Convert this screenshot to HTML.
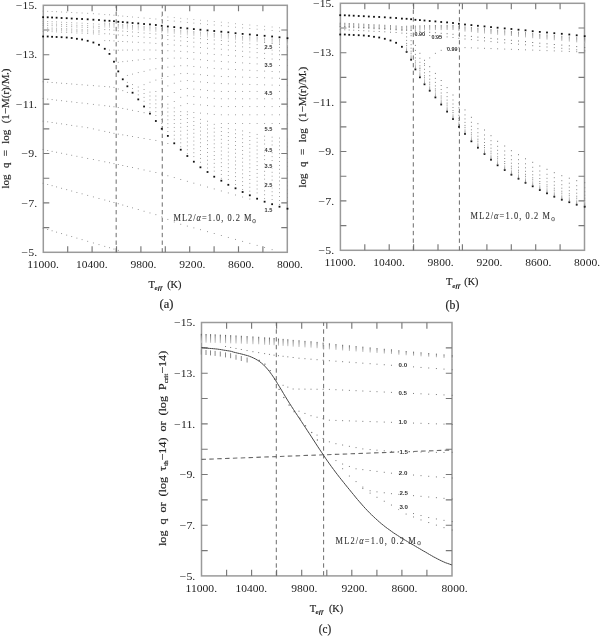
<!DOCTYPE html><html><head><meta charset="utf-8"><style>
html,body{margin:0;padding:0;background:#fff;width:600px;height:636px;overflow:hidden}
svg{display:block}
#w{width:600px;height:636px;will-change:transform}
.tk{font-family:"Liberation Serif",serif;font-size:10.5px;fill:#222}
.lb{font-family:"Liberation Serif",serif;font-size:10px;fill:#222;stroke:#222;stroke-width:0.18px}
.ml{font-family:"Liberation Serif",serif;font-size:10px;fill:#333;stroke:#333;stroke-width:0.1px}
.sm{font-family:"Liberation Sans",sans-serif;font-size:5.6px;font-weight:bold;fill:#333}
</style></head><body><div id="w">
<svg width="600" height="636" viewBox="0 0 600 636">
<defs><linearGradient id="gd" x1="0" y1="0" x2="0" y2="1"><stop offset="0" stop-color="#555"/><stop offset="0.25" stop-color="#888"/><stop offset="1" stop-color="#c8c8c8"/></linearGradient></defs>
<rect x="43.3" y="5.3" width="244.0" height="247.0" fill="none" stroke="#9a9a9a" stroke-width="1.5"/>
<path d="M67.7 5.3V11.3M67.7 252.3V246.3M92.1 5.3V11.3M92.1 252.3V246.3M116.5 5.3V11.3M116.5 252.3V246.3M140.9 5.3V11.3M140.9 252.3V246.3M165.3 5.3V11.3M165.3 252.3V246.3M189.7 5.3V11.3M189.7 252.3V246.3M214.1 5.3V11.3M214.1 252.3V246.3M238.5 5.3V11.3M238.5 252.3V246.3M262.9 5.3V11.3M262.9 252.3V246.3M43.3 30.0H49.3M287.3 30.0H281.3M43.3 54.7H49.3M287.3 54.7H281.3M43.3 79.4H49.3M287.3 79.4H281.3M43.3 104.1H49.3M287.3 104.1H281.3M43.3 128.8H49.3M287.3 128.8H281.3M43.3 153.5H49.3M287.3 153.5H281.3M43.3 178.2H49.3M287.3 178.2H281.3M43.3 202.9H49.3M287.3 202.9H281.3M43.3 227.6H49.3M287.3 227.6H281.3" stroke="#787878" stroke-width="1.15" fill="none"/>
<text x="37.1" y="9.0" class="tk" text-anchor="end" textLength="21.0" lengthAdjust="spacingAndGlyphs">−15.</text>
<text x="37.1" y="58.4" class="tk" text-anchor="end" textLength="21.0" lengthAdjust="spacingAndGlyphs">−13.</text>
<text x="37.1" y="107.8" class="tk" text-anchor="end" textLength="21.0" lengthAdjust="spacingAndGlyphs">−11.</text>
<text x="37.1" y="157.2" class="tk" text-anchor="end" textLength="15.6" lengthAdjust="spacingAndGlyphs">−9.</text>
<text x="37.1" y="206.6" class="tk" text-anchor="end" textLength="15.6" lengthAdjust="spacingAndGlyphs">−7.</text>
<text x="37.1" y="256.0" class="tk" text-anchor="end" textLength="15.6" lengthAdjust="spacingAndGlyphs">−5.</text>
<text x="58.9" y="268.3" class="tk" text-anchor="end" textLength="31.6" lengthAdjust="spacingAndGlyphs">11000.</text>
<text x="107.7" y="268.3" class="tk" text-anchor="end" textLength="31.6" lengthAdjust="spacingAndGlyphs">10400.</text>
<text x="156.5" y="268.3" class="tk" text-anchor="end" textLength="26.0" lengthAdjust="spacingAndGlyphs">9800.</text>
<text x="205.3" y="268.3" class="tk" text-anchor="end" textLength="26.0" lengthAdjust="spacingAndGlyphs">9200.</text>
<text x="254.1" y="268.3" class="tk" text-anchor="end" textLength="26.0" lengthAdjust="spacingAndGlyphs">8600.</text>
<text x="302.9" y="268.3" class="tk" text-anchor="end" textLength="26.0" lengthAdjust="spacingAndGlyphs">8000.</text>
<rect x="340.4" y="3.3" width="244.1" height="247.0" fill="none" stroke="#9a9a9a" stroke-width="1.5"/>
<path d="M364.8 3.3V9.3M364.8 250.3V244.3M389.2 3.3V9.3M389.2 250.3V244.3M413.6 3.3V9.3M413.6 250.3V244.3M438.0 3.3V9.3M438.0 250.3V244.3M462.4 3.3V9.3M462.4 250.3V244.3M486.9 3.3V9.3M486.9 250.3V244.3M511.3 3.3V9.3M511.3 250.3V244.3M535.7 3.3V9.3M535.7 250.3V244.3M560.1 3.3V9.3M560.1 250.3V244.3M340.4 28.0H346.4M584.5 28.0H578.5M340.4 52.7H346.4M584.5 52.7H578.5M340.4 77.4H346.4M584.5 77.4H578.5M340.4 102.1H346.4M584.5 102.1H578.5M340.4 126.8H346.4M584.5 126.8H578.5M340.4 151.5H346.4M584.5 151.5H578.5M340.4 176.2H346.4M584.5 176.2H578.5M340.4 200.9H346.4M584.5 200.9H578.5M340.4 225.6H346.4M584.5 225.6H578.5" stroke="#787878" stroke-width="1.15" fill="none"/>
<text x="334.2" y="7.0" class="tk" text-anchor="end" textLength="21.0" lengthAdjust="spacingAndGlyphs">−15.</text>
<text x="334.2" y="56.4" class="tk" text-anchor="end" textLength="21.0" lengthAdjust="spacingAndGlyphs">−13.</text>
<text x="334.2" y="105.8" class="tk" text-anchor="end" textLength="21.0" lengthAdjust="spacingAndGlyphs">−11.</text>
<text x="334.2" y="155.2" class="tk" text-anchor="end" textLength="15.6" lengthAdjust="spacingAndGlyphs">−9.</text>
<text x="334.2" y="204.6" class="tk" text-anchor="end" textLength="15.6" lengthAdjust="spacingAndGlyphs">−7.</text>
<text x="334.2" y="254.0" class="tk" text-anchor="end" textLength="15.6" lengthAdjust="spacingAndGlyphs">−5.</text>
<text x="356.0" y="266.3" class="tk" text-anchor="end" textLength="31.6" lengthAdjust="spacingAndGlyphs">11000.</text>
<text x="404.8" y="266.3" class="tk" text-anchor="end" textLength="31.6" lengthAdjust="spacingAndGlyphs">10400.</text>
<text x="453.6" y="266.3" class="tk" text-anchor="end" textLength="26.0" lengthAdjust="spacingAndGlyphs">9800.</text>
<text x="502.5" y="266.3" class="tk" text-anchor="end" textLength="26.0" lengthAdjust="spacingAndGlyphs">9200.</text>
<text x="551.3" y="266.3" class="tk" text-anchor="end" textLength="26.0" lengthAdjust="spacingAndGlyphs">8600.</text>
<text x="600.1" y="266.3" class="tk" text-anchor="end" textLength="26.0" lengthAdjust="spacingAndGlyphs">8000.</text>
<rect x="201.5" y="322.5" width="250.5" height="253.4" fill="none" stroke="#9a9a9a" stroke-width="1.5"/>
<path d="M226.6 322.5V328.7M226.6 575.9V569.7M251.6 322.5V328.7M251.6 575.9V569.7M276.6 322.5V328.7M276.6 575.9V569.7M301.7 322.5V328.7M301.7 575.9V569.7M326.8 322.5V328.7M326.8 575.9V569.7M351.8 322.5V328.7M351.8 575.9V569.7M376.9 322.5V328.7M376.9 575.9V569.7M401.9 322.5V328.7M401.9 575.9V569.7M426.9 322.5V328.7M426.9 575.9V569.7M201.5 347.8H207.7M452.0 347.8H445.8M201.5 373.2H207.7M452.0 373.2H445.8M201.5 398.5H207.7M452.0 398.5H445.8M201.5 423.9H207.7M452.0 423.9H445.8M201.5 449.2H207.7M452.0 449.2H445.8M201.5 474.5H207.7M452.0 474.5H445.8M201.5 499.9H207.7M452.0 499.9H445.8M201.5 525.2H207.7M452.0 525.2H445.8M201.5 550.6H207.7M452.0 550.6H445.8" stroke="#787878" stroke-width="1.15" fill="none"/>
<text x="195.3" y="326.2" class="tk" text-anchor="end" textLength="21.0" lengthAdjust="spacingAndGlyphs">−15.</text>
<text x="195.3" y="376.9" class="tk" text-anchor="end" textLength="21.0" lengthAdjust="spacingAndGlyphs">−13.</text>
<text x="195.3" y="427.6" class="tk" text-anchor="end" textLength="21.0" lengthAdjust="spacingAndGlyphs">−11.</text>
<text x="195.3" y="478.2" class="tk" text-anchor="end" textLength="15.6" lengthAdjust="spacingAndGlyphs">−9.</text>
<text x="195.3" y="528.9" class="tk" text-anchor="end" textLength="15.6" lengthAdjust="spacingAndGlyphs">−7.</text>
<text x="195.3" y="579.6" class="tk" text-anchor="end" textLength="15.6" lengthAdjust="spacingAndGlyphs">−5.</text>
<text x="217.1" y="591.9" class="tk" text-anchor="end" textLength="31.6" lengthAdjust="spacingAndGlyphs">11000.</text>
<text x="267.2" y="591.9" class="tk" text-anchor="end" textLength="31.6" lengthAdjust="spacingAndGlyphs">10400.</text>
<text x="317.3" y="591.9" class="tk" text-anchor="end" textLength="26.0" lengthAdjust="spacingAndGlyphs">9800.</text>
<text x="367.4" y="591.9" class="tk" text-anchor="end" textLength="26.0" lengthAdjust="spacingAndGlyphs">9200.</text>
<text x="417.5" y="591.9" class="tk" text-anchor="end" textLength="26.0" lengthAdjust="spacingAndGlyphs">8600.</text>
<text x="467.6" y="591.9" class="tk" text-anchor="end" textLength="26.0" lengthAdjust="spacingAndGlyphs">8000.</text>
<line x1="116.17" y1="5.3" x2="116.17" y2="252.3" stroke="#6c6c6c" stroke-width="1" stroke-dasharray="4.3 3.33" stroke-dashoffset="1.3"/>
<line x1="162.25" y1="5.3" x2="162.25" y2="252.3" stroke="#6c6c6c" stroke-width="1" stroke-dasharray="4.3 3.33" stroke-dashoffset="1.3"/>
<line x1="413.30" y1="3.3" x2="413.30" y2="250.3" stroke="#6c6c6c" stroke-width="1" stroke-dasharray="4.3 3.33" stroke-dashoffset="1.3"/>
<line x1="459.40" y1="3.3" x2="459.40" y2="250.3" stroke="#6c6c6c" stroke-width="1" stroke-dasharray="4.3 3.33" stroke-dashoffset="1.3"/>
<line x1="276.31" y1="322.5" x2="276.31" y2="575.9" stroke="#6c6c6c" stroke-width="1" stroke-dasharray="4.4 3.4" stroke-dashoffset="1.0"/>
<line x1="323.62" y1="322.5" x2="323.62" y2="575.9" stroke="#6c6c6c" stroke-width="1" stroke-dasharray="4.4 3.4" stroke-dashoffset="1.0"/>
<rect x="42.20" y="16.30" width="1.8" height="1.8" fill="#111"/>
<rect x="42.20" y="35.60" width="1.8" height="1.8" fill="#111"/>
<rect x="46.80" y="16.40" width="1.8" height="1.8" fill="#111"/>
<rect x="46.80" y="35.60" width="1.8" height="1.8" fill="#111"/>
<rect x="51.20" y="16.60" width="1.8" height="1.8" fill="#111"/>
<rect x="51.20" y="35.90" width="1.8" height="1.8" fill="#111"/>
<rect x="55.69" y="16.80" width="1.8" height="1.8" fill="#111"/>
<rect x="55.69" y="36.10" width="1.8" height="1.8" fill="#111"/>
<rect x="60.69" y="17.10" width="1.8" height="1.8" fill="#111"/>
<rect x="60.69" y="36.30" width="1.8" height="1.8" fill="#111"/>
<rect x="65.79" y="17.30" width="1.8" height="1.8" fill="#111"/>
<rect x="65.79" y="36.60" width="1.8" height="1.8" fill="#111"/>
<rect x="70.79" y="17.60" width="1.8" height="1.8" fill="#111"/>
<rect x="70.79" y="37.10" width="1.8" height="1.8" fill="#111"/>
<rect x="75.99" y="17.90" width="1.8" height="1.8" fill="#111"/>
<rect x="75.99" y="37.90" width="1.8" height="1.8" fill="#111"/>
<rect x="81.18" y="18.10" width="1.8" height="1.8" fill="#111"/>
<rect x="81.18" y="38.60" width="1.8" height="1.8" fill="#111"/>
<rect x="86.78" y="18.40" width="1.8" height="1.8" fill="#111"/>
<rect x="86.78" y="39.90" width="1.8" height="1.8" fill="#111"/>
<rect x="92.48" y="18.80" width="1.8" height="1.8" fill="#111"/>
<rect x="92.48" y="41.60" width="1.8" height="1.8" fill="#111"/>
<rect x="98.08" y="19.10" width="1.8" height="1.8" fill="#111"/>
<rect x="98.08" y="43.90" width="1.8" height="1.8" fill="#111"/>
<rect x="103.87" y="19.70" width="1.8" height="1.8" fill="#111"/>
<rect x="103.87" y="47.90" width="1.8" height="1.8" fill="#111"/>
<rect x="108.57" y="19.90" width="1.8" height="1.8" fill="#111"/>
<rect x="108.57" y="53.00" width="1.8" height="1.8" fill="#111"/>
<rect x="113.07" y="20.30" width="1.8" height="1.8" fill="#111"/>
<rect x="113.07" y="60.80" width="1.8" height="1.8" fill="#111"/>
<rect x="117.37" y="20.90" width="1.8" height="1.8" fill="#111"/>
<rect x="117.37" y="70.50" width="1.8" height="1.8" fill="#111"/>
<rect x="121.87" y="21.20" width="1.8" height="1.8" fill="#111"/>
<rect x="121.87" y="78.40" width="1.8" height="1.8" fill="#111"/>
<rect x="126.47" y="21.60" width="1.8" height="1.8" fill="#111"/>
<rect x="126.47" y="85.40" width="1.8" height="1.8" fill="#111"/>
<rect x="131.66" y="22.10" width="1.8" height="1.8" fill="#111"/>
<rect x="131.66" y="91.80" width="1.8" height="1.8" fill="#111"/>
<rect x="137.36" y="22.50" width="1.8" height="1.8" fill="#111"/>
<rect x="137.36" y="98.50" width="1.8" height="1.8" fill="#111"/>
<rect x="143.16" y="23.10" width="1.8" height="1.8" fill="#111"/>
<rect x="143.16" y="105.60" width="1.8" height="1.8" fill="#111"/>
<rect x="149.06" y="23.50" width="1.8" height="1.8" fill="#111"/>
<rect x="149.06" y="112.70" width="1.8" height="1.8" fill="#111"/>
<rect x="154.95" y="24.10" width="1.8" height="1.8" fill="#111"/>
<rect x="154.95" y="120.10" width="1.8" height="1.8" fill="#111"/>
<rect x="160.85" y="24.90" width="1.8" height="1.8" fill="#111"/>
<rect x="160.85" y="127.90" width="1.8" height="1.8" fill="#111"/>
<rect x="166.95" y="25.60" width="1.8" height="1.8" fill="#111"/>
<rect x="166.95" y="135.00" width="1.8" height="1.8" fill="#111"/>
<rect x="173.35" y="26.20" width="1.8" height="1.8" fill="#111"/>
<rect x="173.35" y="142.40" width="1.8" height="1.8" fill="#111"/>
<rect x="179.84" y="26.90" width="1.8" height="1.8" fill="#111"/>
<rect x="179.84" y="148.80" width="1.8" height="1.8" fill="#111"/>
<rect x="186.44" y="27.50" width="1.8" height="1.8" fill="#111"/>
<rect x="186.44" y="155.10" width="1.8" height="1.8" fill="#111"/>
<rect x="192.94" y="28.20" width="1.8" height="1.8" fill="#111"/>
<rect x="192.94" y="160.80" width="1.8" height="1.8" fill="#111"/>
<rect x="199.54" y="28.80" width="1.8" height="1.8" fill="#111"/>
<rect x="199.54" y="166.40" width="1.8" height="1.8" fill="#111"/>
<rect x="206.63" y="29.50" width="1.8" height="1.8" fill="#111"/>
<rect x="206.63" y="171.10" width="1.8" height="1.8" fill="#111"/>
<rect x="213.33" y="30.10" width="1.8" height="1.8" fill="#111"/>
<rect x="213.33" y="175.80" width="1.8" height="1.8" fill="#111"/>
<rect x="220.43" y="30.80" width="1.8" height="1.8" fill="#111"/>
<rect x="220.43" y="179.80" width="1.8" height="1.8" fill="#111"/>
<rect x="227.42" y="31.40" width="1.8" height="1.8" fill="#111"/>
<rect x="227.42" y="183.90" width="1.8" height="1.8" fill="#111"/>
<rect x="234.62" y="32.30" width="1.8" height="1.8" fill="#111"/>
<rect x="234.62" y="187.40" width="1.8" height="1.8" fill="#111"/>
<rect x="241.72" y="33.00" width="1.8" height="1.8" fill="#111"/>
<rect x="241.72" y="191.10" width="1.8" height="1.8" fill="#111"/>
<rect x="248.92" y="33.60" width="1.8" height="1.8" fill="#111"/>
<rect x="248.92" y="194.40" width="1.8" height="1.8" fill="#111"/>
<rect x="256.21" y="34.30" width="1.8" height="1.8" fill="#111"/>
<rect x="256.21" y="197.80" width="1.8" height="1.8" fill="#111"/>
<rect x="263.71" y="34.90" width="1.8" height="1.8" fill="#111"/>
<rect x="263.71" y="200.80" width="1.8" height="1.8" fill="#111"/>
<rect x="271.21" y="35.60" width="1.8" height="1.8" fill="#111"/>
<rect x="271.21" y="203.30" width="1.8" height="1.8" fill="#111"/>
<rect x="278.60" y="36.40" width="1.8" height="1.8" fill="#111"/>
<rect x="278.60" y="205.80" width="1.8" height="1.8" fill="#111"/>
<rect x="286.60" y="37.30" width="1.8" height="1.8" fill="#111"/>
<rect x="286.60" y="207.80" width="1.8" height="1.8" fill="#111"/>
<rect x="339.30" y="14.30" width="1.8" height="1.8" fill="#111"/>
<rect x="339.30" y="33.60" width="1.8" height="1.8" fill="#111"/>
<rect x="343.90" y="14.40" width="1.8" height="1.8" fill="#111"/>
<rect x="343.90" y="33.60" width="1.8" height="1.8" fill="#111"/>
<rect x="348.30" y="14.60" width="1.8" height="1.8" fill="#111"/>
<rect x="348.30" y="33.90" width="1.8" height="1.8" fill="#111"/>
<rect x="352.80" y="14.80" width="1.8" height="1.8" fill="#111"/>
<rect x="352.80" y="34.10" width="1.8" height="1.8" fill="#111"/>
<rect x="357.80" y="15.10" width="1.8" height="1.8" fill="#111"/>
<rect x="357.80" y="34.30" width="1.8" height="1.8" fill="#111"/>
<rect x="362.90" y="15.30" width="1.8" height="1.8" fill="#111"/>
<rect x="362.90" y="34.60" width="1.8" height="1.8" fill="#111"/>
<rect x="367.90" y="15.60" width="1.8" height="1.8" fill="#111"/>
<rect x="367.90" y="35.10" width="1.8" height="1.8" fill="#111"/>
<rect x="373.10" y="15.90" width="1.8" height="1.8" fill="#111"/>
<rect x="373.10" y="35.90" width="1.8" height="1.8" fill="#111"/>
<rect x="378.30" y="16.10" width="1.8" height="1.8" fill="#111"/>
<rect x="378.30" y="36.60" width="1.8" height="1.8" fill="#111"/>
<rect x="383.90" y="16.40" width="1.8" height="1.8" fill="#111"/>
<rect x="383.90" y="37.90" width="1.8" height="1.8" fill="#111"/>
<rect x="389.60" y="16.80" width="1.8" height="1.8" fill="#111"/>
<rect x="389.60" y="39.60" width="1.8" height="1.8" fill="#111"/>
<rect x="395.20" y="17.10" width="1.8" height="1.8" fill="#111"/>
<rect x="395.20" y="41.90" width="1.8" height="1.8" fill="#111"/>
<rect x="401.00" y="17.70" width="1.8" height="1.8" fill="#111"/>
<rect x="401.00" y="45.90" width="1.8" height="1.8" fill="#111"/>
<rect x="405.70" y="17.90" width="1.8" height="1.8" fill="#111"/>
<rect x="405.70" y="51.00" width="1.8" height="1.8" fill="#111"/>
<rect x="410.20" y="18.30" width="1.8" height="1.8" fill="#111"/>
<rect x="410.20" y="58.80" width="1.8" height="1.8" fill="#111"/>
<rect x="414.50" y="18.90" width="1.8" height="1.8" fill="#111"/>
<rect x="414.50" y="68.50" width="1.8" height="1.8" fill="#111"/>
<rect x="419.00" y="19.20" width="1.8" height="1.8" fill="#111"/>
<rect x="419.00" y="76.40" width="1.8" height="1.8" fill="#111"/>
<rect x="423.60" y="19.60" width="1.8" height="1.8" fill="#111"/>
<rect x="423.60" y="83.40" width="1.8" height="1.8" fill="#111"/>
<rect x="428.80" y="20.10" width="1.8" height="1.8" fill="#111"/>
<rect x="428.80" y="89.80" width="1.8" height="1.8" fill="#111"/>
<rect x="434.50" y="20.50" width="1.8" height="1.8" fill="#111"/>
<rect x="434.50" y="96.50" width="1.8" height="1.8" fill="#111"/>
<rect x="440.30" y="21.10" width="1.8" height="1.8" fill="#111"/>
<rect x="440.30" y="103.60" width="1.8" height="1.8" fill="#111"/>
<rect x="446.20" y="21.50" width="1.8" height="1.8" fill="#111"/>
<rect x="446.20" y="110.70" width="1.8" height="1.8" fill="#111"/>
<rect x="452.10" y="22.10" width="1.8" height="1.8" fill="#111"/>
<rect x="452.10" y="118.10" width="1.8" height="1.8" fill="#111"/>
<rect x="458.00" y="22.90" width="1.8" height="1.8" fill="#111"/>
<rect x="458.00" y="125.90" width="1.8" height="1.8" fill="#111"/>
<rect x="464.10" y="23.60" width="1.8" height="1.8" fill="#111"/>
<rect x="464.10" y="133.00" width="1.8" height="1.8" fill="#111"/>
<rect x="470.50" y="24.20" width="1.8" height="1.8" fill="#111"/>
<rect x="470.50" y="140.40" width="1.8" height="1.8" fill="#111"/>
<rect x="477.00" y="24.90" width="1.8" height="1.8" fill="#111"/>
<rect x="477.00" y="146.80" width="1.8" height="1.8" fill="#111"/>
<rect x="483.60" y="25.50" width="1.8" height="1.8" fill="#111"/>
<rect x="483.60" y="153.10" width="1.8" height="1.8" fill="#111"/>
<rect x="490.10" y="26.20" width="1.8" height="1.8" fill="#111"/>
<rect x="490.10" y="158.80" width="1.8" height="1.8" fill="#111"/>
<rect x="496.70" y="26.80" width="1.8" height="1.8" fill="#111"/>
<rect x="496.70" y="164.40" width="1.8" height="1.8" fill="#111"/>
<rect x="503.80" y="27.50" width="1.8" height="1.8" fill="#111"/>
<rect x="503.80" y="169.10" width="1.8" height="1.8" fill="#111"/>
<rect x="510.50" y="28.10" width="1.8" height="1.8" fill="#111"/>
<rect x="510.50" y="173.80" width="1.8" height="1.8" fill="#111"/>
<rect x="517.60" y="28.80" width="1.8" height="1.8" fill="#111"/>
<rect x="517.60" y="177.80" width="1.8" height="1.8" fill="#111"/>
<rect x="524.60" y="29.40" width="1.8" height="1.8" fill="#111"/>
<rect x="524.60" y="181.90" width="1.8" height="1.8" fill="#111"/>
<rect x="531.80" y="30.30" width="1.8" height="1.8" fill="#111"/>
<rect x="531.80" y="185.40" width="1.8" height="1.8" fill="#111"/>
<rect x="538.90" y="31.00" width="1.8" height="1.8" fill="#111"/>
<rect x="538.90" y="189.10" width="1.8" height="1.8" fill="#111"/>
<rect x="546.10" y="31.60" width="1.8" height="1.8" fill="#111"/>
<rect x="546.10" y="192.40" width="1.8" height="1.8" fill="#111"/>
<rect x="553.40" y="32.30" width="1.8" height="1.8" fill="#111"/>
<rect x="553.40" y="195.80" width="1.8" height="1.8" fill="#111"/>
<rect x="560.90" y="32.90" width="1.8" height="1.8" fill="#111"/>
<rect x="560.90" y="198.80" width="1.8" height="1.8" fill="#111"/>
<rect x="568.40" y="33.60" width="1.8" height="1.8" fill="#111"/>
<rect x="568.40" y="201.30" width="1.8" height="1.8" fill="#111"/>
<rect x="575.80" y="34.40" width="1.8" height="1.8" fill="#111"/>
<rect x="575.80" y="203.80" width="1.8" height="1.8" fill="#111"/>
<rect x="583.80" y="35.30" width="1.8" height="1.8" fill="#111"/>
<rect x="583.80" y="205.80" width="1.8" height="1.8" fill="#111"/>
<rect x="339.70" y="22.70" width="1.0" height="1.0" fill="#787878"/>
<rect x="339.70" y="23.70" width="1.0" height="1.0" fill="#848484"/>
<rect x="339.70" y="24.70" width="1.0" height="1.0" fill="#909090"/>
<rect x="339.70" y="25.70" width="1.0" height="1.0" fill="#9c9c9c"/>
<rect x="339.70" y="26.70" width="1.0" height="1.0" fill="#a8a8a8"/>
<rect x="339.70" y="26.00" width="1.0" height="1.0" fill="#6e6e6e"/>
<rect x="339.70" y="29.20" width="1.0" height="1.0" fill="#828282"/>
<rect x="344.30" y="22.80" width="1.0" height="1.0" fill="#787878"/>
<rect x="344.30" y="23.80" width="1.0" height="1.0" fill="#848484"/>
<rect x="344.30" y="24.80" width="1.0" height="1.0" fill="#909090"/>
<rect x="344.30" y="25.80" width="1.0" height="1.0" fill="#9c9c9c"/>
<rect x="344.30" y="26.80" width="1.0" height="1.0" fill="#a8a8a8"/>
<rect x="344.30" y="26.10" width="1.0" height="1.0" fill="#6e6e6e"/>
<rect x="344.30" y="29.30" width="1.0" height="1.0" fill="#828282"/>
<rect x="348.70" y="23.00" width="1.0" height="1.0" fill="#787878"/>
<rect x="348.70" y="24.00" width="1.0" height="1.0" fill="#848484"/>
<rect x="348.70" y="25.00" width="1.0" height="1.0" fill="#909090"/>
<rect x="348.70" y="26.00" width="1.0" height="1.0" fill="#9c9c9c"/>
<rect x="348.70" y="27.00" width="1.0" height="1.0" fill="#a8a8a8"/>
<rect x="348.70" y="26.30" width="1.0" height="1.0" fill="#6e6e6e"/>
<rect x="348.70" y="29.50" width="1.0" height="1.0" fill="#828282"/>
<rect x="353.20" y="23.20" width="1.0" height="1.0" fill="#787878"/>
<rect x="353.20" y="24.20" width="1.0" height="1.0" fill="#848484"/>
<rect x="353.20" y="25.20" width="1.0" height="1.0" fill="#909090"/>
<rect x="353.20" y="26.20" width="1.0" height="1.0" fill="#9c9c9c"/>
<rect x="353.20" y="27.20" width="1.0" height="1.0" fill="#a8a8a8"/>
<rect x="353.20" y="26.50" width="1.0" height="1.0" fill="#6e6e6e"/>
<rect x="353.20" y="29.70" width="1.0" height="1.0" fill="#828282"/>
<rect x="358.20" y="23.50" width="1.0" height="1.0" fill="#787878"/>
<rect x="358.20" y="24.50" width="1.0" height="1.0" fill="#848484"/>
<rect x="358.20" y="25.50" width="1.0" height="1.0" fill="#909090"/>
<rect x="358.20" y="26.50" width="1.0" height="1.0" fill="#9c9c9c"/>
<rect x="358.20" y="27.50" width="1.0" height="1.0" fill="#a8a8a8"/>
<rect x="358.20" y="26.80" width="1.0" height="1.0" fill="#6e6e6e"/>
<rect x="358.20" y="30.00" width="1.0" height="1.0" fill="#828282"/>
<rect x="363.30" y="23.70" width="1.0" height="1.0" fill="#787878"/>
<rect x="363.30" y="24.70" width="1.0" height="1.0" fill="#848484"/>
<rect x="363.30" y="25.70" width="1.0" height="1.0" fill="#909090"/>
<rect x="363.30" y="26.70" width="1.0" height="1.0" fill="#9c9c9c"/>
<rect x="363.30" y="27.70" width="1.0" height="1.0" fill="#a8a8a8"/>
<rect x="363.30" y="27.00" width="1.0" height="1.0" fill="#6e6e6e"/>
<rect x="363.30" y="30.20" width="1.0" height="1.0" fill="#828282"/>
<rect x="368.30" y="24.00" width="1.0" height="1.0" fill="#787878"/>
<rect x="368.30" y="25.00" width="1.0" height="1.0" fill="#848484"/>
<rect x="368.30" y="26.00" width="1.0" height="1.0" fill="#909090"/>
<rect x="368.30" y="27.00" width="1.0" height="1.0" fill="#9c9c9c"/>
<rect x="368.30" y="28.00" width="1.0" height="1.0" fill="#a8a8a8"/>
<rect x="368.30" y="27.30" width="1.0" height="1.0" fill="#6e6e6e"/>
<rect x="368.30" y="30.50" width="1.0" height="1.0" fill="#828282"/>
<rect x="373.50" y="24.30" width="1.0" height="1.0" fill="#787878"/>
<rect x="373.50" y="25.30" width="1.0" height="1.0" fill="#848484"/>
<rect x="373.50" y="26.30" width="1.0" height="1.0" fill="#909090"/>
<rect x="373.50" y="27.30" width="1.0" height="1.0" fill="#9c9c9c"/>
<rect x="373.50" y="28.30" width="1.0" height="1.0" fill="#a8a8a8"/>
<rect x="373.50" y="27.60" width="1.0" height="1.0" fill="#6e6e6e"/>
<rect x="373.50" y="30.80" width="1.0" height="1.0" fill="#828282"/>
<rect x="378.70" y="24.50" width="1.0" height="1.0" fill="#787878"/>
<rect x="378.70" y="25.50" width="1.0" height="1.0" fill="#848484"/>
<rect x="378.70" y="26.50" width="1.0" height="1.0" fill="#909090"/>
<rect x="378.70" y="27.50" width="1.0" height="1.0" fill="#9c9c9c"/>
<rect x="378.70" y="28.50" width="1.0" height="1.0" fill="#a8a8a8"/>
<rect x="378.70" y="27.80" width="1.0" height="1.0" fill="#6e6e6e"/>
<rect x="378.70" y="31.00" width="1.0" height="1.0" fill="#828282"/>
<rect x="384.30" y="24.80" width="1.0" height="1.0" fill="#787878"/>
<rect x="384.30" y="25.80" width="1.0" height="1.0" fill="#848484"/>
<rect x="384.30" y="26.80" width="1.0" height="1.0" fill="#909090"/>
<rect x="384.30" y="27.80" width="1.0" height="1.0" fill="#9c9c9c"/>
<rect x="384.30" y="28.80" width="1.0" height="1.0" fill="#a8a8a8"/>
<rect x="384.30" y="28.10" width="1.0" height="1.0" fill="#6e6e6e"/>
<rect x="384.30" y="31.30" width="1.0" height="1.0" fill="#828282"/>
<rect x="390.00" y="25.20" width="1.0" height="1.0" fill="#787878"/>
<rect x="390.00" y="26.20" width="1.0" height="1.0" fill="#848484"/>
<rect x="390.00" y="27.20" width="1.0" height="1.0" fill="#909090"/>
<rect x="390.00" y="28.20" width="1.0" height="1.0" fill="#9c9c9c"/>
<rect x="390.00" y="29.20" width="1.0" height="1.0" fill="#a8a8a8"/>
<rect x="390.00" y="28.50" width="1.0" height="1.0" fill="#6e6e6e"/>
<rect x="390.00" y="31.70" width="1.0" height="1.0" fill="#828282"/>
<rect x="395.60" y="25.50" width="1.0" height="1.0" fill="#787878"/>
<rect x="395.60" y="26.50" width="1.0" height="1.0" fill="#848484"/>
<rect x="395.60" y="27.50" width="1.0" height="1.0" fill="#909090"/>
<rect x="395.60" y="28.50" width="1.0" height="1.0" fill="#9c9c9c"/>
<rect x="395.60" y="29.50" width="1.0" height="1.0" fill="#a8a8a8"/>
<rect x="395.60" y="28.80" width="1.0" height="1.0" fill="#6e6e6e"/>
<rect x="395.60" y="32.00" width="1.0" height="1.0" fill="#828282"/>
<rect x="401.40" y="26.10" width="1.0" height="1.0" fill="#787878"/>
<rect x="401.40" y="27.10" width="1.0" height="1.0" fill="#848484"/>
<rect x="401.40" y="28.10" width="1.0" height="1.0" fill="#909090"/>
<rect x="401.40" y="29.10" width="1.0" height="1.0" fill="#9c9c9c"/>
<rect x="401.40" y="30.10" width="1.0" height="1.0" fill="#a8a8a8"/>
<rect x="401.40" y="29.40" width="1.0" height="1.0" fill="#6e6e6e"/>
<rect x="401.40" y="32.60" width="1.0" height="1.0" fill="#828282"/>
<rect x="406.10" y="25.75" width="1.0" height="1.0" fill="#7d7d7d"/>
<rect x="406.10" y="26.75" width="1.0" height="1.0" fill="#898989"/>
<rect x="406.10" y="27.75" width="1.0" height="1.0" fill="#959595"/>
<rect x="406.10" y="28.75" width="1.0" height="1.0" fill="#a1a1a1"/>
<rect x="406.10" y="29.75" width="1.0" height="1.0" fill="#adadad"/>
<rect x="406.10" y="29.60" width="1.0" height="1.0" fill="#6e6e6e"/>
<rect x="406.10" y="32.80" width="1.0" height="1.0" fill="#828282"/>
<rect x="406.15" y="50.65" width="0.9" height="0.9" fill="#747474"/>
<rect x="406.15" y="49.85" width="0.9" height="0.9" fill="#848484"/>
<rect x="406.15" y="49.05" width="0.9" height="0.9" fill="#949494"/>
<rect x="406.15" y="48.25" width="0.9" height="0.9" fill="#a4a4a4"/>
<rect x="406.15" y="47.45" width="0.9" height="0.9" fill="#b4b4b4"/>
<rect x="406.15" y="46.65" width="0.9" height="0.9" fill="#c4c4c4"/>
<rect x="406.10" y="44.90" width="1.0" height="1.0" fill="#878787"/>
<rect x="406.10" y="42.90" width="1.0" height="1.0" fill="#878787"/>
<rect x="406.10" y="39.90" width="1.0" height="1.0" fill="#878787"/>
<rect x="406.10" y="36.40" width="1.0" height="1.0" fill="#878787"/>
<rect x="410.60" y="25.60" width="1.0" height="1.0" fill="#7d7d7d"/>
<rect x="410.60" y="26.60" width="1.0" height="1.0" fill="#898989"/>
<rect x="410.60" y="27.60" width="1.0" height="1.0" fill="#959595"/>
<rect x="410.60" y="28.60" width="1.0" height="1.0" fill="#a1a1a1"/>
<rect x="410.60" y="29.60" width="1.0" height="1.0" fill="#adadad"/>
<rect x="410.60" y="30.00" width="1.0" height="1.0" fill="#6e6e6e"/>
<rect x="410.60" y="33.20" width="1.0" height="1.0" fill="#828282"/>
<rect x="410.65" y="58.45" width="0.9" height="0.9" fill="#747474"/>
<rect x="410.65" y="57.65" width="0.9" height="0.9" fill="#848484"/>
<rect x="410.65" y="56.85" width="0.9" height="0.9" fill="#949494"/>
<rect x="410.65" y="56.05" width="0.9" height="0.9" fill="#a4a4a4"/>
<rect x="410.65" y="55.25" width="0.9" height="0.9" fill="#b4b4b4"/>
<rect x="410.65" y="54.45" width="0.9" height="0.9" fill="#c4c4c4"/>
<rect x="410.60" y="52.70" width="1.0" height="1.0" fill="#878787"/>
<rect x="410.60" y="50.70" width="1.0" height="1.0" fill="#878787"/>
<rect x="410.60" y="47.70" width="1.0" height="1.0" fill="#878787"/>
<rect x="410.60" y="44.20" width="1.0" height="1.0" fill="#878787"/>
<rect x="410.60" y="40.20" width="1.0" height="1.0" fill="#878787"/>
<rect x="410.60" y="35.20" width="1.0" height="1.0" fill="#787878"/>
<rect x="414.90" y="25.65" width="1.0" height="1.0" fill="#7d7d7d"/>
<rect x="414.90" y="26.65" width="1.0" height="1.0" fill="#898989"/>
<rect x="414.90" y="27.65" width="1.0" height="1.0" fill="#959595"/>
<rect x="414.90" y="28.65" width="1.0" height="1.0" fill="#a1a1a1"/>
<rect x="414.90" y="29.65" width="1.0" height="1.0" fill="#adadad"/>
<rect x="414.90" y="30.60" width="1.0" height="1.0" fill="#6e6e6e"/>
<rect x="414.90" y="33.80" width="1.0" height="1.0" fill="#828282"/>
<rect x="414.95" y="68.15" width="0.9" height="0.9" fill="#747474"/>
<rect x="414.95" y="67.35" width="0.9" height="0.9" fill="#848484"/>
<rect x="414.95" y="66.55" width="0.9" height="0.9" fill="#949494"/>
<rect x="414.95" y="65.75" width="0.9" height="0.9" fill="#a4a4a4"/>
<rect x="414.95" y="64.95" width="0.9" height="0.9" fill="#b4b4b4"/>
<rect x="414.95" y="64.15" width="0.9" height="0.9" fill="#c4c4c4"/>
<rect x="414.90" y="62.40" width="1.0" height="1.0" fill="#878787"/>
<rect x="414.90" y="60.40" width="1.0" height="1.0" fill="#878787"/>
<rect x="414.90" y="57.40" width="1.0" height="1.0" fill="#878787"/>
<rect x="414.90" y="53.90" width="1.0" height="1.0" fill="#878787"/>
<rect x="414.90" y="49.90" width="1.0" height="1.0" fill="#878787"/>
<rect x="414.90" y="44.90" width="1.0" height="1.0" fill="#787878"/>
<rect x="419.40" y="25.40" width="1.0" height="1.0" fill="#7d7d7d"/>
<rect x="419.40" y="26.40" width="1.0" height="1.0" fill="#898989"/>
<rect x="419.40" y="27.40" width="1.0" height="1.0" fill="#959595"/>
<rect x="419.40" y="28.40" width="1.0" height="1.0" fill="#a1a1a1"/>
<rect x="419.40" y="29.40" width="1.0" height="1.0" fill="#adadad"/>
<rect x="419.40" y="30.90" width="1.0" height="1.0" fill="#6e6e6e"/>
<rect x="419.40" y="34.10" width="1.0" height="1.0" fill="#828282"/>
<rect x="419.40" y="67.50" width="1.0" height="1.0" fill="#8c8c8c"/>
<rect x="419.45" y="76.05" width="0.9" height="0.9" fill="#747474"/>
<rect x="419.45" y="75.25" width="0.9" height="0.9" fill="#848484"/>
<rect x="419.45" y="74.45" width="0.9" height="0.9" fill="#949494"/>
<rect x="419.45" y="73.65" width="0.9" height="0.9" fill="#a4a4a4"/>
<rect x="419.45" y="72.85" width="0.9" height="0.9" fill="#b4b4b4"/>
<rect x="419.45" y="72.05" width="0.9" height="0.9" fill="#c4c4c4"/>
<rect x="419.40" y="70.30" width="1.0" height="1.0" fill="#878787"/>
<rect x="419.40" y="68.30" width="1.0" height="1.0" fill="#878787"/>
<rect x="419.40" y="65.30" width="1.0" height="1.0" fill="#878787"/>
<rect x="419.40" y="61.80" width="1.0" height="1.0" fill="#878787"/>
<rect x="419.40" y="57.80" width="1.0" height="1.0" fill="#878787"/>
<rect x="419.40" y="52.80" width="1.0" height="1.0" fill="#787878"/>
<rect x="424.00" y="25.25" width="1.0" height="1.0" fill="#7d7d7d"/>
<rect x="424.00" y="26.25" width="1.0" height="1.0" fill="#898989"/>
<rect x="424.00" y="27.25" width="1.0" height="1.0" fill="#959595"/>
<rect x="424.00" y="28.25" width="1.0" height="1.0" fill="#a1a1a1"/>
<rect x="424.00" y="29.25" width="1.0" height="1.0" fill="#adadad"/>
<rect x="424.00" y="31.30" width="1.0" height="1.0" fill="#6e6e6e"/>
<rect x="424.00" y="34.50" width="1.0" height="1.0" fill="#828282"/>
<rect x="424.00" y="63.10" width="1.0" height="1.0" fill="#8c8c8c"/>
<rect x="424.05" y="83.05" width="0.9" height="0.9" fill="#747474"/>
<rect x="424.05" y="82.25" width="0.9" height="0.9" fill="#848484"/>
<rect x="424.05" y="81.45" width="0.9" height="0.9" fill="#949494"/>
<rect x="424.05" y="80.65" width="0.9" height="0.9" fill="#a4a4a4"/>
<rect x="424.05" y="79.85" width="0.9" height="0.9" fill="#b4b4b4"/>
<rect x="424.05" y="79.05" width="0.9" height="0.9" fill="#c4c4c4"/>
<rect x="424.00" y="77.30" width="1.0" height="1.0" fill="#878787"/>
<rect x="424.00" y="75.30" width="1.0" height="1.0" fill="#878787"/>
<rect x="424.00" y="72.30" width="1.0" height="1.0" fill="#878787"/>
<rect x="424.00" y="68.80" width="1.0" height="1.0" fill="#878787"/>
<rect x="424.00" y="64.80" width="1.0" height="1.0" fill="#878787"/>
<rect x="424.00" y="59.80" width="1.0" height="1.0" fill="#787878"/>
<rect x="429.20" y="25.20" width="1.0" height="1.0" fill="#7d7d7d"/>
<rect x="429.20" y="26.20" width="1.0" height="1.0" fill="#898989"/>
<rect x="429.20" y="27.20" width="1.0" height="1.0" fill="#959595"/>
<rect x="429.20" y="28.20" width="1.0" height="1.0" fill="#a1a1a1"/>
<rect x="429.20" y="29.20" width="1.0" height="1.0" fill="#adadad"/>
<rect x="429.20" y="31.80" width="1.0" height="1.0" fill="#6e6e6e"/>
<rect x="429.20" y="35.00" width="1.0" height="1.0" fill="#828282"/>
<rect x="429.20" y="57.42" width="1.0" height="1.0" fill="#8c8c8c"/>
<rect x="429.25" y="89.45" width="0.9" height="0.9" fill="#747474"/>
<rect x="429.25" y="88.65" width="0.9" height="0.9" fill="#848484"/>
<rect x="429.25" y="87.85" width="0.9" height="0.9" fill="#949494"/>
<rect x="429.25" y="87.05" width="0.9" height="0.9" fill="#a4a4a4"/>
<rect x="429.25" y="86.25" width="0.9" height="0.9" fill="#b4b4b4"/>
<rect x="429.25" y="85.45" width="0.9" height="0.9" fill="#c4c4c4"/>
<rect x="429.20" y="83.70" width="1.0" height="1.0" fill="#878787"/>
<rect x="429.20" y="81.70" width="1.0" height="1.0" fill="#878787"/>
<rect x="429.20" y="78.70" width="1.0" height="1.0" fill="#878787"/>
<rect x="429.20" y="75.20" width="1.0" height="1.0" fill="#878787"/>
<rect x="429.20" y="71.20" width="1.0" height="1.0" fill="#878787"/>
<rect x="429.20" y="66.20" width="1.0" height="1.0" fill="#787878"/>
<rect x="434.90" y="25.05" width="1.0" height="1.0" fill="#7d7d7d"/>
<rect x="434.90" y="26.05" width="1.0" height="1.0" fill="#898989"/>
<rect x="434.90" y="27.05" width="1.0" height="1.0" fill="#959595"/>
<rect x="434.90" y="28.05" width="1.0" height="1.0" fill="#a1a1a1"/>
<rect x="434.90" y="29.05" width="1.0" height="1.0" fill="#adadad"/>
<rect x="434.90" y="32.20" width="1.0" height="1.0" fill="#6e6e6e"/>
<rect x="434.90" y="35.40" width="1.0" height="1.0" fill="#828282"/>
<rect x="434.90" y="52.85" width="1.0" height="1.0" fill="#8c8c8c"/>
<rect x="434.95" y="96.15" width="0.9" height="0.9" fill="#747474"/>
<rect x="434.95" y="95.35" width="0.9" height="0.9" fill="#848484"/>
<rect x="434.95" y="94.55" width="0.9" height="0.9" fill="#949494"/>
<rect x="434.95" y="93.75" width="0.9" height="0.9" fill="#a4a4a4"/>
<rect x="434.95" y="92.95" width="0.9" height="0.9" fill="#b4b4b4"/>
<rect x="434.95" y="92.15" width="0.9" height="0.9" fill="#c4c4c4"/>
<rect x="434.90" y="90.40" width="1.0" height="1.0" fill="#878787"/>
<rect x="434.90" y="88.40" width="1.0" height="1.0" fill="#878787"/>
<rect x="434.90" y="85.40" width="1.0" height="1.0" fill="#878787"/>
<rect x="434.90" y="81.90" width="1.0" height="1.0" fill="#878787"/>
<rect x="434.90" y="77.90" width="1.0" height="1.0" fill="#878787"/>
<rect x="434.90" y="72.90" width="1.0" height="1.0" fill="#787878"/>
<rect x="440.70" y="25.10" width="1.0" height="1.0" fill="#7d7d7d"/>
<rect x="440.70" y="26.10" width="1.0" height="1.0" fill="#898989"/>
<rect x="440.70" y="27.10" width="1.0" height="1.0" fill="#959595"/>
<rect x="440.70" y="28.10" width="1.0" height="1.0" fill="#a1a1a1"/>
<rect x="440.70" y="29.10" width="1.0" height="1.0" fill="#adadad"/>
<rect x="440.70" y="32.80" width="1.0" height="1.0" fill="#6e6e6e"/>
<rect x="440.70" y="36.00" width="1.0" height="1.0" fill="#828282"/>
<rect x="440.70" y="49.85" width="1.0" height="1.0" fill="#8c8c8c"/>
<rect x="440.75" y="103.25" width="0.9" height="0.9" fill="#747474"/>
<rect x="440.75" y="102.45" width="0.9" height="0.9" fill="#848484"/>
<rect x="440.75" y="101.65" width="0.9" height="0.9" fill="#949494"/>
<rect x="440.75" y="100.85" width="0.9" height="0.9" fill="#a4a4a4"/>
<rect x="440.75" y="100.05" width="0.9" height="0.9" fill="#b4b4b4"/>
<rect x="440.75" y="99.25" width="0.9" height="0.9" fill="#c4c4c4"/>
<rect x="440.70" y="97.50" width="1.0" height="1.0" fill="#878787"/>
<rect x="440.70" y="95.50" width="1.0" height="1.0" fill="#878787"/>
<rect x="440.70" y="92.50" width="1.0" height="1.0" fill="#878787"/>
<rect x="440.70" y="89.00" width="1.0" height="1.0" fill="#878787"/>
<rect x="440.70" y="85.00" width="1.0" height="1.0" fill="#878787"/>
<rect x="440.70" y="80.00" width="1.0" height="1.0" fill="#787878"/>
<rect x="446.60" y="24.95" width="1.0" height="1.0" fill="#7d7d7d"/>
<rect x="446.60" y="25.95" width="1.0" height="1.0" fill="#898989"/>
<rect x="446.60" y="26.95" width="1.0" height="1.0" fill="#959595"/>
<rect x="446.60" y="27.95" width="1.0" height="1.0" fill="#a1a1a1"/>
<rect x="446.60" y="28.95" width="1.0" height="1.0" fill="#adadad"/>
<rect x="446.60" y="33.20" width="1.0" height="1.0" fill="#6e6e6e"/>
<rect x="446.60" y="36.40" width="1.0" height="1.0" fill="#828282"/>
<rect x="446.60" y="47.34" width="1.0" height="1.0" fill="#8c8c8c"/>
<rect x="446.65" y="110.35" width="0.9" height="0.9" fill="#747474"/>
<rect x="446.65" y="109.55" width="0.9" height="0.9" fill="#848484"/>
<rect x="446.65" y="108.75" width="0.9" height="0.9" fill="#949494"/>
<rect x="446.65" y="107.95" width="0.9" height="0.9" fill="#a4a4a4"/>
<rect x="446.65" y="107.15" width="0.9" height="0.9" fill="#b4b4b4"/>
<rect x="446.65" y="106.35" width="0.9" height="0.9" fill="#c4c4c4"/>
<rect x="446.60" y="104.60" width="1.0" height="1.0" fill="#878787"/>
<rect x="446.60" y="102.60" width="1.0" height="1.0" fill="#878787"/>
<rect x="446.60" y="99.60" width="1.0" height="1.0" fill="#878787"/>
<rect x="446.60" y="96.10" width="1.0" height="1.0" fill="#878787"/>
<rect x="446.60" y="92.10" width="1.0" height="1.0" fill="#878787"/>
<rect x="446.60" y="87.10" width="1.0" height="1.0" fill="#787878"/>
<rect x="452.50" y="25.00" width="1.0" height="1.0" fill="#7d7d7d"/>
<rect x="452.50" y="26.00" width="1.0" height="1.0" fill="#898989"/>
<rect x="452.50" y="27.00" width="1.0" height="1.0" fill="#959595"/>
<rect x="452.50" y="28.00" width="1.0" height="1.0" fill="#a1a1a1"/>
<rect x="452.50" y="29.00" width="1.0" height="1.0" fill="#adadad"/>
<rect x="452.50" y="33.80" width="1.0" height="1.0" fill="#6e6e6e"/>
<rect x="452.50" y="37.00" width="1.0" height="1.0" fill="#828282"/>
<rect x="452.50" y="47.10" width="1.0" height="1.0" fill="#8c8c8c"/>
<rect x="452.55" y="117.75" width="0.9" height="0.9" fill="#747474"/>
<rect x="452.55" y="116.95" width="0.9" height="0.9" fill="#848484"/>
<rect x="452.55" y="116.15" width="0.9" height="0.9" fill="#949494"/>
<rect x="452.55" y="115.35" width="0.9" height="0.9" fill="#a4a4a4"/>
<rect x="452.55" y="114.55" width="0.9" height="0.9" fill="#b4b4b4"/>
<rect x="452.55" y="113.75" width="0.9" height="0.9" fill="#c4c4c4"/>
<rect x="452.50" y="112.00" width="1.0" height="1.0" fill="#878787"/>
<rect x="452.50" y="110.00" width="1.0" height="1.0" fill="#878787"/>
<rect x="452.50" y="107.00" width="1.0" height="1.0" fill="#878787"/>
<rect x="452.50" y="103.50" width="1.0" height="1.0" fill="#878787"/>
<rect x="452.50" y="99.50" width="1.0" height="1.0" fill="#878787"/>
<rect x="452.50" y="94.50" width="1.0" height="1.0" fill="#787878"/>
<rect x="458.40" y="25.80" width="1.0" height="1.0" fill="#7d7d7d"/>
<rect x="458.40" y="26.80" width="1.0" height="1.0" fill="#898989"/>
<rect x="458.40" y="27.80" width="1.0" height="1.0" fill="#959595"/>
<rect x="458.40" y="28.80" width="1.0" height="1.0" fill="#a1a1a1"/>
<rect x="458.40" y="29.80" width="1.0" height="1.0" fill="#adadad"/>
<rect x="458.40" y="34.60" width="1.0" height="1.0" fill="#6e6e6e"/>
<rect x="458.40" y="37.80" width="1.0" height="1.0" fill="#828282"/>
<rect x="458.40" y="46.90" width="1.0" height="1.0" fill="#8c8c8c"/>
<rect x="458.45" y="125.55" width="0.9" height="0.9" fill="#747474"/>
<rect x="458.45" y="124.75" width="0.9" height="0.9" fill="#848484"/>
<rect x="458.45" y="123.95" width="0.9" height="0.9" fill="#949494"/>
<rect x="458.45" y="123.15" width="0.9" height="0.9" fill="#a4a4a4"/>
<rect x="458.45" y="122.35" width="0.9" height="0.9" fill="#b4b4b4"/>
<rect x="458.45" y="121.55" width="0.9" height="0.9" fill="#c4c4c4"/>
<rect x="458.40" y="119.80" width="1.0" height="1.0" fill="#878787"/>
<rect x="458.40" y="117.80" width="1.0" height="1.0" fill="#878787"/>
<rect x="458.40" y="114.80" width="1.0" height="1.0" fill="#878787"/>
<rect x="458.40" y="111.30" width="1.0" height="1.0" fill="#878787"/>
<rect x="458.40" y="107.30" width="1.0" height="1.0" fill="#878787"/>
<rect x="458.40" y="102.30" width="1.0" height="1.0" fill="#787878"/>
<rect x="464.50" y="26.50" width="1.0" height="1.0" fill="#7d7d7d"/>
<rect x="464.50" y="27.50" width="1.0" height="1.0" fill="#898989"/>
<rect x="464.50" y="28.50" width="1.0" height="1.0" fill="#959595"/>
<rect x="464.50" y="29.50" width="1.0" height="1.0" fill="#a1a1a1"/>
<rect x="464.50" y="30.50" width="1.0" height="1.0" fill="#adadad"/>
<rect x="464.50" y="35.30" width="1.0" height="1.0" fill="#6e6e6e"/>
<rect x="464.50" y="38.50" width="1.0" height="1.0" fill="#828282"/>
<rect x="464.50" y="47.12" width="1.0" height="1.0" fill="#8c8c8c"/>
<rect x="464.55" y="132.65" width="0.9" height="0.9" fill="#747474"/>
<rect x="464.55" y="131.85" width="0.9" height="0.9" fill="#848484"/>
<rect x="464.55" y="131.05" width="0.9" height="0.9" fill="#949494"/>
<rect x="464.55" y="130.25" width="0.9" height="0.9" fill="#a4a4a4"/>
<rect x="464.55" y="129.45" width="0.9" height="0.9" fill="#b4b4b4"/>
<rect x="464.55" y="128.65" width="0.9" height="0.9" fill="#c4c4c4"/>
<rect x="464.50" y="126.90" width="1.0" height="1.0" fill="#878787"/>
<rect x="464.50" y="124.90" width="1.0" height="1.0" fill="#878787"/>
<rect x="464.50" y="121.90" width="1.0" height="1.0" fill="#878787"/>
<rect x="464.50" y="118.40" width="1.0" height="1.0" fill="#878787"/>
<rect x="464.50" y="114.40" width="1.0" height="1.0" fill="#878787"/>
<rect x="464.50" y="109.40" width="1.0" height="1.0" fill="#787878"/>
<rect x="470.90" y="27.10" width="1.0" height="1.0" fill="#7d7d7d"/>
<rect x="470.90" y="28.10" width="1.0" height="1.0" fill="#898989"/>
<rect x="470.90" y="29.10" width="1.0" height="1.0" fill="#959595"/>
<rect x="470.90" y="30.10" width="1.0" height="1.0" fill="#a1a1a1"/>
<rect x="470.90" y="31.10" width="1.0" height="1.0" fill="#adadad"/>
<rect x="470.90" y="35.90" width="1.0" height="1.0" fill="#6e6e6e"/>
<rect x="470.90" y="39.10" width="1.0" height="1.0" fill="#828282"/>
<rect x="470.90" y="47.35" width="1.0" height="1.0" fill="#8c8c8c"/>
<rect x="470.95" y="140.05" width="0.9" height="0.9" fill="#747474"/>
<rect x="470.95" y="139.25" width="0.9" height="0.9" fill="#848484"/>
<rect x="470.95" y="138.45" width="0.9" height="0.9" fill="#949494"/>
<rect x="470.95" y="137.65" width="0.9" height="0.9" fill="#a4a4a4"/>
<rect x="470.95" y="136.85" width="0.9" height="0.9" fill="#b4b4b4"/>
<rect x="470.95" y="136.05" width="0.9" height="0.9" fill="#c4c4c4"/>
<rect x="470.90" y="134.30" width="1.0" height="1.0" fill="#878787"/>
<rect x="470.90" y="132.30" width="1.0" height="1.0" fill="#878787"/>
<rect x="470.90" y="129.30" width="1.0" height="1.0" fill="#878787"/>
<rect x="470.90" y="125.80" width="1.0" height="1.0" fill="#878787"/>
<rect x="470.90" y="121.80" width="1.0" height="1.0" fill="#878787"/>
<rect x="470.90" y="116.80" width="1.0" height="1.0" fill="#787878"/>
<rect x="477.40" y="27.80" width="1.0" height="1.0" fill="#7d7d7d"/>
<rect x="477.40" y="28.80" width="1.0" height="1.0" fill="#898989"/>
<rect x="477.40" y="29.80" width="1.0" height="1.0" fill="#959595"/>
<rect x="477.40" y="30.80" width="1.0" height="1.0" fill="#a1a1a1"/>
<rect x="477.40" y="31.80" width="1.0" height="1.0" fill="#adadad"/>
<rect x="477.40" y="36.60" width="1.0" height="1.0" fill="#6e6e6e"/>
<rect x="477.40" y="39.80" width="1.0" height="1.0" fill="#828282"/>
<rect x="477.40" y="47.59" width="1.0" height="1.0" fill="#8c8c8c"/>
<rect x="477.45" y="146.45" width="0.9" height="0.9" fill="#747474"/>
<rect x="477.45" y="145.65" width="0.9" height="0.9" fill="#848484"/>
<rect x="477.45" y="144.85" width="0.9" height="0.9" fill="#949494"/>
<rect x="477.45" y="144.05" width="0.9" height="0.9" fill="#a4a4a4"/>
<rect x="477.45" y="143.25" width="0.9" height="0.9" fill="#b4b4b4"/>
<rect x="477.45" y="142.45" width="0.9" height="0.9" fill="#c4c4c4"/>
<rect x="477.40" y="140.70" width="1.0" height="1.0" fill="#878787"/>
<rect x="477.40" y="138.70" width="1.0" height="1.0" fill="#878787"/>
<rect x="477.40" y="135.70" width="1.0" height="1.0" fill="#878787"/>
<rect x="477.40" y="132.20" width="1.0" height="1.0" fill="#878787"/>
<rect x="477.40" y="128.20" width="1.0" height="1.0" fill="#878787"/>
<rect x="477.40" y="123.20" width="1.0" height="1.0" fill="#787878"/>
<rect x="484.00" y="28.40" width="1.0" height="1.0" fill="#7d7d7d"/>
<rect x="484.00" y="29.40" width="1.0" height="1.0" fill="#898989"/>
<rect x="484.00" y="30.40" width="1.0" height="1.0" fill="#959595"/>
<rect x="484.00" y="31.40" width="1.0" height="1.0" fill="#a1a1a1"/>
<rect x="484.00" y="32.40" width="1.0" height="1.0" fill="#adadad"/>
<rect x="484.00" y="37.20" width="1.0" height="1.0" fill="#6e6e6e"/>
<rect x="484.00" y="40.40" width="1.0" height="1.0" fill="#828282"/>
<rect x="484.00" y="47.83" width="1.0" height="1.0" fill="#8c8c8c"/>
<rect x="484.05" y="152.75" width="0.9" height="0.9" fill="#747474"/>
<rect x="484.05" y="151.95" width="0.9" height="0.9" fill="#848484"/>
<rect x="484.05" y="151.15" width="0.9" height="0.9" fill="#949494"/>
<rect x="484.05" y="150.35" width="0.9" height="0.9" fill="#a4a4a4"/>
<rect x="484.05" y="149.55" width="0.9" height="0.9" fill="#b4b4b4"/>
<rect x="484.05" y="148.75" width="0.9" height="0.9" fill="#c4c4c4"/>
<rect x="484.00" y="147.00" width="1.0" height="1.0" fill="#878787"/>
<rect x="484.00" y="145.00" width="1.0" height="1.0" fill="#878787"/>
<rect x="484.00" y="142.00" width="1.0" height="1.0" fill="#878787"/>
<rect x="484.00" y="138.50" width="1.0" height="1.0" fill="#878787"/>
<rect x="484.00" y="134.50" width="1.0" height="1.0" fill="#878787"/>
<rect x="484.00" y="129.50" width="1.0" height="1.0" fill="#787878"/>
<rect x="490.50" y="29.10" width="1.0" height="1.0" fill="#7d7d7d"/>
<rect x="490.50" y="30.10" width="1.0" height="1.0" fill="#898989"/>
<rect x="490.50" y="31.10" width="1.0" height="1.0" fill="#959595"/>
<rect x="490.50" y="32.10" width="1.0" height="1.0" fill="#a1a1a1"/>
<rect x="490.50" y="33.10" width="1.0" height="1.0" fill="#adadad"/>
<rect x="490.50" y="37.90" width="1.0" height="1.0" fill="#6e6e6e"/>
<rect x="490.50" y="41.10" width="1.0" height="1.0" fill="#828282"/>
<rect x="490.50" y="48.07" width="1.0" height="1.0" fill="#8c8c8c"/>
<rect x="490.55" y="158.45" width="0.9" height="0.9" fill="#747474"/>
<rect x="490.55" y="157.65" width="0.9" height="0.9" fill="#848484"/>
<rect x="490.55" y="156.85" width="0.9" height="0.9" fill="#949494"/>
<rect x="490.55" y="156.05" width="0.9" height="0.9" fill="#a4a4a4"/>
<rect x="490.55" y="155.25" width="0.9" height="0.9" fill="#b4b4b4"/>
<rect x="490.55" y="154.45" width="0.9" height="0.9" fill="#c4c4c4"/>
<rect x="490.50" y="152.70" width="1.0" height="1.0" fill="#878787"/>
<rect x="490.50" y="150.70" width="1.0" height="1.0" fill="#878787"/>
<rect x="490.50" y="147.70" width="1.0" height="1.0" fill="#878787"/>
<rect x="490.50" y="144.20" width="1.0" height="1.0" fill="#878787"/>
<rect x="490.50" y="140.20" width="1.0" height="1.0" fill="#878787"/>
<rect x="490.50" y="135.20" width="1.0" height="1.0" fill="#787878"/>
<rect x="497.10" y="29.70" width="1.0" height="1.0" fill="#7d7d7d"/>
<rect x="497.10" y="30.70" width="1.0" height="1.0" fill="#898989"/>
<rect x="497.10" y="31.70" width="1.0" height="1.0" fill="#959595"/>
<rect x="497.10" y="32.70" width="1.0" height="1.0" fill="#a1a1a1"/>
<rect x="497.10" y="33.70" width="1.0" height="1.0" fill="#adadad"/>
<rect x="497.10" y="38.50" width="1.0" height="1.0" fill="#6e6e6e"/>
<rect x="497.10" y="41.70" width="1.0" height="1.0" fill="#828282"/>
<rect x="497.10" y="48.31" width="1.0" height="1.0" fill="#8c8c8c"/>
<rect x="497.15" y="164.05" width="0.9" height="0.9" fill="#747474"/>
<rect x="497.15" y="163.25" width="0.9" height="0.9" fill="#848484"/>
<rect x="497.15" y="162.45" width="0.9" height="0.9" fill="#949494"/>
<rect x="497.15" y="161.65" width="0.9" height="0.9" fill="#a4a4a4"/>
<rect x="497.15" y="160.85" width="0.9" height="0.9" fill="#b4b4b4"/>
<rect x="497.15" y="160.05" width="0.9" height="0.9" fill="#c4c4c4"/>
<rect x="497.10" y="158.30" width="1.0" height="1.0" fill="#878787"/>
<rect x="497.10" y="156.30" width="1.0" height="1.0" fill="#878787"/>
<rect x="497.10" y="153.30" width="1.0" height="1.0" fill="#878787"/>
<rect x="497.10" y="149.80" width="1.0" height="1.0" fill="#878787"/>
<rect x="497.10" y="145.80" width="1.0" height="1.0" fill="#878787"/>
<rect x="497.10" y="140.80" width="1.0" height="1.0" fill="#787878"/>
<rect x="504.20" y="30.40" width="1.0" height="1.0" fill="#7d7d7d"/>
<rect x="504.20" y="31.40" width="1.0" height="1.0" fill="#898989"/>
<rect x="504.20" y="32.40" width="1.0" height="1.0" fill="#959595"/>
<rect x="504.20" y="33.40" width="1.0" height="1.0" fill="#a1a1a1"/>
<rect x="504.20" y="34.40" width="1.0" height="1.0" fill="#adadad"/>
<rect x="504.20" y="39.20" width="1.0" height="1.0" fill="#6e6e6e"/>
<rect x="504.20" y="42.40" width="1.0" height="1.0" fill="#828282"/>
<rect x="504.20" y="48.57" width="1.0" height="1.0" fill="#8c8c8c"/>
<rect x="504.25" y="168.75" width="0.9" height="0.9" fill="#747474"/>
<rect x="504.25" y="167.95" width="0.9" height="0.9" fill="#848484"/>
<rect x="504.25" y="167.15" width="0.9" height="0.9" fill="#949494"/>
<rect x="504.25" y="166.35" width="0.9" height="0.9" fill="#a4a4a4"/>
<rect x="504.25" y="165.55" width="0.9" height="0.9" fill="#b4b4b4"/>
<rect x="504.25" y="164.75" width="0.9" height="0.9" fill="#c4c4c4"/>
<rect x="504.20" y="163.00" width="1.0" height="1.0" fill="#878787"/>
<rect x="504.20" y="161.00" width="1.0" height="1.0" fill="#878787"/>
<rect x="504.20" y="158.00" width="1.0" height="1.0" fill="#878787"/>
<rect x="504.20" y="154.50" width="1.0" height="1.0" fill="#878787"/>
<rect x="504.20" y="150.50" width="1.0" height="1.0" fill="#878787"/>
<rect x="504.20" y="145.50" width="1.0" height="1.0" fill="#787878"/>
<rect x="510.90" y="31.00" width="1.0" height="1.0" fill="#7d7d7d"/>
<rect x="510.90" y="32.00" width="1.0" height="1.0" fill="#898989"/>
<rect x="510.90" y="33.00" width="1.0" height="1.0" fill="#959595"/>
<rect x="510.90" y="34.00" width="1.0" height="1.0" fill="#a1a1a1"/>
<rect x="510.90" y="35.00" width="1.0" height="1.0" fill="#adadad"/>
<rect x="510.90" y="39.80" width="1.0" height="1.0" fill="#6e6e6e"/>
<rect x="510.90" y="43.00" width="1.0" height="1.0" fill="#828282"/>
<rect x="510.90" y="48.82" width="1.0" height="1.0" fill="#8c8c8c"/>
<rect x="510.95" y="173.45" width="0.9" height="0.9" fill="#747474"/>
<rect x="510.95" y="172.65" width="0.9" height="0.9" fill="#848484"/>
<rect x="510.95" y="171.85" width="0.9" height="0.9" fill="#949494"/>
<rect x="510.95" y="171.05" width="0.9" height="0.9" fill="#a4a4a4"/>
<rect x="510.95" y="170.25" width="0.9" height="0.9" fill="#b4b4b4"/>
<rect x="510.95" y="169.45" width="0.9" height="0.9" fill="#c4c4c4"/>
<rect x="510.90" y="167.70" width="1.0" height="1.0" fill="#878787"/>
<rect x="510.90" y="165.70" width="1.0" height="1.0" fill="#878787"/>
<rect x="510.90" y="162.70" width="1.0" height="1.0" fill="#878787"/>
<rect x="510.90" y="159.20" width="1.0" height="1.0" fill="#878787"/>
<rect x="510.90" y="155.20" width="1.0" height="1.0" fill="#878787"/>
<rect x="510.90" y="150.20" width="1.0" height="1.0" fill="#787878"/>
<rect x="518.00" y="31.70" width="1.0" height="1.0" fill="#7d7d7d"/>
<rect x="518.00" y="32.70" width="1.0" height="1.0" fill="#898989"/>
<rect x="518.00" y="33.70" width="1.0" height="1.0" fill="#959595"/>
<rect x="518.00" y="34.70" width="1.0" height="1.0" fill="#a1a1a1"/>
<rect x="518.00" y="35.70" width="1.0" height="1.0" fill="#adadad"/>
<rect x="518.00" y="40.50" width="1.0" height="1.0" fill="#6e6e6e"/>
<rect x="518.00" y="43.70" width="1.0" height="1.0" fill="#828282"/>
<rect x="518.00" y="49.08" width="1.0" height="1.0" fill="#8c8c8c"/>
<rect x="518.05" y="177.45" width="0.9" height="0.9" fill="#747474"/>
<rect x="518.05" y="176.65" width="0.9" height="0.9" fill="#848484"/>
<rect x="518.05" y="175.85" width="0.9" height="0.9" fill="#949494"/>
<rect x="518.05" y="175.05" width="0.9" height="0.9" fill="#a4a4a4"/>
<rect x="518.05" y="174.25" width="0.9" height="0.9" fill="#b4b4b4"/>
<rect x="518.05" y="173.45" width="0.9" height="0.9" fill="#c4c4c4"/>
<rect x="518.00" y="171.70" width="1.0" height="1.0" fill="#878787"/>
<rect x="518.00" y="169.70" width="1.0" height="1.0" fill="#878787"/>
<rect x="518.00" y="166.70" width="1.0" height="1.0" fill="#878787"/>
<rect x="518.00" y="163.20" width="1.0" height="1.0" fill="#878787"/>
<rect x="518.00" y="159.20" width="1.0" height="1.0" fill="#878787"/>
<rect x="518.00" y="154.20" width="1.0" height="1.0" fill="#787878"/>
<rect x="525.00" y="32.30" width="1.0" height="1.0" fill="#7d7d7d"/>
<rect x="525.00" y="33.30" width="1.0" height="1.0" fill="#898989"/>
<rect x="525.00" y="34.30" width="1.0" height="1.0" fill="#959595"/>
<rect x="525.00" y="35.30" width="1.0" height="1.0" fill="#a1a1a1"/>
<rect x="525.00" y="36.30" width="1.0" height="1.0" fill="#adadad"/>
<rect x="525.00" y="41.10" width="1.0" height="1.0" fill="#6e6e6e"/>
<rect x="525.00" y="44.30" width="1.0" height="1.0" fill="#828282"/>
<rect x="525.00" y="49.33" width="1.0" height="1.0" fill="#8c8c8c"/>
<rect x="525.05" y="181.55" width="0.9" height="0.9" fill="#747474"/>
<rect x="525.05" y="180.75" width="0.9" height="0.9" fill="#848484"/>
<rect x="525.05" y="179.95" width="0.9" height="0.9" fill="#949494"/>
<rect x="525.05" y="179.15" width="0.9" height="0.9" fill="#a4a4a4"/>
<rect x="525.05" y="178.35" width="0.9" height="0.9" fill="#b4b4b4"/>
<rect x="525.05" y="177.55" width="0.9" height="0.9" fill="#c4c4c4"/>
<rect x="525.00" y="175.80" width="1.0" height="1.0" fill="#878787"/>
<rect x="525.00" y="173.80" width="1.0" height="1.0" fill="#878787"/>
<rect x="525.00" y="170.80" width="1.0" height="1.0" fill="#878787"/>
<rect x="525.00" y="167.30" width="1.0" height="1.0" fill="#878787"/>
<rect x="525.00" y="163.30" width="1.0" height="1.0" fill="#878787"/>
<rect x="525.00" y="158.30" width="1.0" height="1.0" fill="#787878"/>
<rect x="532.20" y="33.20" width="1.0" height="1.0" fill="#7d7d7d"/>
<rect x="532.20" y="34.20" width="1.0" height="1.0" fill="#898989"/>
<rect x="532.20" y="35.20" width="1.0" height="1.0" fill="#959595"/>
<rect x="532.20" y="36.20" width="1.0" height="1.0" fill="#a1a1a1"/>
<rect x="532.20" y="37.20" width="1.0" height="1.0" fill="#adadad"/>
<rect x="532.20" y="42.00" width="1.0" height="1.0" fill="#6e6e6e"/>
<rect x="532.20" y="45.20" width="1.0" height="1.0" fill="#828282"/>
<rect x="532.20" y="49.59" width="1.0" height="1.0" fill="#8c8c8c"/>
<rect x="532.25" y="185.05" width="0.9" height="0.9" fill="#747474"/>
<rect x="532.25" y="184.25" width="0.9" height="0.9" fill="#848484"/>
<rect x="532.25" y="183.45" width="0.9" height="0.9" fill="#949494"/>
<rect x="532.25" y="182.65" width="0.9" height="0.9" fill="#a4a4a4"/>
<rect x="532.25" y="181.85" width="0.9" height="0.9" fill="#b4b4b4"/>
<rect x="532.25" y="181.05" width="0.9" height="0.9" fill="#c4c4c4"/>
<rect x="532.20" y="179.30" width="1.0" height="1.0" fill="#878787"/>
<rect x="532.20" y="177.30" width="1.0" height="1.0" fill="#878787"/>
<rect x="532.20" y="174.30" width="1.0" height="1.0" fill="#878787"/>
<rect x="532.20" y="170.80" width="1.0" height="1.0" fill="#878787"/>
<rect x="532.20" y="166.80" width="1.0" height="1.0" fill="#878787"/>
<rect x="532.20" y="161.80" width="1.0" height="1.0" fill="#787878"/>
<rect x="539.30" y="33.90" width="1.0" height="1.0" fill="#7d7d7d"/>
<rect x="539.30" y="34.90" width="1.0" height="1.0" fill="#898989"/>
<rect x="539.30" y="35.90" width="1.0" height="1.0" fill="#959595"/>
<rect x="539.30" y="36.90" width="1.0" height="1.0" fill="#a1a1a1"/>
<rect x="539.30" y="37.90" width="1.0" height="1.0" fill="#adadad"/>
<rect x="539.30" y="42.70" width="1.0" height="1.0" fill="#6e6e6e"/>
<rect x="539.30" y="45.90" width="1.0" height="1.0" fill="#828282"/>
<rect x="539.30" y="49.85" width="1.0" height="1.0" fill="#8c8c8c"/>
<rect x="539.35" y="188.75" width="0.9" height="0.9" fill="#747474"/>
<rect x="539.35" y="187.95" width="0.9" height="0.9" fill="#848484"/>
<rect x="539.35" y="187.15" width="0.9" height="0.9" fill="#949494"/>
<rect x="539.35" y="186.35" width="0.9" height="0.9" fill="#a4a4a4"/>
<rect x="539.35" y="185.55" width="0.9" height="0.9" fill="#b4b4b4"/>
<rect x="539.35" y="184.75" width="0.9" height="0.9" fill="#c4c4c4"/>
<rect x="539.30" y="183.00" width="1.0" height="1.0" fill="#878787"/>
<rect x="539.30" y="181.00" width="1.0" height="1.0" fill="#878787"/>
<rect x="539.30" y="178.00" width="1.0" height="1.0" fill="#878787"/>
<rect x="539.30" y="174.50" width="1.0" height="1.0" fill="#878787"/>
<rect x="539.30" y="170.50" width="1.0" height="1.0" fill="#878787"/>
<rect x="539.30" y="165.50" width="1.0" height="1.0" fill="#787878"/>
<rect x="546.50" y="34.50" width="1.0" height="1.0" fill="#7d7d7d"/>
<rect x="546.50" y="35.50" width="1.0" height="1.0" fill="#898989"/>
<rect x="546.50" y="36.50" width="1.0" height="1.0" fill="#959595"/>
<rect x="546.50" y="37.50" width="1.0" height="1.0" fill="#a1a1a1"/>
<rect x="546.50" y="38.50" width="1.0" height="1.0" fill="#adadad"/>
<rect x="546.50" y="43.30" width="1.0" height="1.0" fill="#6e6e6e"/>
<rect x="546.50" y="46.50" width="1.0" height="1.0" fill="#828282"/>
<rect x="546.50" y="50.12" width="1.0" height="1.0" fill="#8c8c8c"/>
<rect x="546.55" y="192.05" width="0.9" height="0.9" fill="#747474"/>
<rect x="546.55" y="191.25" width="0.9" height="0.9" fill="#848484"/>
<rect x="546.55" y="190.45" width="0.9" height="0.9" fill="#949494"/>
<rect x="546.55" y="189.65" width="0.9" height="0.9" fill="#a4a4a4"/>
<rect x="546.55" y="188.85" width="0.9" height="0.9" fill="#b4b4b4"/>
<rect x="546.55" y="188.05" width="0.9" height="0.9" fill="#c4c4c4"/>
<rect x="546.50" y="186.30" width="1.0" height="1.0" fill="#878787"/>
<rect x="546.50" y="184.30" width="1.0" height="1.0" fill="#878787"/>
<rect x="546.50" y="181.30" width="1.0" height="1.0" fill="#878787"/>
<rect x="546.50" y="177.80" width="1.0" height="1.0" fill="#878787"/>
<rect x="546.50" y="173.80" width="1.0" height="1.0" fill="#878787"/>
<rect x="546.50" y="168.80" width="1.0" height="1.0" fill="#787878"/>
<rect x="553.80" y="35.20" width="1.0" height="1.0" fill="#7d7d7d"/>
<rect x="553.80" y="36.20" width="1.0" height="1.0" fill="#898989"/>
<rect x="553.80" y="37.20" width="1.0" height="1.0" fill="#959595"/>
<rect x="553.80" y="38.20" width="1.0" height="1.0" fill="#a1a1a1"/>
<rect x="553.80" y="39.20" width="1.0" height="1.0" fill="#adadad"/>
<rect x="553.80" y="44.00" width="1.0" height="1.0" fill="#6e6e6e"/>
<rect x="553.80" y="47.20" width="1.0" height="1.0" fill="#828282"/>
<rect x="553.80" y="50.38" width="1.0" height="1.0" fill="#8c8c8c"/>
<rect x="553.85" y="195.45" width="0.9" height="0.9" fill="#747474"/>
<rect x="553.85" y="194.65" width="0.9" height="0.9" fill="#848484"/>
<rect x="553.85" y="193.85" width="0.9" height="0.9" fill="#949494"/>
<rect x="553.85" y="193.05" width="0.9" height="0.9" fill="#a4a4a4"/>
<rect x="553.85" y="192.25" width="0.9" height="0.9" fill="#b4b4b4"/>
<rect x="553.85" y="191.45" width="0.9" height="0.9" fill="#c4c4c4"/>
<rect x="553.80" y="189.70" width="1.0" height="1.0" fill="#878787"/>
<rect x="553.80" y="187.70" width="1.0" height="1.0" fill="#878787"/>
<rect x="553.80" y="184.70" width="1.0" height="1.0" fill="#878787"/>
<rect x="553.80" y="181.20" width="1.0" height="1.0" fill="#878787"/>
<rect x="553.80" y="177.20" width="1.0" height="1.0" fill="#878787"/>
<rect x="553.80" y="172.20" width="1.0" height="1.0" fill="#787878"/>
<rect x="561.30" y="35.80" width="1.0" height="1.0" fill="#7d7d7d"/>
<rect x="561.30" y="36.80" width="1.0" height="1.0" fill="#898989"/>
<rect x="561.30" y="37.80" width="1.0" height="1.0" fill="#959595"/>
<rect x="561.30" y="38.80" width="1.0" height="1.0" fill="#a1a1a1"/>
<rect x="561.30" y="39.80" width="1.0" height="1.0" fill="#adadad"/>
<rect x="561.30" y="44.60" width="1.0" height="1.0" fill="#6e6e6e"/>
<rect x="561.30" y="47.80" width="1.0" height="1.0" fill="#828282"/>
<rect x="561.30" y="50.66" width="1.0" height="1.0" fill="#8c8c8c"/>
<rect x="561.35" y="198.45" width="0.9" height="0.9" fill="#747474"/>
<rect x="561.35" y="197.65" width="0.9" height="0.9" fill="#848484"/>
<rect x="561.35" y="196.85" width="0.9" height="0.9" fill="#949494"/>
<rect x="561.35" y="196.05" width="0.9" height="0.9" fill="#a4a4a4"/>
<rect x="561.35" y="195.25" width="0.9" height="0.9" fill="#b4b4b4"/>
<rect x="561.35" y="194.45" width="0.9" height="0.9" fill="#c4c4c4"/>
<rect x="561.30" y="192.70" width="1.0" height="1.0" fill="#878787"/>
<rect x="561.30" y="190.70" width="1.0" height="1.0" fill="#878787"/>
<rect x="561.30" y="187.70" width="1.0" height="1.0" fill="#878787"/>
<rect x="561.30" y="184.20" width="1.0" height="1.0" fill="#878787"/>
<rect x="561.30" y="180.20" width="1.0" height="1.0" fill="#878787"/>
<rect x="561.30" y="175.20" width="1.0" height="1.0" fill="#787878"/>
<rect x="568.80" y="36.50" width="1.0" height="1.0" fill="#7d7d7d"/>
<rect x="568.80" y="37.50" width="1.0" height="1.0" fill="#898989"/>
<rect x="568.80" y="38.50" width="1.0" height="1.0" fill="#959595"/>
<rect x="568.80" y="39.50" width="1.0" height="1.0" fill="#a1a1a1"/>
<rect x="568.80" y="40.50" width="1.0" height="1.0" fill="#adadad"/>
<rect x="568.80" y="45.30" width="1.0" height="1.0" fill="#6e6e6e"/>
<rect x="568.80" y="48.50" width="1.0" height="1.0" fill="#828282"/>
<rect x="568.80" y="50.93" width="1.0" height="1.0" fill="#8c8c8c"/>
<rect x="568.85" y="200.95" width="0.9" height="0.9" fill="#747474"/>
<rect x="568.85" y="200.15" width="0.9" height="0.9" fill="#848484"/>
<rect x="568.85" y="199.35" width="0.9" height="0.9" fill="#949494"/>
<rect x="568.85" y="198.55" width="0.9" height="0.9" fill="#a4a4a4"/>
<rect x="568.85" y="197.75" width="0.9" height="0.9" fill="#b4b4b4"/>
<rect x="568.85" y="196.95" width="0.9" height="0.9" fill="#c4c4c4"/>
<rect x="568.80" y="195.20" width="1.0" height="1.0" fill="#878787"/>
<rect x="568.80" y="193.20" width="1.0" height="1.0" fill="#878787"/>
<rect x="568.80" y="190.20" width="1.0" height="1.0" fill="#878787"/>
<rect x="568.80" y="186.70" width="1.0" height="1.0" fill="#878787"/>
<rect x="568.80" y="182.70" width="1.0" height="1.0" fill="#878787"/>
<rect x="568.80" y="177.70" width="1.0" height="1.0" fill="#787878"/>
<rect x="576.20" y="37.30" width="1.0" height="1.0" fill="#7d7d7d"/>
<rect x="576.20" y="38.30" width="1.0" height="1.0" fill="#898989"/>
<rect x="576.20" y="39.30" width="1.0" height="1.0" fill="#959595"/>
<rect x="576.20" y="40.30" width="1.0" height="1.0" fill="#a1a1a1"/>
<rect x="576.20" y="41.30" width="1.0" height="1.0" fill="#adadad"/>
<rect x="576.20" y="46.10" width="1.0" height="1.0" fill="#6e6e6e"/>
<rect x="576.20" y="49.30" width="1.0" height="1.0" fill="#828282"/>
<rect x="576.20" y="51.20" width="1.0" height="1.0" fill="#8c8c8c"/>
<rect x="576.25" y="203.45" width="0.9" height="0.9" fill="#747474"/>
<rect x="576.25" y="202.65" width="0.9" height="0.9" fill="#848484"/>
<rect x="576.25" y="201.85" width="0.9" height="0.9" fill="#949494"/>
<rect x="576.25" y="201.05" width="0.9" height="0.9" fill="#a4a4a4"/>
<rect x="576.25" y="200.25" width="0.9" height="0.9" fill="#b4b4b4"/>
<rect x="576.25" y="199.45" width="0.9" height="0.9" fill="#c4c4c4"/>
<rect x="576.20" y="197.70" width="1.0" height="1.0" fill="#878787"/>
<rect x="576.20" y="195.70" width="1.0" height="1.0" fill="#878787"/>
<rect x="576.20" y="192.70" width="1.0" height="1.0" fill="#878787"/>
<rect x="576.20" y="189.20" width="1.0" height="1.0" fill="#878787"/>
<rect x="576.20" y="185.20" width="1.0" height="1.0" fill="#878787"/>
<rect x="576.20" y="180.20" width="1.0" height="1.0" fill="#787878"/>
<rect x="584.20" y="38.20" width="1.0" height="1.0" fill="#7d7d7d"/>
<rect x="584.20" y="39.20" width="1.0" height="1.0" fill="#898989"/>
<rect x="584.20" y="40.20" width="1.0" height="1.0" fill="#959595"/>
<rect x="584.20" y="41.20" width="1.0" height="1.0" fill="#a1a1a1"/>
<rect x="584.20" y="42.20" width="1.0" height="1.0" fill="#adadad"/>
<rect x="584.20" y="47.00" width="1.0" height="1.0" fill="#6e6e6e"/>
<rect x="584.20" y="50.20" width="1.0" height="1.0" fill="#828282"/>
<rect x="584.20" y="51.50" width="1.0" height="1.0" fill="#8c8c8c"/>
<rect x="584.25" y="205.45" width="0.9" height="0.9" fill="#747474"/>
<rect x="584.25" y="204.65" width="0.9" height="0.9" fill="#848484"/>
<rect x="584.25" y="203.85" width="0.9" height="0.9" fill="#949494"/>
<rect x="584.25" y="203.05" width="0.9" height="0.9" fill="#a4a4a4"/>
<rect x="584.25" y="202.25" width="0.9" height="0.9" fill="#b4b4b4"/>
<rect x="584.25" y="201.45" width="0.9" height="0.9" fill="#c4c4c4"/>
<rect x="584.20" y="199.70" width="1.0" height="1.0" fill="#878787"/>
<rect x="584.20" y="197.70" width="1.0" height="1.0" fill="#878787"/>
<rect x="584.20" y="194.70" width="1.0" height="1.0" fill="#878787"/>
<rect x="584.20" y="191.20" width="1.0" height="1.0" fill="#878787"/>
<rect x="584.20" y="187.20" width="1.0" height="1.0" fill="#878787"/>
<rect x="584.20" y="182.20" width="1.0" height="1.0" fill="#787878"/>
<text x="414.5" y="36.0" class="sm" textLength="10.5" lengthAdjust="spacingAndGlyphs">0.90</text>
<text x="431.5" y="38.5" class="sm" textLength="10.5" lengthAdjust="spacingAndGlyphs">0.95</text>
<text x="447.0" y="50.8" class="sm" textLength="10.5" lengthAdjust="spacingAndGlyphs">0.99</text>
<rect x="42.65" y="10.75" width="0.9" height="0.9" fill="#969696"/>
<rect x="42.65" y="20.95" width="0.9" height="0.9" fill="#969696"/>
<rect x="42.65" y="23.15" width="0.9" height="0.9" fill="#8c8c8c"/>
<rect x="42.65" y="24.95" width="0.9" height="0.9" fill="#8c8c8c"/>
<rect x="42.65" y="27.25" width="0.9" height="0.9" fill="#a0a0a0"/>
<rect x="42.65" y="28.35" width="0.9" height="0.9" fill="#aaaaaa"/>
<rect x="42.65" y="29.45" width="0.9" height="0.9" fill="#aaaaaa"/>
<rect x="42.65" y="30.95" width="0.9" height="0.9" fill="#969696"/>
<rect x="42.65" y="81.33" width="0.9" height="0.9" fill="#828282"/>
<rect x="42.65" y="98.13" width="0.9" height="0.9" fill="#828282"/>
<rect x="42.65" y="120.72" width="0.9" height="0.9" fill="#828282"/>
<rect x="42.65" y="149.11" width="0.9" height="0.9" fill="#828282"/>
<rect x="42.65" y="182.80" width="0.9" height="0.9" fill="#828282"/>
<rect x="42.65" y="227.69" width="0.9" height="0.9" fill="#828282"/>
<rect x="47.25" y="10.85" width="0.9" height="0.9" fill="#969696"/>
<rect x="47.25" y="21.05" width="0.9" height="0.9" fill="#969696"/>
<rect x="47.25" y="23.25" width="0.9" height="0.9" fill="#8c8c8c"/>
<rect x="47.25" y="25.05" width="0.9" height="0.9" fill="#8c8c8c"/>
<rect x="47.25" y="27.35" width="0.9" height="0.9" fill="#a0a0a0"/>
<rect x="47.25" y="28.45" width="0.9" height="0.9" fill="#aaaaaa"/>
<rect x="47.25" y="29.55" width="0.9" height="0.9" fill="#aaaaaa"/>
<rect x="47.25" y="31.05" width="0.9" height="0.9" fill="#969696"/>
<rect x="47.25" y="81.69" width="0.9" height="0.9" fill="#828282"/>
<rect x="47.25" y="98.66" width="0.9" height="0.9" fill="#828282"/>
<rect x="47.25" y="121.39" width="0.9" height="0.9" fill="#828282"/>
<rect x="47.25" y="150.02" width="0.9" height="0.9" fill="#828282"/>
<rect x="47.25" y="184.05" width="0.9" height="0.9" fill="#828282"/>
<rect x="47.25" y="229.05" width="0.9" height="0.9" fill="#828282"/>
<rect x="51.65" y="11.05" width="0.9" height="0.9" fill="#969696"/>
<rect x="51.65" y="21.25" width="0.9" height="0.9" fill="#969696"/>
<rect x="51.65" y="23.45" width="0.9" height="0.9" fill="#8c8c8c"/>
<rect x="51.65" y="25.25" width="0.9" height="0.9" fill="#8c8c8c"/>
<rect x="51.65" y="27.55" width="0.9" height="0.9" fill="#a0a0a0"/>
<rect x="51.65" y="28.65" width="0.9" height="0.9" fill="#aaaaaa"/>
<rect x="51.65" y="29.75" width="0.9" height="0.9" fill="#aaaaaa"/>
<rect x="51.65" y="31.25" width="0.9" height="0.9" fill="#969696"/>
<rect x="51.65" y="82.03" width="0.9" height="0.9" fill="#828282"/>
<rect x="51.65" y="99.16" width="0.9" height="0.9" fill="#828282"/>
<rect x="51.65" y="122.04" width="0.9" height="0.9" fill="#828282"/>
<rect x="51.65" y="150.90" width="0.9" height="0.9" fill="#828282"/>
<rect x="51.65" y="185.24" width="0.9" height="0.9" fill="#828282"/>
<rect x="51.65" y="230.35" width="0.9" height="0.9" fill="#828282"/>
<rect x="56.14" y="11.25" width="0.9" height="0.9" fill="#969696"/>
<rect x="56.14" y="21.45" width="0.9" height="0.9" fill="#969696"/>
<rect x="56.14" y="23.65" width="0.9" height="0.9" fill="#8c8c8c"/>
<rect x="56.14" y="25.45" width="0.9" height="0.9" fill="#8c8c8c"/>
<rect x="56.14" y="27.75" width="0.9" height="0.9" fill="#a0a0a0"/>
<rect x="56.14" y="28.85" width="0.9" height="0.9" fill="#aaaaaa"/>
<rect x="56.14" y="29.95" width="0.9" height="0.9" fill="#aaaaaa"/>
<rect x="56.14" y="31.45" width="0.9" height="0.9" fill="#969696"/>
<rect x="56.14" y="82.37" width="0.9" height="0.9" fill="#828282"/>
<rect x="56.14" y="99.68" width="0.9" height="0.9" fill="#828282"/>
<rect x="56.14" y="122.70" width="0.9" height="0.9" fill="#828282"/>
<rect x="56.14" y="151.79" width="0.9" height="0.9" fill="#828282"/>
<rect x="56.14" y="186.46" width="0.9" height="0.9" fill="#828282"/>
<rect x="56.14" y="231.67" width="0.9" height="0.9" fill="#828282"/>
<rect x="61.14" y="11.55" width="0.9" height="0.9" fill="#969696"/>
<rect x="61.14" y="21.75" width="0.9" height="0.9" fill="#969696"/>
<rect x="61.14" y="23.95" width="0.9" height="0.9" fill="#8c8c8c"/>
<rect x="61.14" y="25.75" width="0.9" height="0.9" fill="#8c8c8c"/>
<rect x="61.14" y="28.05" width="0.9" height="0.9" fill="#a0a0a0"/>
<rect x="61.14" y="29.15" width="0.9" height="0.9" fill="#aaaaaa"/>
<rect x="61.14" y="30.25" width="0.9" height="0.9" fill="#aaaaaa"/>
<rect x="61.14" y="31.75" width="0.9" height="0.9" fill="#969696"/>
<rect x="61.14" y="82.76" width="0.9" height="0.9" fill="#828282"/>
<rect x="61.14" y="100.25" width="0.9" height="0.9" fill="#828282"/>
<rect x="61.14" y="123.43" width="0.9" height="0.9" fill="#828282"/>
<rect x="61.14" y="152.78" width="0.9" height="0.9" fill="#828282"/>
<rect x="61.14" y="187.82" width="0.9" height="0.9" fill="#828282"/>
<rect x="61.14" y="233.15" width="0.9" height="0.9" fill="#828282"/>
<rect x="66.24" y="11.75" width="0.9" height="0.9" fill="#969696"/>
<rect x="66.24" y="21.95" width="0.9" height="0.9" fill="#969696"/>
<rect x="66.24" y="24.15" width="0.9" height="0.9" fill="#8c8c8c"/>
<rect x="66.24" y="25.95" width="0.9" height="0.9" fill="#8c8c8c"/>
<rect x="66.24" y="28.25" width="0.9" height="0.9" fill="#a0a0a0"/>
<rect x="66.24" y="29.35" width="0.9" height="0.9" fill="#aaaaaa"/>
<rect x="66.24" y="30.45" width="0.9" height="0.9" fill="#aaaaaa"/>
<rect x="66.24" y="31.95" width="0.9" height="0.9" fill="#969696"/>
<rect x="66.24" y="83.15" width="0.9" height="0.9" fill="#828282"/>
<rect x="66.24" y="100.84" width="0.9" height="0.9" fill="#828282"/>
<rect x="66.24" y="124.17" width="0.9" height="0.9" fill="#828282"/>
<rect x="66.24" y="153.80" width="0.9" height="0.9" fill="#828282"/>
<rect x="66.24" y="189.21" width="0.9" height="0.9" fill="#828282"/>
<rect x="66.24" y="234.65" width="0.9" height="0.9" fill="#828282"/>
<rect x="71.24" y="12.05" width="0.9" height="0.9" fill="#969696"/>
<rect x="71.24" y="22.25" width="0.9" height="0.9" fill="#969696"/>
<rect x="71.24" y="24.45" width="0.9" height="0.9" fill="#8c8c8c"/>
<rect x="71.24" y="26.25" width="0.9" height="0.9" fill="#8c8c8c"/>
<rect x="71.24" y="28.55" width="0.9" height="0.9" fill="#a0a0a0"/>
<rect x="71.24" y="29.65" width="0.9" height="0.9" fill="#aaaaaa"/>
<rect x="71.24" y="30.75" width="0.9" height="0.9" fill="#aaaaaa"/>
<rect x="71.24" y="32.25" width="0.9" height="0.9" fill="#969696"/>
<rect x="71.24" y="83.53" width="0.9" height="0.9" fill="#828282"/>
<rect x="71.24" y="101.41" width="0.9" height="0.9" fill="#828282"/>
<rect x="71.24" y="124.91" width="0.9" height="0.9" fill="#828282"/>
<rect x="71.24" y="154.79" width="0.9" height="0.9" fill="#828282"/>
<rect x="71.24" y="190.56" width="0.9" height="0.9" fill="#828282"/>
<rect x="71.24" y="236.13" width="0.9" height="0.9" fill="#828282"/>
<rect x="76.44" y="12.35" width="0.9" height="0.9" fill="#969696"/>
<rect x="76.44" y="22.55" width="0.9" height="0.9" fill="#969696"/>
<rect x="76.44" y="24.75" width="0.9" height="0.9" fill="#8c8c8c"/>
<rect x="76.44" y="26.55" width="0.9" height="0.9" fill="#8c8c8c"/>
<rect x="76.44" y="28.85" width="0.9" height="0.9" fill="#a0a0a0"/>
<rect x="76.44" y="29.95" width="0.9" height="0.9" fill="#aaaaaa"/>
<rect x="76.44" y="31.05" width="0.9" height="0.9" fill="#aaaaaa"/>
<rect x="76.44" y="32.55" width="0.9" height="0.9" fill="#969696"/>
<rect x="76.44" y="83.93" width="0.9" height="0.9" fill="#828282"/>
<rect x="76.44" y="102.01" width="0.9" height="0.9" fill="#828282"/>
<rect x="76.44" y="125.67" width="0.9" height="0.9" fill="#828282"/>
<rect x="76.44" y="155.82" width="0.9" height="0.9" fill="#828282"/>
<rect x="76.44" y="191.98" width="0.9" height="0.9" fill="#828282"/>
<rect x="76.44" y="237.66" width="0.9" height="0.9" fill="#828282"/>
<rect x="81.63" y="12.55" width="0.9" height="0.9" fill="#969696"/>
<rect x="81.63" y="22.75" width="0.9" height="0.9" fill="#969696"/>
<rect x="81.63" y="24.95" width="0.9" height="0.9" fill="#8c8c8c"/>
<rect x="81.63" y="26.75" width="0.9" height="0.9" fill="#8c8c8c"/>
<rect x="81.63" y="29.05" width="0.9" height="0.9" fill="#a0a0a0"/>
<rect x="81.63" y="30.15" width="0.9" height="0.9" fill="#aaaaaa"/>
<rect x="81.63" y="31.25" width="0.9" height="0.9" fill="#aaaaaa"/>
<rect x="81.63" y="32.75" width="0.9" height="0.9" fill="#969696"/>
<rect x="81.63" y="84.33" width="0.9" height="0.9" fill="#828282"/>
<rect x="81.63" y="102.60" width="0.9" height="0.9" fill="#828282"/>
<rect x="81.63" y="126.43" width="0.9" height="0.9" fill="#828282"/>
<rect x="81.63" y="156.85" width="0.9" height="0.9" fill="#828282"/>
<rect x="81.63" y="193.39" width="0.9" height="0.9" fill="#828282"/>
<rect x="81.63" y="239.20" width="0.9" height="0.9" fill="#828282"/>
<rect x="87.23" y="12.85" width="0.9" height="0.9" fill="#969696"/>
<rect x="87.23" y="23.05" width="0.9" height="0.9" fill="#969696"/>
<rect x="87.23" y="25.25" width="0.9" height="0.9" fill="#8c8c8c"/>
<rect x="87.23" y="27.05" width="0.9" height="0.9" fill="#8c8c8c"/>
<rect x="87.23" y="29.35" width="0.9" height="0.9" fill="#a0a0a0"/>
<rect x="87.23" y="30.45" width="0.9" height="0.9" fill="#aaaaaa"/>
<rect x="87.23" y="31.55" width="0.9" height="0.9" fill="#aaaaaa"/>
<rect x="87.23" y="33.05" width="0.9" height="0.9" fill="#969696"/>
<rect x="87.23" y="84.76" width="0.9" height="0.9" fill="#828282"/>
<rect x="87.23" y="103.25" width="0.9" height="0.9" fill="#828282"/>
<rect x="87.23" y="127.25" width="0.9" height="0.9" fill="#828282"/>
<rect x="87.23" y="157.97" width="0.9" height="0.9" fill="#828282"/>
<rect x="87.23" y="194.91" width="0.9" height="0.9" fill="#828282"/>
<rect x="87.23" y="240.85" width="0.9" height="0.9" fill="#828282"/>
<rect x="92.93" y="13.25" width="0.9" height="0.9" fill="#969696"/>
<rect x="92.93" y="23.45" width="0.9" height="0.9" fill="#969696"/>
<rect x="92.93" y="25.65" width="0.9" height="0.9" fill="#8c8c8c"/>
<rect x="92.93" y="27.45" width="0.9" height="0.9" fill="#8c8c8c"/>
<rect x="92.93" y="29.75" width="0.9" height="0.9" fill="#a0a0a0"/>
<rect x="92.93" y="30.85" width="0.9" height="0.9" fill="#aaaaaa"/>
<rect x="92.93" y="31.95" width="0.9" height="0.9" fill="#aaaaaa"/>
<rect x="92.93" y="33.45" width="0.9" height="0.9" fill="#969696"/>
<rect x="92.93" y="85.20" width="0.9" height="0.9" fill="#828282"/>
<rect x="92.93" y="103.91" width="0.9" height="0.9" fill="#828282"/>
<rect x="92.93" y="128.46" width="0.9" height="0.9" fill="#828282"/>
<rect x="92.93" y="159.10" width="0.9" height="0.9" fill="#828282"/>
<rect x="92.93" y="196.46" width="0.9" height="0.9" fill="#828282"/>
<rect x="92.93" y="242.53" width="0.9" height="0.9" fill="#828282"/>
<rect x="98.53" y="13.55" width="0.9" height="0.9" fill="#969696"/>
<rect x="98.53" y="23.75" width="0.9" height="0.9" fill="#969696"/>
<rect x="98.53" y="25.95" width="0.9" height="0.9" fill="#8c8c8c"/>
<rect x="98.53" y="27.75" width="0.9" height="0.9" fill="#8c8c8c"/>
<rect x="98.53" y="30.05" width="0.9" height="0.9" fill="#a0a0a0"/>
<rect x="98.53" y="31.15" width="0.9" height="0.9" fill="#aaaaaa"/>
<rect x="98.53" y="32.25" width="0.9" height="0.9" fill="#aaaaaa"/>
<rect x="98.53" y="33.75" width="0.9" height="0.9" fill="#969696"/>
<rect x="98.53" y="85.63" width="0.9" height="0.9" fill="#828282"/>
<rect x="98.53" y="104.56" width="0.9" height="0.9" fill="#828282"/>
<rect x="98.53" y="129.66" width="0.9" height="0.9" fill="#828282"/>
<rect x="98.53" y="160.21" width="0.9" height="0.9" fill="#828282"/>
<rect x="98.53" y="197.98" width="0.9" height="0.9" fill="#828282"/>
<rect x="98.53" y="244.18" width="0.9" height="0.9" fill="#828282"/>
<rect x="104.32" y="14.15" width="0.9" height="0.9" fill="#969696"/>
<rect x="104.32" y="22.65" width="0.9" height="0.9" fill="#969696"/>
<rect x="104.32" y="23.65" width="0.9" height="0.9" fill="#a2a2a2"/>
<rect x="104.32" y="24.65" width="0.9" height="0.9" fill="#aeaeae"/>
<rect x="104.32" y="25.65" width="0.9" height="0.9" fill="#bababa"/>
<rect x="104.32" y="26.65" width="0.9" height="0.9" fill="#c6c6c6"/>
<rect x="104.32" y="29.15" width="0.9" height="0.9" fill="#8c8c8c"/>
<rect x="104.32" y="33.28" width="0.9" height="0.9" fill="#8c8c8c"/>
<rect x="104.32" y="40.18" width="0.9" height="0.9" fill="#8c8c8c"/>
<rect x="104.32" y="86.08" width="0.9" height="0.9" fill="#828282"/>
<rect x="104.32" y="105.24" width="0.9" height="0.9" fill="#828282"/>
<rect x="104.32" y="130.90" width="0.9" height="0.9" fill="#828282"/>
<rect x="104.32" y="161.36" width="0.9" height="0.9" fill="#828282"/>
<rect x="104.32" y="199.55" width="0.9" height="0.9" fill="#828282"/>
<rect x="104.32" y="245.90" width="0.9" height="0.9" fill="#828282"/>
<rect x="109.02" y="14.35" width="0.9" height="0.9" fill="#969696"/>
<rect x="109.02" y="22.85" width="0.9" height="0.9" fill="#969696"/>
<rect x="109.02" y="23.85" width="0.9" height="0.9" fill="#a2a2a2"/>
<rect x="109.02" y="24.85" width="0.9" height="0.9" fill="#aeaeae"/>
<rect x="109.02" y="25.85" width="0.9" height="0.9" fill="#bababa"/>
<rect x="109.02" y="26.85" width="0.9" height="0.9" fill="#c6c6c6"/>
<rect x="109.02" y="29.35" width="0.9" height="0.9" fill="#8c8c8c"/>
<rect x="109.02" y="33.48" width="0.9" height="0.9" fill="#8c8c8c"/>
<rect x="109.02" y="40.21" width="0.9" height="0.9" fill="#8c8c8c"/>
<rect x="109.02" y="49.62" width="0.9" height="0.9" fill="#8c8c8c"/>
<rect x="109.02" y="86.44" width="0.9" height="0.9" fill="#828282"/>
<rect x="109.02" y="105.78" width="0.9" height="0.9" fill="#828282"/>
<rect x="109.02" y="131.90" width="0.9" height="0.9" fill="#828282"/>
<rect x="109.02" y="162.29" width="0.9" height="0.9" fill="#828282"/>
<rect x="109.02" y="200.83" width="0.9" height="0.9" fill="#828282"/>
<rect x="109.02" y="247.28" width="0.9" height="0.9" fill="#828282"/>
<rect x="113.52" y="14.75" width="0.9" height="0.9" fill="#969696"/>
<rect x="113.52" y="23.25" width="0.9" height="0.9" fill="#969696"/>
<rect x="113.52" y="24.25" width="0.9" height="0.9" fill="#a2a2a2"/>
<rect x="113.52" y="25.25" width="0.9" height="0.9" fill="#aeaeae"/>
<rect x="113.52" y="26.25" width="0.9" height="0.9" fill="#bababa"/>
<rect x="113.52" y="27.25" width="0.9" height="0.9" fill="#c6c6c6"/>
<rect x="113.52" y="29.75" width="0.9" height="0.9" fill="#8c8c8c"/>
<rect x="113.52" y="33.88" width="0.9" height="0.9" fill="#8c8c8c"/>
<rect x="113.52" y="40.45" width="0.9" height="0.9" fill="#8c8c8c"/>
<rect x="113.52" y="49.57" width="0.9" height="0.9" fill="#8c8c8c"/>
<rect x="113.52" y="86.93" width="0.9" height="0.9" fill="#828282"/>
<rect x="113.52" y="106.34" width="0.9" height="0.9" fill="#828282"/>
<rect x="113.52" y="132.86" width="0.9" height="0.9" fill="#828282"/>
<rect x="113.52" y="163.19" width="0.9" height="0.9" fill="#828282"/>
<rect x="113.52" y="202.05" width="0.9" height="0.9" fill="#828282"/>
<rect x="113.52" y="248.61" width="0.9" height="0.9" fill="#828282"/>
<rect x="117.82" y="15.35" width="0.9" height="0.9" fill="#969696"/>
<rect x="117.82" y="23.85" width="0.9" height="0.9" fill="#969696"/>
<rect x="117.82" y="24.85" width="0.9" height="0.9" fill="#a2a2a2"/>
<rect x="117.82" y="25.85" width="0.9" height="0.9" fill="#aeaeae"/>
<rect x="117.82" y="26.85" width="0.9" height="0.9" fill="#bababa"/>
<rect x="117.82" y="27.85" width="0.9" height="0.9" fill="#c6c6c6"/>
<rect x="117.82" y="30.35" width="0.9" height="0.9" fill="#8c8c8c"/>
<rect x="117.82" y="34.48" width="0.9" height="0.9" fill="#8c8c8c"/>
<rect x="117.82" y="40.91" width="0.9" height="0.9" fill="#8c8c8c"/>
<rect x="117.82" y="49.75" width="0.9" height="0.9" fill="#8c8c8c"/>
<rect x="117.82" y="61.83" width="0.9" height="0.9" fill="#8c8c8c"/>
<rect x="117.82" y="88.53" width="0.9" height="0.9" fill="#828282"/>
<rect x="117.82" y="107.12" width="0.9" height="0.9" fill="#828282"/>
<rect x="117.82" y="133.66" width="0.9" height="0.9" fill="#828282"/>
<rect x="117.82" y="164.07" width="0.9" height="0.9" fill="#828282"/>
<rect x="117.82" y="203.27" width="0.9" height="0.9" fill="#828282"/>
<rect x="117.82" y="249.92" width="0.9" height="0.9" fill="#828282"/>
<rect x="122.32" y="15.65" width="0.9" height="0.9" fill="#969696"/>
<rect x="122.32" y="24.15" width="0.9" height="0.9" fill="#969696"/>
<rect x="122.32" y="25.15" width="0.9" height="0.9" fill="#a2a2a2"/>
<rect x="122.32" y="26.15" width="0.9" height="0.9" fill="#aeaeae"/>
<rect x="122.32" y="27.15" width="0.9" height="0.9" fill="#bababa"/>
<rect x="122.32" y="28.15" width="0.9" height="0.9" fill="#c6c6c6"/>
<rect x="122.32" y="30.65" width="0.9" height="0.9" fill="#8c8c8c"/>
<rect x="122.32" y="34.77" width="0.9" height="0.9" fill="#8c8c8c"/>
<rect x="122.32" y="41.05" width="0.9" height="0.9" fill="#8c8c8c"/>
<rect x="122.32" y="49.62" width="0.9" height="0.9" fill="#8c8c8c"/>
<rect x="122.32" y="61.22" width="0.9" height="0.9" fill="#8c8c8c"/>
<rect x="122.32" y="90.21" width="0.9" height="0.9" fill="#828282"/>
<rect x="122.32" y="107.95" width="0.9" height="0.9" fill="#828282"/>
<rect x="122.32" y="134.42" width="0.9" height="0.9" fill="#828282"/>
<rect x="122.32" y="165.02" width="0.9" height="0.9" fill="#828282"/>
<rect x="122.32" y="204.58" width="0.9" height="0.9" fill="#828282"/>
<rect x="126.92" y="16.05" width="0.9" height="0.9" fill="#969696"/>
<rect x="126.92" y="24.55" width="0.9" height="0.9" fill="#969696"/>
<rect x="126.92" y="25.55" width="0.9" height="0.9" fill="#a2a2a2"/>
<rect x="126.92" y="26.55" width="0.9" height="0.9" fill="#aeaeae"/>
<rect x="126.92" y="27.55" width="0.9" height="0.9" fill="#bababa"/>
<rect x="126.92" y="28.55" width="0.9" height="0.9" fill="#c6c6c6"/>
<rect x="126.92" y="31.05" width="0.9" height="0.9" fill="#8c8c8c"/>
<rect x="126.92" y="35.17" width="0.9" height="0.9" fill="#8c8c8c"/>
<rect x="126.92" y="41.30" width="0.9" height="0.9" fill="#8c8c8c"/>
<rect x="126.92" y="49.58" width="0.9" height="0.9" fill="#8c8c8c"/>
<rect x="126.92" y="60.71" width="0.9" height="0.9" fill="#8c8c8c"/>
<rect x="126.92" y="74.95" width="0.9" height="0.9" fill="#8c8c8c"/>
<rect x="126.92" y="81.88" width="0.9" height="0.9" fill="#8c8c8c"/>
<rect x="126.92" y="91.93" width="0.9" height="0.9" fill="#828282"/>
<rect x="126.92" y="108.79" width="0.9" height="0.9" fill="#828282"/>
<rect x="126.92" y="135.19" width="0.9" height="0.9" fill="#828282"/>
<rect x="126.92" y="165.99" width="0.9" height="0.9" fill="#828282"/>
<rect x="126.92" y="205.92" width="0.9" height="0.9" fill="#828282"/>
<rect x="132.11" y="16.55" width="0.9" height="0.9" fill="#969696"/>
<rect x="132.11" y="25.05" width="0.9" height="0.9" fill="#969696"/>
<rect x="132.11" y="26.05" width="0.9" height="0.9" fill="#a2a2a2"/>
<rect x="132.11" y="27.05" width="0.9" height="0.9" fill="#aeaeae"/>
<rect x="132.11" y="28.05" width="0.9" height="0.9" fill="#bababa"/>
<rect x="132.11" y="29.05" width="0.9" height="0.9" fill="#c6c6c6"/>
<rect x="132.11" y="31.55" width="0.9" height="0.9" fill="#8c8c8c"/>
<rect x="132.11" y="35.67" width="0.9" height="0.9" fill="#8c8c8c"/>
<rect x="132.11" y="41.63" width="0.9" height="0.9" fill="#8c8c8c"/>
<rect x="132.11" y="49.61" width="0.9" height="0.9" fill="#8c8c8c"/>
<rect x="132.11" y="60.21" width="0.9" height="0.9" fill="#8c8c8c"/>
<rect x="132.11" y="73.66" width="0.9" height="0.9" fill="#8c8c8c"/>
<rect x="132.11" y="84.15" width="0.9" height="0.9" fill="#8c8c8c"/>
<rect x="132.11" y="88.05" width="0.9" height="0.9" fill="#8c8c8c"/>
<rect x="132.11" y="109.86" width="0.9" height="0.9" fill="#828282"/>
<rect x="132.11" y="136.06" width="0.9" height="0.9" fill="#828282"/>
<rect x="132.11" y="167.09" width="0.9" height="0.9" fill="#828282"/>
<rect x="132.11" y="207.43" width="0.9" height="0.9" fill="#828282"/>
<rect x="137.81" y="16.95" width="0.9" height="0.9" fill="#969696"/>
<rect x="137.81" y="25.45" width="0.9" height="0.9" fill="#969696"/>
<rect x="137.81" y="26.45" width="0.9" height="0.9" fill="#a2a2a2"/>
<rect x="137.81" y="27.45" width="0.9" height="0.9" fill="#aeaeae"/>
<rect x="137.81" y="28.45" width="0.9" height="0.9" fill="#bababa"/>
<rect x="137.81" y="29.45" width="0.9" height="0.9" fill="#c6c6c6"/>
<rect x="137.81" y="31.95" width="0.9" height="0.9" fill="#8c8c8c"/>
<rect x="137.81" y="36.07" width="0.9" height="0.9" fill="#8c8c8c"/>
<rect x="137.81" y="41.86" width="0.9" height="0.9" fill="#8c8c8c"/>
<rect x="137.81" y="49.50" width="0.9" height="0.9" fill="#8c8c8c"/>
<rect x="137.81" y="59.55" width="0.9" height="0.9" fill="#8c8c8c"/>
<rect x="137.81" y="72.15" width="0.9" height="0.9" fill="#8c8c8c"/>
<rect x="137.81" y="86.60" width="0.9" height="0.9" fill="#8c8c8c"/>
<rect x="137.81" y="90.50" width="0.9" height="0.9" fill="#8c8c8c"/>
<rect x="137.81" y="94.40" width="0.9" height="0.9" fill="#8c8c8c"/>
<rect x="137.81" y="111.04" width="0.9" height="0.9" fill="#828282"/>
<rect x="137.81" y="137.01" width="0.9" height="0.9" fill="#828282"/>
<rect x="137.81" y="168.29" width="0.9" height="0.9" fill="#828282"/>
<rect x="137.81" y="209.09" width="0.9" height="0.9" fill="#828282"/>
<rect x="143.61" y="17.55" width="0.9" height="0.9" fill="#969696"/>
<rect x="143.61" y="26.05" width="0.9" height="0.9" fill="#969696"/>
<rect x="143.61" y="27.05" width="0.9" height="0.9" fill="#a2a2a2"/>
<rect x="143.61" y="28.05" width="0.9" height="0.9" fill="#aeaeae"/>
<rect x="143.61" y="29.05" width="0.9" height="0.9" fill="#bababa"/>
<rect x="143.61" y="30.05" width="0.9" height="0.9" fill="#c6c6c6"/>
<rect x="143.61" y="32.55" width="0.9" height="0.9" fill="#8c8c8c"/>
<rect x="143.61" y="36.66" width="0.9" height="0.9" fill="#8c8c8c"/>
<rect x="143.61" y="42.28" width="0.9" height="0.9" fill="#8c8c8c"/>
<rect x="143.61" y="49.60" width="0.9" height="0.9" fill="#8c8c8c"/>
<rect x="143.61" y="59.10" width="0.9" height="0.9" fill="#8c8c8c"/>
<rect x="143.61" y="70.89" width="0.9" height="0.9" fill="#8c8c8c"/>
<rect x="143.61" y="84.23" width="0.9" height="0.9" fill="#8c8c8c"/>
<rect x="143.61" y="89.10" width="0.9" height="0.9" fill="#8c8c8c"/>
<rect x="143.61" y="93.00" width="0.9" height="0.9" fill="#8c8c8c"/>
<rect x="143.61" y="96.90" width="0.9" height="0.9" fill="#8c8c8c"/>
<rect x="143.61" y="100.80" width="0.9" height="0.9" fill="#8c8c8c"/>
<rect x="143.61" y="112.24" width="0.9" height="0.9" fill="#828282"/>
<rect x="143.61" y="137.98" width="0.9" height="0.9" fill="#828282"/>
<rect x="143.61" y="169.52" width="0.9" height="0.9" fill="#828282"/>
<rect x="143.61" y="210.78" width="0.9" height="0.9" fill="#828282"/>
<rect x="149.51" y="17.95" width="0.9" height="0.9" fill="#969696"/>
<rect x="149.51" y="26.45" width="0.9" height="0.9" fill="#969696"/>
<rect x="149.51" y="27.45" width="0.9" height="0.9" fill="#a2a2a2"/>
<rect x="149.51" y="28.45" width="0.9" height="0.9" fill="#aeaeae"/>
<rect x="149.51" y="29.45" width="0.9" height="0.9" fill="#bababa"/>
<rect x="149.51" y="30.45" width="0.9" height="0.9" fill="#c6c6c6"/>
<rect x="149.51" y="32.95" width="0.9" height="0.9" fill="#8c8c8c"/>
<rect x="149.51" y="37.06" width="0.9" height="0.9" fill="#8c8c8c"/>
<rect x="149.51" y="42.51" width="0.9" height="0.9" fill="#8c8c8c"/>
<rect x="149.51" y="49.51" width="0.9" height="0.9" fill="#8c8c8c"/>
<rect x="149.51" y="58.49" width="0.9" height="0.9" fill="#8c8c8c"/>
<rect x="149.51" y="69.47" width="0.9" height="0.9" fill="#8c8c8c"/>
<rect x="149.51" y="81.76" width="0.9" height="0.9" fill="#8c8c8c"/>
<rect x="149.51" y="91.64" width="0.9" height="0.9" fill="#8c8c8c"/>
<rect x="149.51" y="95.54" width="0.9" height="0.9" fill="#8c8c8c"/>
<rect x="149.51" y="99.44" width="0.9" height="0.9" fill="#8c8c8c"/>
<rect x="149.51" y="103.34" width="0.9" height="0.9" fill="#8c8c8c"/>
<rect x="149.51" y="107.24" width="0.9" height="0.9" fill="#8c8c8c"/>
<rect x="149.51" y="111.14" width="0.9" height="0.9" fill="#8c8c8c"/>
<rect x="149.51" y="138.97" width="0.9" height="0.9" fill="#828282"/>
<rect x="149.51" y="170.76" width="0.9" height="0.9" fill="#828282"/>
<rect x="149.51" y="212.50" width="0.9" height="0.9" fill="#828282"/>
<rect x="155.40" y="18.55" width="0.9" height="0.9" fill="#969696"/>
<rect x="155.40" y="27.05" width="0.9" height="0.9" fill="#969696"/>
<rect x="155.40" y="28.05" width="0.9" height="0.9" fill="#a2a2a2"/>
<rect x="155.40" y="29.05" width="0.9" height="0.9" fill="#aeaeae"/>
<rect x="155.40" y="30.05" width="0.9" height="0.9" fill="#bababa"/>
<rect x="155.40" y="31.05" width="0.9" height="0.9" fill="#c6c6c6"/>
<rect x="155.40" y="33.55" width="0.9" height="0.9" fill="#8c8c8c"/>
<rect x="155.40" y="37.66" width="0.9" height="0.9" fill="#8c8c8c"/>
<rect x="155.40" y="42.95" width="0.9" height="0.9" fill="#8c8c8c"/>
<rect x="155.40" y="49.65" width="0.9" height="0.9" fill="#8c8c8c"/>
<rect x="155.40" y="58.12" width="0.9" height="0.9" fill="#8c8c8c"/>
<rect x="155.40" y="68.34" width="0.9" height="0.9" fill="#8c8c8c"/>
<rect x="155.40" y="79.63" width="0.9" height="0.9" fill="#8c8c8c"/>
<rect x="155.40" y="91.07" width="0.9" height="0.9" fill="#8c8c8c"/>
<rect x="155.40" y="95.59" width="0.9" height="0.9" fill="#8c8c8c"/>
<rect x="155.40" y="99.49" width="0.9" height="0.9" fill="#8c8c8c"/>
<rect x="155.40" y="103.39" width="0.9" height="0.9" fill="#8c8c8c"/>
<rect x="155.40" y="107.29" width="0.9" height="0.9" fill="#8c8c8c"/>
<rect x="155.40" y="111.19" width="0.9" height="0.9" fill="#8c8c8c"/>
<rect x="155.40" y="115.09" width="0.9" height="0.9" fill="#8c8c8c"/>
<rect x="155.40" y="139.96" width="0.9" height="0.9" fill="#828282"/>
<rect x="155.40" y="172.01" width="0.9" height="0.9" fill="#828282"/>
<rect x="155.40" y="214.22" width="0.9" height="0.9" fill="#828282"/>
<rect x="161.30" y="19.35" width="0.9" height="0.9" fill="#969696"/>
<rect x="161.30" y="15.85" width="0.9" height="0.9" fill="#a0a0a0"/>
<rect x="161.30" y="27.85" width="0.9" height="0.9" fill="#969696"/>
<rect x="161.30" y="28.85" width="0.9" height="0.9" fill="#a2a2a2"/>
<rect x="161.30" y="29.85" width="0.9" height="0.9" fill="#aeaeae"/>
<rect x="161.30" y="30.85" width="0.9" height="0.9" fill="#bababa"/>
<rect x="161.30" y="31.85" width="0.9" height="0.9" fill="#c6c6c6"/>
<rect x="161.30" y="34.35" width="0.9" height="0.9" fill="#8c8c8c"/>
<rect x="161.30" y="38.46" width="0.9" height="0.9" fill="#8c8c8c"/>
<rect x="161.30" y="43.60" width="0.9" height="0.9" fill="#8c8c8c"/>
<rect x="161.30" y="50.02" width="0.9" height="0.9" fill="#8c8c8c"/>
<rect x="161.30" y="58.01" width="0.9" height="0.9" fill="#8c8c8c"/>
<rect x="161.30" y="67.51" width="0.9" height="0.9" fill="#8c8c8c"/>
<rect x="161.30" y="77.86" width="0.9" height="0.9" fill="#8c8c8c"/>
<rect x="161.30" y="88.23" width="0.9" height="0.9" fill="#8c8c8c"/>
<rect x="161.30" y="99.60" width="0.9" height="0.9" fill="#8c8c8c"/>
<rect x="161.30" y="103.50" width="0.9" height="0.9" fill="#8c8c8c"/>
<rect x="161.30" y="107.40" width="0.9" height="0.9" fill="#8c8c8c"/>
<rect x="161.30" y="111.30" width="0.9" height="0.9" fill="#8c8c8c"/>
<rect x="161.30" y="115.20" width="0.9" height="0.9" fill="#8c8c8c"/>
<rect x="161.30" y="119.10" width="0.9" height="0.9" fill="#8c8c8c"/>
<rect x="161.30" y="123.00" width="0.9" height="0.9" fill="#8c8c8c"/>
<rect x="161.30" y="141.41" width="0.9" height="0.9" fill="#828282"/>
<rect x="161.30" y="173.60" width="0.9" height="0.9" fill="#828282"/>
<rect x="161.30" y="216.47" width="0.9" height="0.9" fill="#828282"/>
<rect x="167.40" y="20.05" width="0.9" height="0.9" fill="#969696"/>
<rect x="167.40" y="16.55" width="0.9" height="0.9" fill="#a0a0a0"/>
<rect x="167.40" y="28.55" width="0.9" height="0.9" fill="#969696"/>
<rect x="167.40" y="29.55" width="0.9" height="0.9" fill="#a2a2a2"/>
<rect x="167.40" y="30.55" width="0.9" height="0.9" fill="#aeaeae"/>
<rect x="167.40" y="31.55" width="0.9" height="0.9" fill="#bababa"/>
<rect x="167.40" y="32.55" width="0.9" height="0.9" fill="#c6c6c6"/>
<rect x="167.40" y="35.05" width="0.9" height="0.9" fill="#8c8c8c"/>
<rect x="167.40" y="39.15" width="0.9" height="0.9" fill="#8c8c8c"/>
<rect x="167.40" y="44.15" width="0.9" height="0.9" fill="#8c8c8c"/>
<rect x="167.40" y="50.30" width="0.9" height="0.9" fill="#8c8c8c"/>
<rect x="167.40" y="57.84" width="0.9" height="0.9" fill="#8c8c8c"/>
<rect x="167.40" y="66.66" width="0.9" height="0.9" fill="#8c8c8c"/>
<rect x="167.40" y="76.11" width="0.9" height="0.9" fill="#8c8c8c"/>
<rect x="167.40" y="85.44" width="0.9" height="0.9" fill="#8c8c8c"/>
<rect x="167.40" y="95.96" width="0.9" height="0.9" fill="#8c8c8c"/>
<rect x="167.40" y="103.75" width="0.9" height="0.9" fill="#8c8c8c"/>
<rect x="167.40" y="107.65" width="0.9" height="0.9" fill="#8c8c8c"/>
<rect x="167.40" y="111.55" width="0.9" height="0.9" fill="#8c8c8c"/>
<rect x="167.40" y="115.45" width="0.9" height="0.9" fill="#8c8c8c"/>
<rect x="167.40" y="119.35" width="0.9" height="0.9" fill="#8c8c8c"/>
<rect x="167.40" y="123.25" width="0.9" height="0.9" fill="#8c8c8c"/>
<rect x="167.40" y="127.15" width="0.9" height="0.9" fill="#8c8c8c"/>
<rect x="167.40" y="131.05" width="0.9" height="0.9" fill="#8c8c8c"/>
<rect x="167.40" y="143.03" width="0.9" height="0.9" fill="#828282"/>
<rect x="167.40" y="175.33" width="0.9" height="0.9" fill="#828282"/>
<rect x="167.40" y="218.94" width="0.9" height="0.9" fill="#828282"/>
<rect x="173.80" y="20.65" width="0.9" height="0.9" fill="#969696"/>
<rect x="173.80" y="17.15" width="0.9" height="0.9" fill="#a0a0a0"/>
<rect x="173.80" y="29.15" width="0.9" height="0.9" fill="#969696"/>
<rect x="173.80" y="30.15" width="0.9" height="0.9" fill="#a2a2a2"/>
<rect x="173.80" y="31.15" width="0.9" height="0.9" fill="#aeaeae"/>
<rect x="173.80" y="32.15" width="0.9" height="0.9" fill="#bababa"/>
<rect x="173.80" y="33.15" width="0.9" height="0.9" fill="#c6c6c6"/>
<rect x="173.80" y="35.65" width="0.9" height="0.9" fill="#8c8c8c"/>
<rect x="173.80" y="39.75" width="0.9" height="0.9" fill="#8c8c8c"/>
<rect x="173.80" y="44.61" width="0.9" height="0.9" fill="#8c8c8c"/>
<rect x="173.80" y="50.52" width="0.9" height="0.9" fill="#8c8c8c"/>
<rect x="173.80" y="57.63" width="0.9" height="0.9" fill="#8c8c8c"/>
<rect x="173.80" y="65.80" width="0.9" height="0.9" fill="#8c8c8c"/>
<rect x="173.80" y="74.41" width="0.9" height="0.9" fill="#8c8c8c"/>
<rect x="173.80" y="82.77" width="0.9" height="0.9" fill="#8c8c8c"/>
<rect x="173.80" y="92.05" width="0.9" height="0.9" fill="#8c8c8c"/>
<rect x="173.80" y="101.07" width="0.9" height="0.9" fill="#8c8c8c"/>
<rect x="173.80" y="107.45" width="0.9" height="0.9" fill="#8c8c8c"/>
<rect x="173.80" y="111.35" width="0.9" height="0.9" fill="#8c8c8c"/>
<rect x="173.80" y="115.25" width="0.9" height="0.9" fill="#8c8c8c"/>
<rect x="173.80" y="119.15" width="0.9" height="0.9" fill="#8c8c8c"/>
<rect x="173.80" y="123.05" width="0.9" height="0.9" fill="#8c8c8c"/>
<rect x="173.80" y="126.95" width="0.9" height="0.9" fill="#8c8c8c"/>
<rect x="173.80" y="130.85" width="0.9" height="0.9" fill="#8c8c8c"/>
<rect x="173.80" y="134.75" width="0.9" height="0.9" fill="#8c8c8c"/>
<rect x="173.80" y="138.65" width="0.9" height="0.9" fill="#8c8c8c"/>
<rect x="173.80" y="177.14" width="0.9" height="0.9" fill="#828282"/>
<rect x="173.80" y="221.53" width="0.9" height="0.9" fill="#828282"/>
<rect x="180.29" y="21.35" width="0.9" height="0.9" fill="#969696"/>
<rect x="180.29" y="17.85" width="0.9" height="0.9" fill="#a0a0a0"/>
<rect x="180.29" y="29.85" width="0.9" height="0.9" fill="#969696"/>
<rect x="180.29" y="30.85" width="0.9" height="0.9" fill="#a2a2a2"/>
<rect x="180.29" y="31.85" width="0.9" height="0.9" fill="#aeaeae"/>
<rect x="180.29" y="32.85" width="0.9" height="0.9" fill="#bababa"/>
<rect x="180.29" y="33.85" width="0.9" height="0.9" fill="#c6c6c6"/>
<rect x="180.29" y="36.35" width="0.9" height="0.9" fill="#8c8c8c"/>
<rect x="180.29" y="40.45" width="0.9" height="0.9" fill="#8c8c8c"/>
<rect x="180.29" y="45.20" width="0.9" height="0.9" fill="#8c8c8c"/>
<rect x="180.29" y="50.89" width="0.9" height="0.9" fill="#8c8c8c"/>
<rect x="180.29" y="57.64" width="0.9" height="0.9" fill="#8c8c8c"/>
<rect x="180.29" y="65.27" width="0.9" height="0.9" fill="#8c8c8c"/>
<rect x="180.29" y="73.18" width="0.9" height="0.9" fill="#8c8c8c"/>
<rect x="180.29" y="80.72" width="0.9" height="0.9" fill="#8c8c8c"/>
<rect x="180.29" y="88.97" width="0.9" height="0.9" fill="#8c8c8c"/>
<rect x="180.29" y="96.85" width="0.9" height="0.9" fill="#8c8c8c"/>
<rect x="180.29" y="105.23" width="0.9" height="0.9" fill="#8c8c8c"/>
<rect x="180.29" y="111.20" width="0.9" height="0.9" fill="#8c8c8c"/>
<rect x="180.29" y="115.10" width="0.9" height="0.9" fill="#8c8c8c"/>
<rect x="180.29" y="119.00" width="0.9" height="0.9" fill="#8c8c8c"/>
<rect x="180.29" y="122.90" width="0.9" height="0.9" fill="#8c8c8c"/>
<rect x="180.29" y="126.80" width="0.9" height="0.9" fill="#8c8c8c"/>
<rect x="180.29" y="130.70" width="0.9" height="0.9" fill="#8c8c8c"/>
<rect x="180.29" y="134.60" width="0.9" height="0.9" fill="#8c8c8c"/>
<rect x="180.29" y="138.50" width="0.9" height="0.9" fill="#8c8c8c"/>
<rect x="180.29" y="142.40" width="0.9" height="0.9" fill="#8c8c8c"/>
<rect x="180.29" y="146.30" width="0.9" height="0.9" fill="#8c8c8c"/>
<rect x="180.29" y="178.99" width="0.9" height="0.9" fill="#828282"/>
<rect x="180.29" y="223.81" width="0.9" height="0.9" fill="#828282"/>
<rect x="186.89" y="21.95" width="0.9" height="0.9" fill="#969696"/>
<rect x="186.89" y="18.45" width="0.9" height="0.9" fill="#a0a0a0"/>
<rect x="186.89" y="30.45" width="0.9" height="0.9" fill="#969696"/>
<rect x="186.89" y="31.45" width="0.9" height="0.9" fill="#a2a2a2"/>
<rect x="186.89" y="32.45" width="0.9" height="0.9" fill="#aeaeae"/>
<rect x="186.89" y="33.45" width="0.9" height="0.9" fill="#bababa"/>
<rect x="186.89" y="34.45" width="0.9" height="0.9" fill="#c6c6c6"/>
<rect x="186.89" y="36.95" width="0.9" height="0.9" fill="#8c8c8c"/>
<rect x="186.89" y="41.05" width="0.9" height="0.9" fill="#8c8c8c"/>
<rect x="186.89" y="45.75" width="0.9" height="0.9" fill="#8c8c8c"/>
<rect x="186.89" y="51.35" width="0.9" height="0.9" fill="#8c8c8c"/>
<rect x="186.89" y="57.95" width="0.9" height="0.9" fill="#8c8c8c"/>
<rect x="186.89" y="65.35" width="0.9" height="0.9" fill="#8c8c8c"/>
<rect x="186.89" y="72.95" width="0.9" height="0.9" fill="#8c8c8c"/>
<rect x="186.89" y="80.15" width="0.9" height="0.9" fill="#8c8c8c"/>
<rect x="186.89" y="87.95" width="0.9" height="0.9" fill="#8c8c8c"/>
<rect x="186.89" y="95.35" width="0.9" height="0.9" fill="#8c8c8c"/>
<rect x="186.89" y="103.15" width="0.9" height="0.9" fill="#8c8c8c"/>
<rect x="186.89" y="111.35" width="0.9" height="0.9" fill="#8c8c8c"/>
<rect x="186.89" y="114.23" width="0.9" height="0.9" fill="#8c8c8c"/>
<rect x="186.89" y="118.13" width="0.9" height="0.9" fill="#8c8c8c"/>
<rect x="186.89" y="122.03" width="0.9" height="0.9" fill="#8c8c8c"/>
<rect x="186.89" y="125.93" width="0.9" height="0.9" fill="#8c8c8c"/>
<rect x="186.89" y="129.83" width="0.9" height="0.9" fill="#8c8c8c"/>
<rect x="186.89" y="133.73" width="0.9" height="0.9" fill="#8c8c8c"/>
<rect x="186.89" y="137.63" width="0.9" height="0.9" fill="#8c8c8c"/>
<rect x="186.89" y="141.53" width="0.9" height="0.9" fill="#8c8c8c"/>
<rect x="186.89" y="145.43" width="0.9" height="0.9" fill="#8c8c8c"/>
<rect x="186.89" y="149.33" width="0.9" height="0.9" fill="#8c8c8c"/>
<rect x="186.89" y="153.23" width="0.9" height="0.9" fill="#8c8c8c"/>
<rect x="186.89" y="180.86" width="0.9" height="0.9" fill="#828282"/>
<rect x="186.89" y="225.63" width="0.9" height="0.9" fill="#828282"/>
<rect x="193.39" y="22.65" width="0.9" height="0.9" fill="#969696"/>
<rect x="193.39" y="19.15" width="0.9" height="0.9" fill="#a0a0a0"/>
<rect x="193.39" y="31.15" width="0.9" height="0.9" fill="#969696"/>
<rect x="193.39" y="32.15" width="0.9" height="0.9" fill="#a2a2a2"/>
<rect x="193.39" y="33.15" width="0.9" height="0.9" fill="#aeaeae"/>
<rect x="193.39" y="34.15" width="0.9" height="0.9" fill="#bababa"/>
<rect x="193.39" y="35.15" width="0.9" height="0.9" fill="#c6c6c6"/>
<rect x="193.39" y="37.65" width="0.9" height="0.9" fill="#8c8c8c"/>
<rect x="193.39" y="41.75" width="0.9" height="0.9" fill="#8c8c8c"/>
<rect x="193.39" y="46.45" width="0.9" height="0.9" fill="#8c8c8c"/>
<rect x="193.39" y="52.05" width="0.9" height="0.9" fill="#8c8c8c"/>
<rect x="193.39" y="58.65" width="0.9" height="0.9" fill="#8c8c8c"/>
<rect x="193.39" y="66.05" width="0.9" height="0.9" fill="#8c8c8c"/>
<rect x="193.39" y="73.65" width="0.9" height="0.9" fill="#8c8c8c"/>
<rect x="193.39" y="80.85" width="0.9" height="0.9" fill="#8c8c8c"/>
<rect x="193.39" y="88.65" width="0.9" height="0.9" fill="#8c8c8c"/>
<rect x="193.39" y="96.05" width="0.9" height="0.9" fill="#8c8c8c"/>
<rect x="193.39" y="103.85" width="0.9" height="0.9" fill="#8c8c8c"/>
<rect x="193.39" y="112.05" width="0.9" height="0.9" fill="#8c8c8c"/>
<rect x="193.39" y="117.18" width="0.9" height="0.9" fill="#8c8c8c"/>
<rect x="193.39" y="121.08" width="0.9" height="0.9" fill="#8c8c8c"/>
<rect x="193.39" y="124.98" width="0.9" height="0.9" fill="#8c8c8c"/>
<rect x="193.39" y="128.88" width="0.9" height="0.9" fill="#8c8c8c"/>
<rect x="193.39" y="132.78" width="0.9" height="0.9" fill="#8c8c8c"/>
<rect x="193.39" y="136.68" width="0.9" height="0.9" fill="#8c8c8c"/>
<rect x="193.39" y="140.58" width="0.9" height="0.9" fill="#8c8c8c"/>
<rect x="193.39" y="144.48" width="0.9" height="0.9" fill="#8c8c8c"/>
<rect x="193.39" y="148.38" width="0.9" height="0.9" fill="#8c8c8c"/>
<rect x="193.39" y="152.28" width="0.9" height="0.9" fill="#8c8c8c"/>
<rect x="193.39" y="156.18" width="0.9" height="0.9" fill="#8c8c8c"/>
<rect x="193.39" y="182.71" width="0.9" height="0.9" fill="#828282"/>
<rect x="193.39" y="227.43" width="0.9" height="0.9" fill="#828282"/>
<rect x="199.99" y="23.25" width="0.9" height="0.9" fill="#969696"/>
<rect x="199.99" y="19.75" width="0.9" height="0.9" fill="#a0a0a0"/>
<rect x="199.99" y="31.75" width="0.9" height="0.9" fill="#969696"/>
<rect x="199.99" y="32.75" width="0.9" height="0.9" fill="#a2a2a2"/>
<rect x="199.99" y="33.75" width="0.9" height="0.9" fill="#aeaeae"/>
<rect x="199.99" y="34.75" width="0.9" height="0.9" fill="#bababa"/>
<rect x="199.99" y="35.75" width="0.9" height="0.9" fill="#c6c6c6"/>
<rect x="199.99" y="38.25" width="0.9" height="0.9" fill="#8c8c8c"/>
<rect x="199.99" y="42.35" width="0.9" height="0.9" fill="#8c8c8c"/>
<rect x="199.99" y="47.05" width="0.9" height="0.9" fill="#8c8c8c"/>
<rect x="199.99" y="52.65" width="0.9" height="0.9" fill="#8c8c8c"/>
<rect x="199.99" y="59.25" width="0.9" height="0.9" fill="#8c8c8c"/>
<rect x="199.99" y="66.65" width="0.9" height="0.9" fill="#8c8c8c"/>
<rect x="199.99" y="74.25" width="0.9" height="0.9" fill="#8c8c8c"/>
<rect x="199.99" y="81.45" width="0.9" height="0.9" fill="#8c8c8c"/>
<rect x="199.99" y="89.25" width="0.9" height="0.9" fill="#8c8c8c"/>
<rect x="199.99" y="96.65" width="0.9" height="0.9" fill="#8c8c8c"/>
<rect x="199.99" y="104.45" width="0.9" height="0.9" fill="#8c8c8c"/>
<rect x="199.99" y="112.65" width="0.9" height="0.9" fill="#8c8c8c"/>
<rect x="199.99" y="118.92" width="0.9" height="0.9" fill="#8c8c8c"/>
<rect x="199.99" y="122.82" width="0.9" height="0.9" fill="#8c8c8c"/>
<rect x="199.99" y="126.72" width="0.9" height="0.9" fill="#8c8c8c"/>
<rect x="199.99" y="130.62" width="0.9" height="0.9" fill="#8c8c8c"/>
<rect x="199.99" y="134.52" width="0.9" height="0.9" fill="#8c8c8c"/>
<rect x="199.99" y="138.42" width="0.9" height="0.9" fill="#8c8c8c"/>
<rect x="199.99" y="142.32" width="0.9" height="0.9" fill="#8c8c8c"/>
<rect x="199.99" y="146.22" width="0.9" height="0.9" fill="#8c8c8c"/>
<rect x="199.99" y="150.12" width="0.9" height="0.9" fill="#8c8c8c"/>
<rect x="199.99" y="154.02" width="0.9" height="0.9" fill="#8c8c8c"/>
<rect x="199.99" y="157.92" width="0.9" height="0.9" fill="#8c8c8c"/>
<rect x="199.99" y="161.82" width="0.9" height="0.9" fill="#8c8c8c"/>
<rect x="199.99" y="184.58" width="0.9" height="0.9" fill="#828282"/>
<rect x="199.99" y="229.25" width="0.9" height="0.9" fill="#828282"/>
<rect x="207.08" y="23.95" width="0.9" height="0.9" fill="#969696"/>
<rect x="207.08" y="20.45" width="0.9" height="0.9" fill="#a0a0a0"/>
<rect x="207.08" y="32.45" width="0.9" height="0.9" fill="#969696"/>
<rect x="207.08" y="33.45" width="0.9" height="0.9" fill="#a2a2a2"/>
<rect x="207.08" y="34.45" width="0.9" height="0.9" fill="#aeaeae"/>
<rect x="207.08" y="35.45" width="0.9" height="0.9" fill="#bababa"/>
<rect x="207.08" y="36.45" width="0.9" height="0.9" fill="#c6c6c6"/>
<rect x="207.08" y="38.95" width="0.9" height="0.9" fill="#8c8c8c"/>
<rect x="207.08" y="43.05" width="0.9" height="0.9" fill="#8c8c8c"/>
<rect x="207.08" y="47.75" width="0.9" height="0.9" fill="#8c8c8c"/>
<rect x="207.08" y="53.35" width="0.9" height="0.9" fill="#8c8c8c"/>
<rect x="207.08" y="59.95" width="0.9" height="0.9" fill="#8c8c8c"/>
<rect x="207.08" y="67.35" width="0.9" height="0.9" fill="#8c8c8c"/>
<rect x="207.08" y="74.95" width="0.9" height="0.9" fill="#8c8c8c"/>
<rect x="207.08" y="82.15" width="0.9" height="0.9" fill="#8c8c8c"/>
<rect x="207.08" y="89.95" width="0.9" height="0.9" fill="#8c8c8c"/>
<rect x="207.08" y="97.35" width="0.9" height="0.9" fill="#8c8c8c"/>
<rect x="207.08" y="105.15" width="0.9" height="0.9" fill="#8c8c8c"/>
<rect x="207.08" y="113.35" width="0.9" height="0.9" fill="#8c8c8c"/>
<rect x="207.08" y="120.77" width="0.9" height="0.9" fill="#8c8c8c"/>
<rect x="207.08" y="124.67" width="0.9" height="0.9" fill="#8c8c8c"/>
<rect x="207.08" y="128.57" width="0.9" height="0.9" fill="#8c8c8c"/>
<rect x="207.08" y="132.47" width="0.9" height="0.9" fill="#8c8c8c"/>
<rect x="207.08" y="136.37" width="0.9" height="0.9" fill="#8c8c8c"/>
<rect x="207.08" y="140.27" width="0.9" height="0.9" fill="#8c8c8c"/>
<rect x="207.08" y="144.17" width="0.9" height="0.9" fill="#8c8c8c"/>
<rect x="207.08" y="148.07" width="0.9" height="0.9" fill="#8c8c8c"/>
<rect x="207.08" y="151.97" width="0.9" height="0.9" fill="#8c8c8c"/>
<rect x="207.08" y="155.87" width="0.9" height="0.9" fill="#8c8c8c"/>
<rect x="207.08" y="159.77" width="0.9" height="0.9" fill="#8c8c8c"/>
<rect x="207.08" y="163.67" width="0.9" height="0.9" fill="#8c8c8c"/>
<rect x="207.08" y="167.57" width="0.9" height="0.9" fill="#8c8c8c"/>
<rect x="207.08" y="186.59" width="0.9" height="0.9" fill="#828282"/>
<rect x="207.08" y="231.21" width="0.9" height="0.9" fill="#828282"/>
<rect x="213.78" y="24.55" width="0.9" height="0.9" fill="#969696"/>
<rect x="213.78" y="21.05" width="0.9" height="0.9" fill="#a0a0a0"/>
<rect x="213.78" y="33.05" width="0.9" height="0.9" fill="#969696"/>
<rect x="213.78" y="34.05" width="0.9" height="0.9" fill="#a2a2a2"/>
<rect x="213.78" y="35.05" width="0.9" height="0.9" fill="#aeaeae"/>
<rect x="213.78" y="36.05" width="0.9" height="0.9" fill="#bababa"/>
<rect x="213.78" y="37.05" width="0.9" height="0.9" fill="#c6c6c6"/>
<rect x="213.78" y="39.55" width="0.9" height="0.9" fill="#8c8c8c"/>
<rect x="213.78" y="43.65" width="0.9" height="0.9" fill="#8c8c8c"/>
<rect x="213.78" y="48.35" width="0.9" height="0.9" fill="#8c8c8c"/>
<rect x="213.78" y="53.95" width="0.9" height="0.9" fill="#8c8c8c"/>
<rect x="213.78" y="60.55" width="0.9" height="0.9" fill="#8c8c8c"/>
<rect x="213.78" y="67.95" width="0.9" height="0.9" fill="#8c8c8c"/>
<rect x="213.78" y="75.55" width="0.9" height="0.9" fill="#8c8c8c"/>
<rect x="213.78" y="82.75" width="0.9" height="0.9" fill="#8c8c8c"/>
<rect x="213.78" y="90.55" width="0.9" height="0.9" fill="#8c8c8c"/>
<rect x="213.78" y="97.95" width="0.9" height="0.9" fill="#8c8c8c"/>
<rect x="213.78" y="105.75" width="0.9" height="0.9" fill="#8c8c8c"/>
<rect x="213.78" y="113.95" width="0.9" height="0.9" fill="#8c8c8c"/>
<rect x="213.78" y="123.87" width="0.9" height="0.9" fill="#8c8c8c"/>
<rect x="213.78" y="127.77" width="0.9" height="0.9" fill="#8c8c8c"/>
<rect x="213.78" y="131.67" width="0.9" height="0.9" fill="#8c8c8c"/>
<rect x="213.78" y="135.57" width="0.9" height="0.9" fill="#8c8c8c"/>
<rect x="213.78" y="139.47" width="0.9" height="0.9" fill="#8c8c8c"/>
<rect x="213.78" y="143.37" width="0.9" height="0.9" fill="#8c8c8c"/>
<rect x="213.78" y="147.27" width="0.9" height="0.9" fill="#8c8c8c"/>
<rect x="213.78" y="151.17" width="0.9" height="0.9" fill="#8c8c8c"/>
<rect x="213.78" y="155.07" width="0.9" height="0.9" fill="#8c8c8c"/>
<rect x="213.78" y="158.97" width="0.9" height="0.9" fill="#8c8c8c"/>
<rect x="213.78" y="162.87" width="0.9" height="0.9" fill="#8c8c8c"/>
<rect x="213.78" y="166.77" width="0.9" height="0.9" fill="#8c8c8c"/>
<rect x="213.78" y="170.67" width="0.9" height="0.9" fill="#8c8c8c"/>
<rect x="213.78" y="188.49" width="0.9" height="0.9" fill="#828282"/>
<rect x="213.78" y="233.06" width="0.9" height="0.9" fill="#828282"/>
<rect x="220.88" y="25.25" width="0.9" height="0.9" fill="#969696"/>
<rect x="220.88" y="21.75" width="0.9" height="0.9" fill="#a0a0a0"/>
<rect x="220.88" y="33.75" width="0.9" height="0.9" fill="#969696"/>
<rect x="220.88" y="34.75" width="0.9" height="0.9" fill="#a2a2a2"/>
<rect x="220.88" y="35.75" width="0.9" height="0.9" fill="#aeaeae"/>
<rect x="220.88" y="36.75" width="0.9" height="0.9" fill="#bababa"/>
<rect x="220.88" y="37.75" width="0.9" height="0.9" fill="#c6c6c6"/>
<rect x="220.88" y="123.05" width="0.9" height="0.9" fill="#8c8c8c"/>
<rect x="220.88" y="114.35" width="0.9" height="0.9" fill="#8c8c8c"/>
<rect x="220.88" y="106.15" width="0.9" height="0.9" fill="#8c8c8c"/>
<rect x="220.88" y="98.35" width="0.9" height="0.9" fill="#8c8c8c"/>
<rect x="220.88" y="90.95" width="0.9" height="0.9" fill="#8c8c8c"/>
<rect x="220.88" y="83.16" width="0.9" height="0.9" fill="#8c8c8c"/>
<rect x="220.88" y="75.96" width="0.9" height="0.9" fill="#8c8c8c"/>
<rect x="220.88" y="68.37" width="0.9" height="0.9" fill="#8c8c8c"/>
<rect x="220.88" y="60.97" width="0.9" height="0.9" fill="#8c8c8c"/>
<rect x="220.88" y="54.38" width="0.9" height="0.9" fill="#8c8c8c"/>
<rect x="220.88" y="48.78" width="0.9" height="0.9" fill="#8c8c8c"/>
<rect x="220.88" y="44.09" width="0.9" height="0.9" fill="#8c8c8c"/>
<rect x="220.88" y="39.99" width="0.9" height="0.9" fill="#8c8c8c"/>
<rect x="220.88" y="127.15" width="0.9" height="0.9" fill="#8c8c8c"/>
<rect x="220.88" y="131.05" width="0.9" height="0.9" fill="#8c8c8c"/>
<rect x="220.88" y="134.95" width="0.9" height="0.9" fill="#8c8c8c"/>
<rect x="220.88" y="138.85" width="0.9" height="0.9" fill="#8c8c8c"/>
<rect x="220.88" y="142.75" width="0.9" height="0.9" fill="#8c8c8c"/>
<rect x="220.88" y="146.65" width="0.9" height="0.9" fill="#8c8c8c"/>
<rect x="220.88" y="150.55" width="0.9" height="0.9" fill="#8c8c8c"/>
<rect x="220.88" y="154.45" width="0.9" height="0.9" fill="#8c8c8c"/>
<rect x="220.88" y="158.35" width="0.9" height="0.9" fill="#8c8c8c"/>
<rect x="220.88" y="162.25" width="0.9" height="0.9" fill="#8c8c8c"/>
<rect x="220.88" y="166.15" width="0.9" height="0.9" fill="#8c8c8c"/>
<rect x="220.88" y="170.05" width="0.9" height="0.9" fill="#8c8c8c"/>
<rect x="220.88" y="173.95" width="0.9" height="0.9" fill="#8c8c8c"/>
<rect x="220.88" y="177.85" width="0.9" height="0.9" fill="#8c8c8c"/>
<rect x="220.88" y="190.51" width="0.9" height="0.9" fill="#828282"/>
<rect x="220.88" y="235.02" width="0.9" height="0.9" fill="#828282"/>
<rect x="227.87" y="25.85" width="0.9" height="0.9" fill="#969696"/>
<rect x="227.87" y="22.35" width="0.9" height="0.9" fill="#a0a0a0"/>
<rect x="227.87" y="34.35" width="0.9" height="0.9" fill="#969696"/>
<rect x="227.87" y="35.35" width="0.9" height="0.9" fill="#a2a2a2"/>
<rect x="227.87" y="36.35" width="0.9" height="0.9" fill="#aeaeae"/>
<rect x="227.87" y="37.35" width="0.9" height="0.9" fill="#bababa"/>
<rect x="227.87" y="38.35" width="0.9" height="0.9" fill="#c6c6c6"/>
<rect x="227.87" y="123.05" width="0.9" height="0.9" fill="#8c8c8c"/>
<rect x="227.87" y="114.35" width="0.9" height="0.9" fill="#8c8c8c"/>
<rect x="227.87" y="106.15" width="0.9" height="0.9" fill="#8c8c8c"/>
<rect x="227.87" y="98.35" width="0.9" height="0.9" fill="#8c8c8c"/>
<rect x="227.87" y="90.95" width="0.9" height="0.9" fill="#8c8c8c"/>
<rect x="227.87" y="83.36" width="0.9" height="0.9" fill="#8c8c8c"/>
<rect x="227.87" y="76.19" width="0.9" height="0.9" fill="#8c8c8c"/>
<rect x="227.87" y="68.73" width="0.9" height="0.9" fill="#8c8c8c"/>
<rect x="227.87" y="61.46" width="0.9" height="0.9" fill="#8c8c8c"/>
<rect x="227.87" y="54.96" width="0.9" height="0.9" fill="#8c8c8c"/>
<rect x="227.87" y="49.45" width="0.9" height="0.9" fill="#8c8c8c"/>
<rect x="227.87" y="44.84" width="0.9" height="0.9" fill="#8c8c8c"/>
<rect x="227.87" y="40.82" width="0.9" height="0.9" fill="#8c8c8c"/>
<rect x="227.87" y="128.25" width="0.9" height="0.9" fill="#8c8c8c"/>
<rect x="227.87" y="132.15" width="0.9" height="0.9" fill="#8c8c8c"/>
<rect x="227.87" y="136.05" width="0.9" height="0.9" fill="#8c8c8c"/>
<rect x="227.87" y="139.95" width="0.9" height="0.9" fill="#8c8c8c"/>
<rect x="227.87" y="143.85" width="0.9" height="0.9" fill="#8c8c8c"/>
<rect x="227.87" y="147.75" width="0.9" height="0.9" fill="#8c8c8c"/>
<rect x="227.87" y="151.65" width="0.9" height="0.9" fill="#8c8c8c"/>
<rect x="227.87" y="155.55" width="0.9" height="0.9" fill="#8c8c8c"/>
<rect x="227.87" y="159.45" width="0.9" height="0.9" fill="#8c8c8c"/>
<rect x="227.87" y="163.35" width="0.9" height="0.9" fill="#8c8c8c"/>
<rect x="227.87" y="167.25" width="0.9" height="0.9" fill="#8c8c8c"/>
<rect x="227.87" y="171.15" width="0.9" height="0.9" fill="#8c8c8c"/>
<rect x="227.87" y="175.05" width="0.9" height="0.9" fill="#8c8c8c"/>
<rect x="227.87" y="178.95" width="0.9" height="0.9" fill="#8c8c8c"/>
<rect x="227.87" y="192.49" width="0.9" height="0.9" fill="#828282"/>
<rect x="227.87" y="236.96" width="0.9" height="0.9" fill="#828282"/>
<rect x="235.07" y="26.75" width="0.9" height="0.9" fill="#969696"/>
<rect x="235.07" y="23.25" width="0.9" height="0.9" fill="#a0a0a0"/>
<rect x="235.07" y="35.25" width="0.9" height="0.9" fill="#969696"/>
<rect x="235.07" y="36.25" width="0.9" height="0.9" fill="#a2a2a2"/>
<rect x="235.07" y="37.25" width="0.9" height="0.9" fill="#aeaeae"/>
<rect x="235.07" y="38.25" width="0.9" height="0.9" fill="#bababa"/>
<rect x="235.07" y="39.25" width="0.9" height="0.9" fill="#c6c6c6"/>
<rect x="235.07" y="123.05" width="0.9" height="0.9" fill="#8c8c8c"/>
<rect x="235.07" y="114.35" width="0.9" height="0.9" fill="#8c8c8c"/>
<rect x="235.07" y="106.15" width="0.9" height="0.9" fill="#8c8c8c"/>
<rect x="235.07" y="98.35" width="0.9" height="0.9" fill="#8c8c8c"/>
<rect x="235.07" y="90.95" width="0.9" height="0.9" fill="#8c8c8c"/>
<rect x="235.07" y="83.57" width="0.9" height="0.9" fill="#8c8c8c"/>
<rect x="235.07" y="76.42" width="0.9" height="0.9" fill="#8c8c8c"/>
<rect x="235.07" y="69.11" width="0.9" height="0.9" fill="#8c8c8c"/>
<rect x="235.07" y="61.96" width="0.9" height="0.9" fill="#8c8c8c"/>
<rect x="235.07" y="55.56" width="0.9" height="0.9" fill="#8c8c8c"/>
<rect x="235.07" y="50.13" width="0.9" height="0.9" fill="#8c8c8c"/>
<rect x="235.07" y="45.63" width="0.9" height="0.9" fill="#8c8c8c"/>
<rect x="235.07" y="41.67" width="0.9" height="0.9" fill="#8c8c8c"/>
<rect x="235.07" y="129.38" width="0.9" height="0.9" fill="#8c8c8c"/>
<rect x="235.07" y="133.28" width="0.9" height="0.9" fill="#8c8c8c"/>
<rect x="235.07" y="137.18" width="0.9" height="0.9" fill="#8c8c8c"/>
<rect x="235.07" y="141.08" width="0.9" height="0.9" fill="#8c8c8c"/>
<rect x="235.07" y="144.98" width="0.9" height="0.9" fill="#8c8c8c"/>
<rect x="235.07" y="148.88" width="0.9" height="0.9" fill="#8c8c8c"/>
<rect x="235.07" y="152.78" width="0.9" height="0.9" fill="#8c8c8c"/>
<rect x="235.07" y="156.68" width="0.9" height="0.9" fill="#8c8c8c"/>
<rect x="235.07" y="160.58" width="0.9" height="0.9" fill="#8c8c8c"/>
<rect x="235.07" y="164.48" width="0.9" height="0.9" fill="#8c8c8c"/>
<rect x="235.07" y="168.38" width="0.9" height="0.9" fill="#8c8c8c"/>
<rect x="235.07" y="172.28" width="0.9" height="0.9" fill="#8c8c8c"/>
<rect x="235.07" y="176.18" width="0.9" height="0.9" fill="#8c8c8c"/>
<rect x="235.07" y="180.08" width="0.9" height="0.9" fill="#8c8c8c"/>
<rect x="235.07" y="183.98" width="0.9" height="0.9" fill="#8c8c8c"/>
<rect x="235.07" y="194.54" width="0.9" height="0.9" fill="#828282"/>
<rect x="235.07" y="238.95" width="0.9" height="0.9" fill="#828282"/>
<rect x="242.17" y="27.45" width="0.9" height="0.9" fill="#969696"/>
<rect x="242.17" y="23.95" width="0.9" height="0.9" fill="#a0a0a0"/>
<rect x="242.17" y="35.95" width="0.9" height="0.9" fill="#969696"/>
<rect x="242.17" y="36.95" width="0.9" height="0.9" fill="#a2a2a2"/>
<rect x="242.17" y="37.95" width="0.9" height="0.9" fill="#aeaeae"/>
<rect x="242.17" y="38.95" width="0.9" height="0.9" fill="#bababa"/>
<rect x="242.17" y="39.95" width="0.9" height="0.9" fill="#c6c6c6"/>
<rect x="242.17" y="123.05" width="0.9" height="0.9" fill="#8c8c8c"/>
<rect x="242.17" y="114.35" width="0.9" height="0.9" fill="#8c8c8c"/>
<rect x="242.17" y="106.15" width="0.9" height="0.9" fill="#8c8c8c"/>
<rect x="242.17" y="98.35" width="0.9" height="0.9" fill="#8c8c8c"/>
<rect x="242.17" y="90.95" width="0.9" height="0.9" fill="#8c8c8c"/>
<rect x="242.17" y="83.77" width="0.9" height="0.9" fill="#8c8c8c"/>
<rect x="242.17" y="76.65" width="0.9" height="0.9" fill="#8c8c8c"/>
<rect x="242.17" y="69.49" width="0.9" height="0.9" fill="#8c8c8c"/>
<rect x="242.17" y="62.45" width="0.9" height="0.9" fill="#8c8c8c"/>
<rect x="242.17" y="56.15" width="0.9" height="0.9" fill="#8c8c8c"/>
<rect x="242.17" y="50.80" width="0.9" height="0.9" fill="#8c8c8c"/>
<rect x="242.17" y="46.40" width="0.9" height="0.9" fill="#8c8c8c"/>
<rect x="242.17" y="42.51" width="0.9" height="0.9" fill="#8c8c8c"/>
<rect x="242.17" y="130.49" width="0.9" height="0.9" fill="#8c8c8c"/>
<rect x="242.17" y="134.39" width="0.9" height="0.9" fill="#8c8c8c"/>
<rect x="242.17" y="138.29" width="0.9" height="0.9" fill="#8c8c8c"/>
<rect x="242.17" y="142.19" width="0.9" height="0.9" fill="#8c8c8c"/>
<rect x="242.17" y="146.09" width="0.9" height="0.9" fill="#8c8c8c"/>
<rect x="242.17" y="149.99" width="0.9" height="0.9" fill="#8c8c8c"/>
<rect x="242.17" y="153.89" width="0.9" height="0.9" fill="#8c8c8c"/>
<rect x="242.17" y="157.79" width="0.9" height="0.9" fill="#8c8c8c"/>
<rect x="242.17" y="161.69" width="0.9" height="0.9" fill="#8c8c8c"/>
<rect x="242.17" y="165.59" width="0.9" height="0.9" fill="#8c8c8c"/>
<rect x="242.17" y="169.49" width="0.9" height="0.9" fill="#8c8c8c"/>
<rect x="242.17" y="173.39" width="0.9" height="0.9" fill="#8c8c8c"/>
<rect x="242.17" y="177.29" width="0.9" height="0.9" fill="#8c8c8c"/>
<rect x="242.17" y="181.19" width="0.9" height="0.9" fill="#8c8c8c"/>
<rect x="242.17" y="185.09" width="0.9" height="0.9" fill="#8c8c8c"/>
<rect x="242.17" y="188.99" width="0.9" height="0.9" fill="#8c8c8c"/>
<rect x="242.17" y="196.55" width="0.9" height="0.9" fill="#828282"/>
<rect x="242.17" y="240.91" width="0.9" height="0.9" fill="#828282"/>
<rect x="249.37" y="28.05" width="0.9" height="0.9" fill="#969696"/>
<rect x="249.37" y="24.55" width="0.9" height="0.9" fill="#a0a0a0"/>
<rect x="249.37" y="36.55" width="0.9" height="0.9" fill="#969696"/>
<rect x="249.37" y="37.55" width="0.9" height="0.9" fill="#a2a2a2"/>
<rect x="249.37" y="38.55" width="0.9" height="0.9" fill="#aeaeae"/>
<rect x="249.37" y="39.55" width="0.9" height="0.9" fill="#bababa"/>
<rect x="249.37" y="40.55" width="0.9" height="0.9" fill="#c6c6c6"/>
<rect x="249.37" y="123.05" width="0.9" height="0.9" fill="#8c8c8c"/>
<rect x="249.37" y="114.35" width="0.9" height="0.9" fill="#8c8c8c"/>
<rect x="249.37" y="106.15" width="0.9" height="0.9" fill="#8c8c8c"/>
<rect x="249.37" y="98.35" width="0.9" height="0.9" fill="#8c8c8c"/>
<rect x="249.37" y="90.95" width="0.9" height="0.9" fill="#8c8c8c"/>
<rect x="249.37" y="83.98" width="0.9" height="0.9" fill="#8c8c8c"/>
<rect x="249.37" y="76.88" width="0.9" height="0.9" fill="#8c8c8c"/>
<rect x="249.37" y="69.86" width="0.9" height="0.9" fill="#8c8c8c"/>
<rect x="249.37" y="62.95" width="0.9" height="0.9" fill="#8c8c8c"/>
<rect x="249.37" y="56.74" width="0.9" height="0.9" fill="#8c8c8c"/>
<rect x="249.37" y="51.49" width="0.9" height="0.9" fill="#8c8c8c"/>
<rect x="249.37" y="47.18" width="0.9" height="0.9" fill="#8c8c8c"/>
<rect x="249.37" y="43.37" width="0.9" height="0.9" fill="#8c8c8c"/>
<rect x="249.37" y="132.19" width="0.9" height="0.9" fill="#8c8c8c"/>
<rect x="249.37" y="136.09" width="0.9" height="0.9" fill="#8c8c8c"/>
<rect x="249.37" y="139.99" width="0.9" height="0.9" fill="#8c8c8c"/>
<rect x="249.37" y="143.89" width="0.9" height="0.9" fill="#8c8c8c"/>
<rect x="249.37" y="147.79" width="0.9" height="0.9" fill="#8c8c8c"/>
<rect x="249.37" y="151.69" width="0.9" height="0.9" fill="#8c8c8c"/>
<rect x="249.37" y="155.59" width="0.9" height="0.9" fill="#8c8c8c"/>
<rect x="249.37" y="159.49" width="0.9" height="0.9" fill="#8c8c8c"/>
<rect x="249.37" y="163.39" width="0.9" height="0.9" fill="#8c8c8c"/>
<rect x="249.37" y="167.29" width="0.9" height="0.9" fill="#8c8c8c"/>
<rect x="249.37" y="171.19" width="0.9" height="0.9" fill="#8c8c8c"/>
<rect x="249.37" y="175.09" width="0.9" height="0.9" fill="#8c8c8c"/>
<rect x="249.37" y="178.99" width="0.9" height="0.9" fill="#8c8c8c"/>
<rect x="249.37" y="182.89" width="0.9" height="0.9" fill="#8c8c8c"/>
<rect x="249.37" y="186.79" width="0.9" height="0.9" fill="#8c8c8c"/>
<rect x="249.37" y="190.69" width="0.9" height="0.9" fill="#8c8c8c"/>
<rect x="249.37" y="198.59" width="0.9" height="0.9" fill="#828282"/>
<rect x="249.37" y="242.90" width="0.9" height="0.9" fill="#828282"/>
<rect x="256.66" y="28.75" width="0.9" height="0.9" fill="#969696"/>
<rect x="256.66" y="25.25" width="0.9" height="0.9" fill="#a0a0a0"/>
<rect x="256.66" y="37.25" width="0.9" height="0.9" fill="#969696"/>
<rect x="256.66" y="38.25" width="0.9" height="0.9" fill="#a2a2a2"/>
<rect x="256.66" y="39.25" width="0.9" height="0.9" fill="#aeaeae"/>
<rect x="256.66" y="40.25" width="0.9" height="0.9" fill="#bababa"/>
<rect x="256.66" y="41.25" width="0.9" height="0.9" fill="#c6c6c6"/>
<rect x="256.66" y="123.05" width="0.9" height="0.9" fill="#8c8c8c"/>
<rect x="256.66" y="114.35" width="0.9" height="0.9" fill="#8c8c8c"/>
<rect x="256.66" y="106.15" width="0.9" height="0.9" fill="#8c8c8c"/>
<rect x="256.66" y="98.35" width="0.9" height="0.9" fill="#8c8c8c"/>
<rect x="256.66" y="90.95" width="0.9" height="0.9" fill="#8c8c8c"/>
<rect x="256.66" y="84.19" width="0.9" height="0.9" fill="#8c8c8c"/>
<rect x="256.66" y="77.11" width="0.9" height="0.9" fill="#8c8c8c"/>
<rect x="256.66" y="70.25" width="0.9" height="0.9" fill="#8c8c8c"/>
<rect x="256.66" y="63.46" width="0.9" height="0.9" fill="#8c8c8c"/>
<rect x="256.66" y="57.35" width="0.9" height="0.9" fill="#8c8c8c"/>
<rect x="256.66" y="52.18" width="0.9" height="0.9" fill="#8c8c8c"/>
<rect x="256.66" y="47.97" width="0.9" height="0.9" fill="#8c8c8c"/>
<rect x="256.66" y="44.23" width="0.9" height="0.9" fill="#8c8c8c"/>
<rect x="256.66" y="133.95" width="0.9" height="0.9" fill="#8c8c8c"/>
<rect x="256.66" y="137.85" width="0.9" height="0.9" fill="#8c8c8c"/>
<rect x="256.66" y="141.75" width="0.9" height="0.9" fill="#8c8c8c"/>
<rect x="256.66" y="145.65" width="0.9" height="0.9" fill="#8c8c8c"/>
<rect x="256.66" y="149.55" width="0.9" height="0.9" fill="#8c8c8c"/>
<rect x="256.66" y="153.45" width="0.9" height="0.9" fill="#8c8c8c"/>
<rect x="256.66" y="157.35" width="0.9" height="0.9" fill="#8c8c8c"/>
<rect x="256.66" y="161.25" width="0.9" height="0.9" fill="#8c8c8c"/>
<rect x="256.66" y="165.15" width="0.9" height="0.9" fill="#8c8c8c"/>
<rect x="256.66" y="169.05" width="0.9" height="0.9" fill="#8c8c8c"/>
<rect x="256.66" y="172.95" width="0.9" height="0.9" fill="#8c8c8c"/>
<rect x="256.66" y="176.85" width="0.9" height="0.9" fill="#8c8c8c"/>
<rect x="256.66" y="180.75" width="0.9" height="0.9" fill="#8c8c8c"/>
<rect x="256.66" y="184.65" width="0.9" height="0.9" fill="#8c8c8c"/>
<rect x="256.66" y="188.55" width="0.9" height="0.9" fill="#8c8c8c"/>
<rect x="256.66" y="192.45" width="0.9" height="0.9" fill="#8c8c8c"/>
<rect x="256.66" y="244.91" width="0.9" height="0.9" fill="#828282"/>
<rect x="264.16" y="29.35" width="0.9" height="0.9" fill="#969696"/>
<rect x="264.16" y="25.85" width="0.9" height="0.9" fill="#a0a0a0"/>
<rect x="264.16" y="37.85" width="0.9" height="0.9" fill="#969696"/>
<rect x="264.16" y="38.85" width="0.9" height="0.9" fill="#a2a2a2"/>
<rect x="264.16" y="39.85" width="0.9" height="0.9" fill="#aeaeae"/>
<rect x="264.16" y="40.85" width="0.9" height="0.9" fill="#bababa"/>
<rect x="264.16" y="41.85" width="0.9" height="0.9" fill="#c6c6c6"/>
<rect x="264.16" y="123.05" width="0.9" height="0.9" fill="#8c8c8c"/>
<rect x="264.16" y="114.35" width="0.9" height="0.9" fill="#8c8c8c"/>
<rect x="264.16" y="106.15" width="0.9" height="0.9" fill="#8c8c8c"/>
<rect x="264.16" y="98.35" width="0.9" height="0.9" fill="#8c8c8c"/>
<rect x="264.16" y="90.95" width="0.9" height="0.9" fill="#8c8c8c"/>
<rect x="264.16" y="84.41" width="0.9" height="0.9" fill="#8c8c8c"/>
<rect x="264.16" y="77.35" width="0.9" height="0.9" fill="#8c8c8c"/>
<rect x="264.16" y="70.64" width="0.9" height="0.9" fill="#8c8c8c"/>
<rect x="264.16" y="63.98" width="0.9" height="0.9" fill="#8c8c8c"/>
<rect x="264.16" y="57.97" width="0.9" height="0.9" fill="#8c8c8c"/>
<rect x="264.16" y="52.89" width="0.9" height="0.9" fill="#8c8c8c"/>
<rect x="264.16" y="48.78" width="0.9" height="0.9" fill="#8c8c8c"/>
<rect x="264.16" y="45.12" width="0.9" height="0.9" fill="#8c8c8c"/>
<rect x="264.16" y="42.09" width="0.9" height="0.9" fill="#8c8c8c"/>
<rect x="264.16" y="135.76" width="0.9" height="0.9" fill="#8c8c8c"/>
<rect x="264.16" y="139.66" width="0.9" height="0.9" fill="#8c8c8c"/>
<rect x="264.16" y="143.56" width="0.9" height="0.9" fill="#8c8c8c"/>
<rect x="264.16" y="147.46" width="0.9" height="0.9" fill="#8c8c8c"/>
<rect x="264.16" y="151.36" width="0.9" height="0.9" fill="#8c8c8c"/>
<rect x="264.16" y="155.26" width="0.9" height="0.9" fill="#8c8c8c"/>
<rect x="264.16" y="159.16" width="0.9" height="0.9" fill="#8c8c8c"/>
<rect x="264.16" y="163.06" width="0.9" height="0.9" fill="#8c8c8c"/>
<rect x="264.16" y="166.96" width="0.9" height="0.9" fill="#8c8c8c"/>
<rect x="264.16" y="170.86" width="0.9" height="0.9" fill="#8c8c8c"/>
<rect x="264.16" y="174.76" width="0.9" height="0.9" fill="#8c8c8c"/>
<rect x="264.16" y="178.66" width="0.9" height="0.9" fill="#8c8c8c"/>
<rect x="264.16" y="182.56" width="0.9" height="0.9" fill="#8c8c8c"/>
<rect x="264.16" y="186.46" width="0.9" height="0.9" fill="#8c8c8c"/>
<rect x="264.16" y="190.36" width="0.9" height="0.9" fill="#8c8c8c"/>
<rect x="264.16" y="194.26" width="0.9" height="0.9" fill="#8c8c8c"/>
<rect x="264.16" y="198.16" width="0.9" height="0.9" fill="#8c8c8c"/>
<rect x="264.16" y="246.98" width="0.9" height="0.9" fill="#828282"/>
<rect x="271.66" y="30.05" width="0.9" height="0.9" fill="#969696"/>
<rect x="271.66" y="26.55" width="0.9" height="0.9" fill="#a0a0a0"/>
<rect x="271.66" y="38.55" width="0.9" height="0.9" fill="#969696"/>
<rect x="271.66" y="39.55" width="0.9" height="0.9" fill="#a2a2a2"/>
<rect x="271.66" y="40.55" width="0.9" height="0.9" fill="#aeaeae"/>
<rect x="271.66" y="41.55" width="0.9" height="0.9" fill="#bababa"/>
<rect x="271.66" y="42.55" width="0.9" height="0.9" fill="#c6c6c6"/>
<rect x="271.66" y="123.05" width="0.9" height="0.9" fill="#8c8c8c"/>
<rect x="271.66" y="114.35" width="0.9" height="0.9" fill="#8c8c8c"/>
<rect x="271.66" y="106.15" width="0.9" height="0.9" fill="#8c8c8c"/>
<rect x="271.66" y="98.35" width="0.9" height="0.9" fill="#8c8c8c"/>
<rect x="271.66" y="90.95" width="0.9" height="0.9" fill="#8c8c8c"/>
<rect x="271.66" y="84.62" width="0.9" height="0.9" fill="#8c8c8c"/>
<rect x="271.66" y="77.60" width="0.9" height="0.9" fill="#8c8c8c"/>
<rect x="271.66" y="71.04" width="0.9" height="0.9" fill="#8c8c8c"/>
<rect x="271.66" y="64.50" width="0.9" height="0.9" fill="#8c8c8c"/>
<rect x="271.66" y="58.59" width="0.9" height="0.9" fill="#8c8c8c"/>
<rect x="271.66" y="53.60" width="0.9" height="0.9" fill="#8c8c8c"/>
<rect x="271.66" y="49.59" width="0.9" height="0.9" fill="#8c8c8c"/>
<rect x="271.66" y="46.01" width="0.9" height="0.9" fill="#8c8c8c"/>
<rect x="271.66" y="43.05" width="0.9" height="0.9" fill="#8c8c8c"/>
<rect x="271.66" y="136.71" width="0.9" height="0.9" fill="#8c8c8c"/>
<rect x="271.66" y="140.61" width="0.9" height="0.9" fill="#8c8c8c"/>
<rect x="271.66" y="144.51" width="0.9" height="0.9" fill="#8c8c8c"/>
<rect x="271.66" y="148.41" width="0.9" height="0.9" fill="#8c8c8c"/>
<rect x="271.66" y="152.31" width="0.9" height="0.9" fill="#8c8c8c"/>
<rect x="271.66" y="156.21" width="0.9" height="0.9" fill="#8c8c8c"/>
<rect x="271.66" y="160.11" width="0.9" height="0.9" fill="#8c8c8c"/>
<rect x="271.66" y="164.01" width="0.9" height="0.9" fill="#8c8c8c"/>
<rect x="271.66" y="167.91" width="0.9" height="0.9" fill="#8c8c8c"/>
<rect x="271.66" y="171.81" width="0.9" height="0.9" fill="#8c8c8c"/>
<rect x="271.66" y="175.71" width="0.9" height="0.9" fill="#8c8c8c"/>
<rect x="271.66" y="179.61" width="0.9" height="0.9" fill="#8c8c8c"/>
<rect x="271.66" y="183.51" width="0.9" height="0.9" fill="#8c8c8c"/>
<rect x="271.66" y="187.41" width="0.9" height="0.9" fill="#8c8c8c"/>
<rect x="271.66" y="191.31" width="0.9" height="0.9" fill="#8c8c8c"/>
<rect x="271.66" y="195.21" width="0.9" height="0.9" fill="#8c8c8c"/>
<rect x="271.66" y="199.11" width="0.9" height="0.9" fill="#8c8c8c"/>
<rect x="271.66" y="249.22" width="0.9" height="0.9" fill="#828282"/>
<rect x="279.05" y="30.85" width="0.9" height="0.9" fill="#969696"/>
<rect x="279.05" y="27.35" width="0.9" height="0.9" fill="#a0a0a0"/>
<rect x="279.05" y="39.35" width="0.9" height="0.9" fill="#969696"/>
<rect x="279.05" y="40.35" width="0.9" height="0.9" fill="#a2a2a2"/>
<rect x="279.05" y="41.35" width="0.9" height="0.9" fill="#aeaeae"/>
<rect x="279.05" y="42.35" width="0.9" height="0.9" fill="#bababa"/>
<rect x="279.05" y="43.35" width="0.9" height="0.9" fill="#c6c6c6"/>
<rect x="279.05" y="123.05" width="0.9" height="0.9" fill="#8c8c8c"/>
<rect x="279.05" y="114.35" width="0.9" height="0.9" fill="#8c8c8c"/>
<rect x="279.05" y="106.15" width="0.9" height="0.9" fill="#8c8c8c"/>
<rect x="279.05" y="98.35" width="0.9" height="0.9" fill="#8c8c8c"/>
<rect x="279.05" y="90.95" width="0.9" height="0.9" fill="#8c8c8c"/>
<rect x="279.05" y="84.84" width="0.9" height="0.9" fill="#8c8c8c"/>
<rect x="279.05" y="77.83" width="0.9" height="0.9" fill="#8c8c8c"/>
<rect x="279.05" y="71.42" width="0.9" height="0.9" fill="#8c8c8c"/>
<rect x="279.05" y="65.02" width="0.9" height="0.9" fill="#8c8c8c"/>
<rect x="279.05" y="59.21" width="0.9" height="0.9" fill="#8c8c8c"/>
<rect x="279.05" y="54.30" width="0.9" height="0.9" fill="#8c8c8c"/>
<rect x="279.05" y="50.40" width="0.9" height="0.9" fill="#8c8c8c"/>
<rect x="279.05" y="46.89" width="0.9" height="0.9" fill="#8c8c8c"/>
<rect x="279.05" y="43.99" width="0.9" height="0.9" fill="#8c8c8c"/>
<rect x="279.05" y="137.61" width="0.9" height="0.9" fill="#8c8c8c"/>
<rect x="279.05" y="141.51" width="0.9" height="0.9" fill="#8c8c8c"/>
<rect x="279.05" y="145.41" width="0.9" height="0.9" fill="#8c8c8c"/>
<rect x="279.05" y="149.31" width="0.9" height="0.9" fill="#8c8c8c"/>
<rect x="279.05" y="153.21" width="0.9" height="0.9" fill="#8c8c8c"/>
<rect x="279.05" y="157.11" width="0.9" height="0.9" fill="#8c8c8c"/>
<rect x="279.05" y="161.01" width="0.9" height="0.9" fill="#8c8c8c"/>
<rect x="279.05" y="164.91" width="0.9" height="0.9" fill="#8c8c8c"/>
<rect x="279.05" y="168.81" width="0.9" height="0.9" fill="#8c8c8c"/>
<rect x="279.05" y="172.71" width="0.9" height="0.9" fill="#8c8c8c"/>
<rect x="279.05" y="176.61" width="0.9" height="0.9" fill="#8c8c8c"/>
<rect x="279.05" y="180.51" width="0.9" height="0.9" fill="#8c8c8c"/>
<rect x="279.05" y="184.41" width="0.9" height="0.9" fill="#8c8c8c"/>
<rect x="279.05" y="188.31" width="0.9" height="0.9" fill="#8c8c8c"/>
<rect x="279.05" y="192.21" width="0.9" height="0.9" fill="#8c8c8c"/>
<rect x="279.05" y="196.11" width="0.9" height="0.9" fill="#8c8c8c"/>
<rect x="279.05" y="200.01" width="0.9" height="0.9" fill="#8c8c8c"/>
<rect x="279.05" y="203.91" width="0.9" height="0.9" fill="#8c8c8c"/>
<rect x="287.05" y="31.75" width="0.9" height="0.9" fill="#969696"/>
<rect x="287.05" y="28.25" width="0.9" height="0.9" fill="#a0a0a0"/>
<rect x="287.05" y="40.25" width="0.9" height="0.9" fill="#969696"/>
<rect x="287.05" y="41.25" width="0.9" height="0.9" fill="#a2a2a2"/>
<rect x="287.05" y="42.25" width="0.9" height="0.9" fill="#aeaeae"/>
<rect x="287.05" y="43.25" width="0.9" height="0.9" fill="#bababa"/>
<rect x="287.05" y="44.25" width="0.9" height="0.9" fill="#c6c6c6"/>
<rect x="287.05" y="123.05" width="0.9" height="0.9" fill="#8c8c8c"/>
<rect x="287.05" y="114.35" width="0.9" height="0.9" fill="#8c8c8c"/>
<rect x="287.05" y="106.15" width="0.9" height="0.9" fill="#8c8c8c"/>
<rect x="287.05" y="98.35" width="0.9" height="0.9" fill="#8c8c8c"/>
<rect x="287.05" y="90.95" width="0.9" height="0.9" fill="#8c8c8c"/>
<rect x="287.05" y="84.85" width="0.9" height="0.9" fill="#8c8c8c"/>
<rect x="287.05" y="77.85" width="0.9" height="0.9" fill="#8c8c8c"/>
<rect x="287.05" y="71.45" width="0.9" height="0.9" fill="#8c8c8c"/>
<rect x="287.05" y="65.05" width="0.9" height="0.9" fill="#8c8c8c"/>
<rect x="287.05" y="59.25" width="0.9" height="0.9" fill="#8c8c8c"/>
<rect x="287.05" y="54.35" width="0.9" height="0.9" fill="#8c8c8c"/>
<rect x="287.05" y="50.45" width="0.9" height="0.9" fill="#8c8c8c"/>
<rect x="287.05" y="46.95" width="0.9" height="0.9" fill="#8c8c8c"/>
<rect x="287.05" y="138.57" width="0.9" height="0.9" fill="#8c8c8c"/>
<rect x="287.05" y="142.47" width="0.9" height="0.9" fill="#8c8c8c"/>
<rect x="287.05" y="146.37" width="0.9" height="0.9" fill="#8c8c8c"/>
<rect x="287.05" y="150.27" width="0.9" height="0.9" fill="#8c8c8c"/>
<rect x="287.05" y="154.17" width="0.9" height="0.9" fill="#8c8c8c"/>
<rect x="287.05" y="158.07" width="0.9" height="0.9" fill="#8c8c8c"/>
<rect x="287.05" y="161.97" width="0.9" height="0.9" fill="#8c8c8c"/>
<rect x="287.05" y="165.87" width="0.9" height="0.9" fill="#8c8c8c"/>
<rect x="287.05" y="169.77" width="0.9" height="0.9" fill="#8c8c8c"/>
<rect x="287.05" y="173.67" width="0.9" height="0.9" fill="#8c8c8c"/>
<rect x="287.05" y="177.57" width="0.9" height="0.9" fill="#8c8c8c"/>
<rect x="287.05" y="181.47" width="0.9" height="0.9" fill="#8c8c8c"/>
<rect x="287.05" y="185.37" width="0.9" height="0.9" fill="#8c8c8c"/>
<rect x="287.05" y="189.27" width="0.9" height="0.9" fill="#8c8c8c"/>
<rect x="287.05" y="193.17" width="0.9" height="0.9" fill="#8c8c8c"/>
<rect x="287.05" y="197.07" width="0.9" height="0.9" fill="#8c8c8c"/>
<rect x="287.05" y="200.97" width="0.9" height="0.9" fill="#8c8c8c"/>
<rect x="287.05" y="204.87" width="0.9" height="0.9" fill="#8c8c8c"/>
<rect x="264.3" y="44.4" width="8.8" height="5" fill="#fff"/>
<text x="264.6" y="48.9" class="sm" textLength="7.8" lengthAdjust="spacingAndGlyphs">2.5</text>
<rect x="264.3" y="62.6" width="8.8" height="5" fill="#fff"/>
<text x="264.6" y="67.1" class="sm" textLength="7.8" lengthAdjust="spacingAndGlyphs">3.5</text>
<rect x="264.3" y="90.3" width="8.8" height="5" fill="#fff"/>
<text x="264.6" y="94.8" class="sm" textLength="7.8" lengthAdjust="spacingAndGlyphs">4.5</text>
<rect x="264.3" y="126.3" width="8.8" height="5" fill="#fff"/>
<text x="264.6" y="130.8" class="sm" textLength="7.8" lengthAdjust="spacingAndGlyphs">5.5</text>
<rect x="264.3" y="147.0" width="8.8" height="5" fill="#fff"/>
<text x="264.6" y="151.5" class="sm" textLength="7.8" lengthAdjust="spacingAndGlyphs">4.5</text>
<rect x="264.3" y="163.5" width="8.8" height="5" fill="#fff"/>
<text x="264.6" y="168.0" class="sm" textLength="7.8" lengthAdjust="spacingAndGlyphs">3.5</text>
<rect x="264.3" y="182.5" width="8.8" height="5" fill="#fff"/>
<text x="264.6" y="187.0" class="sm" textLength="7.8" lengthAdjust="spacingAndGlyphs">2.5</text>
<rect x="264.3" y="207.2" width="8.8" height="5" fill="#fff"/>
<text x="264.6" y="211.7" class="sm" textLength="7.8" lengthAdjust="spacingAndGlyphs">1.5</text>
<rect x="200.79" y="333.9" width="1.05" height="8.8" fill="url(#gd)"/>
<line x1="201.3" y1="349.6" x2="201.3" y2="354.6" stroke="#888" stroke-width="1"/>
<rect x="205.52" y="334.0" width="1.05" height="8.7" fill="url(#gd)"/>
<line x1="206.0" y1="350.0" x2="206.0" y2="355.0" stroke="#888" stroke-width="1"/>
<rect x="210.03" y="334.2" width="1.05" height="8.6" fill="url(#gd)"/>
<line x1="210.5" y1="350.4" x2="210.5" y2="355.4" stroke="#888" stroke-width="1"/>
<rect x="214.65" y="334.4" width="1.05" height="8.5" fill="url(#gd)"/>
<line x1="215.1" y1="350.9" x2="215.1" y2="355.9" stroke="#888" stroke-width="1"/>
<rect x="219.78" y="334.7" width="1.05" height="8.4" fill="url(#gd)"/>
<line x1="220.3" y1="351.5" x2="220.3" y2="356.5" stroke="#888" stroke-width="1"/>
<rect x="225.01" y="334.9" width="1.05" height="8.3" fill="url(#gd)"/>
<line x1="225.5" y1="352.4" x2="225.5" y2="357.4" stroke="#888" stroke-width="1"/>
<rect x="225.01" y="345.98" width="1.0" height="1.0" fill="#787878"/>
<rect x="230.14" y="335.2" width="1.05" height="8.2" fill="url(#gd)"/>
<line x1="230.6" y1="353.2" x2="230.6" y2="358.2" stroke="#888" stroke-width="1"/>
<rect x="230.14" y="346.95" width="1.0" height="1.0" fill="#787878"/>
<rect x="235.48" y="335.5" width="1.05" height="8.0" fill="url(#gd)"/>
<line x1="236.0" y1="354.7" x2="236.0" y2="359.7" stroke="#888" stroke-width="1"/>
<rect x="235.48" y="347.96" width="1.0" height="1.0" fill="#787878"/>
<rect x="240.82" y="335.8" width="1.05" height="7.9" fill="url(#gd)"/>
<line x1="241.3" y1="356.0" x2="241.3" y2="361.0" stroke="#888" stroke-width="1"/>
<rect x="240.82" y="348.97" width="1.0" height="1.0" fill="#787878"/>
<rect x="246.56" y="336.1" width="1.05" height="7.8" fill="url(#gd)"/>
<line x1="247.1" y1="357.5" x2="247.1" y2="362.5" stroke="#888" stroke-width="1"/>
<rect x="246.56" y="350.06" width="1.0" height="1.0" fill="#787878"/>
<rect x="252.41" y="336.5" width="1.05" height="7.7" fill="url(#gd)"/>
<rect x="252.41" y="351.18" width="1.0" height="1.0" fill="#787878"/>
<rect x="258.16" y="336.8" width="1.05" height="7.5" fill="url(#gd)"/>
<rect x="258.16" y="352.13" width="1.0" height="1.0" fill="#787878"/>
<rect x="264.11" y="337.4" width="1.05" height="7.4" fill="url(#gd)"/>
<rect x="264.11" y="353.11" width="1.0" height="1.0" fill="#787878"/>
<rect x="268.94" y="337.6" width="1.05" height="7.3" fill="url(#gd)"/>
<rect x="268.94" y="353.90" width="1.0" height="1.0" fill="#787878"/>
<rect x="273.55" y="338.0" width="1.05" height="7.2" fill="url(#gd)"/>
<rect x="273.55" y="354.66" width="1.0" height="1.0" fill="#787878"/>
<rect x="277.97" y="338.6" width="1.05" height="7.1" fill="url(#gd)"/>
<rect x="277.97" y="355.21" width="1.0" height="1.0" fill="#787878"/>
<rect x="282.58" y="338.9" width="1.05" height="7.0" fill="url(#gd)"/>
<rect x="282.58" y="355.77" width="1.0" height="1.0" fill="#787878"/>
<rect x="282.58" y="384.80" width="1.0" height="1.0" fill="#787878"/>
<rect x="287.30" y="339.3" width="1.05" height="6.9" fill="url(#gd)"/>
<rect x="287.30" y="356.34" width="1.0" height="1.0" fill="#787878"/>
<rect x="287.30" y="386.62" width="1.0" height="1.0" fill="#787878"/>
<rect x="292.64" y="339.9" width="1.05" height="6.8" fill="url(#gd)"/>
<rect x="292.64" y="356.99" width="1.0" height="1.0" fill="#787878"/>
<rect x="292.64" y="388.50" width="1.0" height="1.0" fill="#787878"/>
<rect x="298.49" y="340.3" width="1.05" height="6.7" fill="url(#gd)"/>
<rect x="298.49" y="357.70" width="1.0" height="1.0" fill="#787878"/>
<rect x="298.49" y="388.57" width="1.0" height="1.0" fill="#787878"/>
<rect x="298.49" y="410.69" width="1.0" height="1.0" fill="#787878"/>
<rect x="304.44" y="340.9" width="1.05" height="6.5" fill="url(#gd)"/>
<rect x="304.44" y="358.19" width="1.0" height="1.0" fill="#787878"/>
<rect x="304.44" y="388.63" width="1.0" height="1.0" fill="#787878"/>
<rect x="304.44" y="412.93" width="1.0" height="1.0" fill="#787878"/>
<rect x="310.50" y="341.3" width="1.05" height="6.4" fill="url(#gd)"/>
<rect x="310.50" y="358.69" width="1.0" height="1.0" fill="#787878"/>
<rect x="310.50" y="388.70" width="1.0" height="1.0" fill="#787878"/>
<rect x="310.50" y="415.22" width="1.0" height="1.0" fill="#787878"/>
<rect x="316.55" y="341.9" width="1.05" height="6.3" fill="url(#gd)"/>
<rect x="316.55" y="359.19" width="1.0" height="1.0" fill="#787878"/>
<rect x="316.55" y="388.76" width="1.0" height="1.0" fill="#787878"/>
<rect x="316.55" y="416.71" width="1.0" height="1.0" fill="#787878"/>
<rect x="316.55" y="434.60" width="1.0" height="1.0" fill="#787878"/>
<rect x="322.61" y="342.7" width="1.05" height="6.1" fill="url(#gd)"/>
<rect x="322.61" y="359.69" width="1.0" height="1.0" fill="#787878"/>
<rect x="322.61" y="388.83" width="1.0" height="1.0" fill="#787878"/>
<rect x="322.61" y="418.16" width="1.0" height="1.0" fill="#787878"/>
<rect x="322.61" y="437.94" width="1.0" height="1.0" fill="#787878"/>
<rect x="328.87" y="343.4" width="1.05" height="6.0" fill="url(#gd)"/>
<rect x="328.87" y="360.21" width="1.0" height="1.0" fill="#787878"/>
<rect x="328.87" y="388.90" width="1.0" height="1.0" fill="#787878"/>
<rect x="328.87" y="419.67" width="1.0" height="1.0" fill="#787878"/>
<rect x="328.87" y="441.33" width="1.0" height="1.0" fill="#787878"/>
<rect x="335.43" y="344.1" width="1.05" height="5.8" fill="url(#gd)"/>
<rect x="335.43" y="360.70" width="1.0" height="1.0" fill="#787878"/>
<rect x="335.43" y="389.21" width="1.0" height="1.0" fill="#787878"/>
<rect x="335.43" y="419.92" width="1.0" height="1.0" fill="#787878"/>
<rect x="335.43" y="443.20" width="1.0" height="1.0" fill="#787878"/>
<rect x="335.43" y="460.07" width="1.0" height="1.0" fill="#787878"/>
<rect x="342.11" y="344.8" width="1.05" height="5.7" fill="url(#gd)"/>
<rect x="342.11" y="361.19" width="1.0" height="1.0" fill="#787878"/>
<rect x="342.11" y="389.53" width="1.0" height="1.0" fill="#787878"/>
<rect x="342.11" y="420.15" width="1.0" height="1.0" fill="#787878"/>
<rect x="342.11" y="444.51" width="1.0" height="1.0" fill="#787878"/>
<rect x="342.11" y="463.54" width="1.0" height="1.0" fill="#787878"/>
<rect x="342.11" y="468.23" width="1.0" height="1.0" fill="#787878"/>
<rect x="348.88" y="345.4" width="1.05" height="5.6" fill="url(#gd)"/>
<rect x="348.88" y="361.68" width="1.0" height="1.0" fill="#787878"/>
<rect x="348.88" y="389.86" width="1.0" height="1.0" fill="#787878"/>
<rect x="348.88" y="420.38" width="1.0" height="1.0" fill="#787878"/>
<rect x="348.88" y="445.82" width="1.0" height="1.0" fill="#787878"/>
<rect x="348.88" y="465.95" width="1.0" height="1.0" fill="#787878"/>
<rect x="348.88" y="475.54" width="1.0" height="1.0" fill="#787878"/>
<rect x="355.55" y="346.1" width="1.05" height="5.4" fill="url(#gd)"/>
<rect x="355.55" y="362.17" width="1.0" height="1.0" fill="#787878"/>
<rect x="355.55" y="390.18" width="1.0" height="1.0" fill="#787878"/>
<rect x="355.55" y="420.61" width="1.0" height="1.0" fill="#787878"/>
<rect x="355.55" y="447.10" width="1.0" height="1.0" fill="#787878"/>
<rect x="355.55" y="468.31" width="1.0" height="1.0" fill="#787878"/>
<rect x="355.55" y="481.09" width="1.0" height="1.0" fill="#787878"/>
<rect x="362.32" y="346.7" width="1.05" height="5.3" fill="url(#gd)"/>
<rect x="362.32" y="362.66" width="1.0" height="1.0" fill="#787878"/>
<rect x="362.32" y="390.50" width="1.0" height="1.0" fill="#787878"/>
<rect x="362.32" y="420.84" width="1.0" height="1.0" fill="#787878"/>
<rect x="362.32" y="448.41" width="1.0" height="1.0" fill="#787878"/>
<rect x="362.32" y="469.14" width="1.0" height="1.0" fill="#787878"/>
<rect x="362.32" y="486.61" width="1.0" height="1.0" fill="#787878"/>
<rect x="362.32" y="488.04" width="1.0" height="1.0" fill="#787878"/>
<rect x="369.61" y="347.5" width="1.05" height="5.1" fill="url(#gd)"/>
<rect x="369.61" y="363.20" width="1.0" height="1.0" fill="#787878"/>
<rect x="369.61" y="390.85" width="1.0" height="1.0" fill="#787878"/>
<rect x="369.61" y="421.09" width="1.0" height="1.0" fill="#787878"/>
<rect x="369.61" y="449.08" width="1.0" height="1.0" fill="#787878"/>
<rect x="369.61" y="470.04" width="1.0" height="1.0" fill="#787878"/>
<rect x="369.61" y="490.26" width="1.0" height="1.0" fill="#787878"/>
<rect x="369.61" y="492.62" width="1.0" height="1.0" fill="#787878"/>
<rect x="376.48" y="348.1" width="1.05" height="4.9" fill="url(#gd)"/>
<rect x="376.48" y="363.70" width="1.0" height="1.0" fill="#787878"/>
<rect x="376.48" y="391.18" width="1.0" height="1.0" fill="#787878"/>
<rect x="376.48" y="421.32" width="1.0" height="1.0" fill="#787878"/>
<rect x="376.48" y="449.67" width="1.0" height="1.0" fill="#787878"/>
<rect x="376.48" y="470.89" width="1.0" height="1.0" fill="#787878"/>
<rect x="376.48" y="491.36" width="1.0" height="1.0" fill="#787878"/>
<rect x="376.48" y="496.78" width="1.0" height="1.0" fill="#787878"/>
<rect x="383.77" y="348.8" width="1.05" height="4.8" fill="url(#gd)"/>
<rect x="383.77" y="364.23" width="1.0" height="1.0" fill="#787878"/>
<rect x="383.77" y="391.54" width="1.0" height="1.0" fill="#787878"/>
<rect x="383.77" y="421.57" width="1.0" height="1.0" fill="#787878"/>
<rect x="383.77" y="450.30" width="1.0" height="1.0" fill="#787878"/>
<rect x="383.77" y="471.79" width="1.0" height="1.0" fill="#787878"/>
<rect x="383.77" y="492.28" width="1.0" height="1.0" fill="#787878"/>
<rect x="383.77" y="500.73" width="1.0" height="1.0" fill="#787878"/>
<rect x="390.95" y="349.4" width="1.05" height="4.6" fill="url(#gd)"/>
<rect x="390.95" y="364.76" width="1.0" height="1.0" fill="#787878"/>
<rect x="390.95" y="391.88" width="1.0" height="1.0" fill="#787878"/>
<rect x="390.95" y="421.81" width="1.0" height="1.0" fill="#787878"/>
<rect x="390.95" y="450.91" width="1.0" height="1.0" fill="#787878"/>
<rect x="390.95" y="472.67" width="1.0" height="1.0" fill="#787878"/>
<rect x="390.95" y="493.17" width="1.0" height="1.0" fill="#787878"/>
<rect x="390.95" y="504.54" width="1.0" height="1.0" fill="#787878"/>
<rect x="398.34" y="350.3" width="1.05" height="4.5" fill="url(#gd)"/>
<rect x="398.34" y="365.30" width="1.0" height="1.0" fill="#787878"/>
<rect x="398.34" y="392.24" width="1.0" height="1.0" fill="#787878"/>
<rect x="398.34" y="422.07" width="1.0" height="1.0" fill="#787878"/>
<rect x="398.34" y="451.12" width="1.0" height="1.0" fill="#787878"/>
<rect x="398.34" y="473.32" width="1.0" height="1.0" fill="#787878"/>
<rect x="398.34" y="493.86" width="1.0" height="1.0" fill="#787878"/>
<rect x="398.34" y="509.05" width="1.0" height="1.0" fill="#787878"/>
<rect x="405.63" y="351.0" width="1.05" height="4.3" fill="url(#gd)"/>
<rect x="405.63" y="365.83" width="1.0" height="1.0" fill="#787878"/>
<rect x="405.63" y="392.59" width="1.0" height="1.0" fill="#787878"/>
<rect x="405.63" y="422.31" width="1.0" height="1.0" fill="#787878"/>
<rect x="405.63" y="451.27" width="1.0" height="1.0" fill="#787878"/>
<rect x="405.63" y="473.92" width="1.0" height="1.0" fill="#787878"/>
<rect x="405.63" y="494.50" width="1.0" height="1.0" fill="#787878"/>
<rect x="405.63" y="513.55" width="1.0" height="1.0" fill="#787878"/>
<rect x="413.02" y="351.7" width="1.05" height="4.1" fill="url(#gd)"/>
<rect x="413.02" y="366.37" width="1.0" height="1.0" fill="#787878"/>
<rect x="413.02" y="392.94" width="1.0" height="1.0" fill="#787878"/>
<rect x="413.02" y="422.57" width="1.0" height="1.0" fill="#787878"/>
<rect x="413.02" y="451.41" width="1.0" height="1.0" fill="#787878"/>
<rect x="413.02" y="474.53" width="1.0" height="1.0" fill="#787878"/>
<rect x="413.02" y="495.15" width="1.0" height="1.0" fill="#787878"/>
<rect x="413.02" y="516.47" width="1.0" height="1.0" fill="#787878"/>
<rect x="413.02" y="513.06" width="1.0" height="1.0" fill="#787878"/>
<rect x="420.51" y="352.4" width="1.05" height="4.0" fill="url(#gd)"/>
<rect x="420.51" y="366.92" width="1.0" height="1.0" fill="#787878"/>
<rect x="420.51" y="393.30" width="1.0" height="1.0" fill="#787878"/>
<rect x="420.51" y="422.82" width="1.0" height="1.0" fill="#787878"/>
<rect x="420.51" y="451.56" width="1.0" height="1.0" fill="#787878"/>
<rect x="420.51" y="475.15" width="1.0" height="1.0" fill="#787878"/>
<rect x="420.51" y="495.82" width="1.0" height="1.0" fill="#787878"/>
<rect x="420.51" y="519.43" width="1.0" height="1.0" fill="#787878"/>
<rect x="420.51" y="515.03" width="1.0" height="1.0" fill="#787878"/>
<rect x="428.20" y="353.0" width="1.05" height="3.8" fill="url(#gd)"/>
<rect x="428.20" y="367.48" width="1.0" height="1.0" fill="#787878"/>
<rect x="428.20" y="393.67" width="1.0" height="1.0" fill="#787878"/>
<rect x="428.20" y="423.08" width="1.0" height="1.0" fill="#787878"/>
<rect x="428.20" y="451.71" width="1.0" height="1.0" fill="#787878"/>
<rect x="428.20" y="475.78" width="1.0" height="1.0" fill="#787878"/>
<rect x="428.20" y="496.49" width="1.0" height="1.0" fill="#787878"/>
<rect x="428.20" y="522.05" width="1.0" height="1.0" fill="#787878"/>
<rect x="428.20" y="517.04" width="1.0" height="1.0" fill="#787878"/>
<rect x="435.90" y="353.7" width="1.05" height="3.6" fill="url(#gd)"/>
<rect x="435.90" y="368.05" width="1.0" height="1.0" fill="#787878"/>
<rect x="435.90" y="394.04" width="1.0" height="1.0" fill="#787878"/>
<rect x="435.90" y="423.35" width="1.0" height="1.0" fill="#787878"/>
<rect x="435.90" y="451.86" width="1.0" height="1.0" fill="#787878"/>
<rect x="435.90" y="476.42" width="1.0" height="1.0" fill="#787878"/>
<rect x="435.90" y="497.17" width="1.0" height="1.0" fill="#787878"/>
<rect x="435.90" y="524.62" width="1.0" height="1.0" fill="#787878"/>
<rect x="435.90" y="518.45" width="1.0" height="1.0" fill="#787878"/>
<rect x="443.50" y="354.5" width="1.05" height="3.5" fill="url(#gd)"/>
<rect x="443.50" y="368.60" width="1.0" height="1.0" fill="#787878"/>
<rect x="443.50" y="394.41" width="1.0" height="1.0" fill="#787878"/>
<rect x="443.50" y="423.61" width="1.0" height="1.0" fill="#787878"/>
<rect x="443.50" y="451.99" width="1.0" height="1.0" fill="#787878"/>
<rect x="443.50" y="477.03" width="1.0" height="1.0" fill="#787878"/>
<rect x="443.50" y="497.84" width="1.0" height="1.0" fill="#787878"/>
<rect x="443.50" y="527.15" width="1.0" height="1.0" fill="#787878"/>
<rect x="443.50" y="519.85" width="1.0" height="1.0" fill="#787878"/>
<rect x="451.71" y="355.5" width="1.05" height="3.3" fill="url(#gd)"/>
<rect x="451.71" y="369.22" width="1.0" height="1.0" fill="#787878"/>
<rect x="451.71" y="394.81" width="1.0" height="1.0" fill="#787878"/>
<rect x="451.71" y="424.01" width="1.0" height="1.0" fill="#787878"/>
<rect x="451.71" y="451.80" width="1.0" height="1.0" fill="#787878"/>
<rect x="451.71" y="477.51" width="1.0" height="1.0" fill="#787878"/>
<rect x="451.71" y="498.52" width="1.0" height="1.0" fill="#787878"/>
<rect x="451.71" y="529.56" width="1.0" height="1.0" fill="#787878"/>
<rect x="451.71" y="521.03" width="1.0" height="1.0" fill="#787878"/>
<rect x="258.70" y="359.80" width="1.2" height="1.2" fill="#6e6e6e"/>
<rect x="264.30" y="363.60" width="1.2" height="1.2" fill="#6e6e6e"/>
<rect x="269.60" y="370.00" width="1.2" height="1.2" fill="#6e6e6e"/>
<rect x="274.10" y="378.60" width="1.2" height="1.2" fill="#6e6e6e"/>
<rect x="278.50" y="388.80" width="1.2" height="1.2" fill="#6e6e6e"/>
<rect x="283.20" y="396.90" width="1.2" height="1.2" fill="#6e6e6e"/>
<rect x="288.50" y="404.50" width="1.2" height="1.2" fill="#6e6e6e"/>
<rect x="293.60" y="411.10" width="1.2" height="1.2" fill="#6e6e6e"/>
<rect x="299.20" y="417.70" width="1.2" height="1.2" fill="#6e6e6e"/>
<rect x="304.90" y="425.20" width="1.2" height="1.2" fill="#6e6e6e"/>
<rect x="311.10" y="431.90" width="1.2" height="1.2" fill="#6e6e6e"/>
<rect x="316.80" y="439.40" width="1.2" height="1.2" fill="#6e6e6e"/>
<polyline points="201.5,347.6 203.5,347.8 205.5,348.0 207.5,348.2 209.5,348.4 211.5,348.5 213.5,348.7 215.5,348.9 217.5,349.1 219.5,349.4 221.5,349.7 223.5,350.1 225.5,350.4 227.5,350.7 229.5,351.0 231.5,351.4 233.5,352.1 235.5,352.6 237.5,353.1 239.5,353.5 241.5,354.0 243.5,354.5 245.5,355.1 247.5,355.6 249.5,356.3 251.5,357.1 253.5,358.0 255.5,359.0 257.5,360.2 259.5,361.5 261.5,363.1 263.5,364.8 265.5,366.9 267.5,369.1 269.5,371.6 271.5,374.3 273.5,377.2 275.5,380.3 277.5,383.5 279.5,386.8 281.5,390.1 283.5,393.5 285.5,396.8 287.5,400.1 289.5,403.3 291.5,406.4 293.5,409.5 295.5,412.5 297.5,415.6 299.5,418.6 301.5,421.6 303.5,424.7 305.5,427.7 307.5,430.8 309.5,433.8 311.5,436.9 313.5,440.0 315.5,443.1 317.5,446.2 319.5,449.2 321.5,452.2 323.5,455.2 325.5,458.2 327.5,461.1 329.5,463.9 331.5,466.7 333.5,469.4 335.5,472.1 337.5,474.7 339.5,477.3 341.5,479.8 343.5,482.3 345.5,484.8 347.5,487.3 349.5,489.7 351.5,492.2 353.5,494.6 355.5,497.1 357.5,499.5 359.5,501.8 361.5,504.1 363.5,506.4 365.5,508.6 367.5,510.7 369.5,512.8 371.5,514.7 373.5,516.7 375.5,518.5 377.5,520.3 379.5,522.1 381.5,523.8 383.5,525.4 385.5,527.0 387.5,528.5 389.5,529.9 391.5,531.4 393.5,532.8 395.5,534.1 397.5,535.4 399.5,536.7 401.5,538.0 403.5,539.2 405.5,540.4 407.5,541.6 409.5,542.8 411.5,544.0 413.5,545.1 415.5,546.3 417.5,547.5 419.5,548.6 421.5,549.8 423.5,551.0 425.5,552.1 427.5,553.3 429.5,554.5 431.5,555.6 433.5,556.8 435.5,557.8 437.5,558.9 439.5,559.9 441.5,560.9 443.5,561.8 445.5,562.7 447.5,563.4 449.5,564.1 451.5,564.8 452.0,564.9" fill="none" stroke="#444" stroke-width="1"/>
<line x1="201.5" y1="459.4" x2="452" y2="450" stroke="#6a6a6a" stroke-width="1.1" stroke-dasharray="4.5 3.35"/>
<rect x="398.1" y="361.8" width="9.6" height="5.8" fill="#fff"/>
<text x="398.6" y="366.8" class="sm" textLength="8.6" lengthAdjust="spacingAndGlyphs">0.0</text>
<rect x="397.9" y="389.5" width="9.6" height="5.8" fill="#fff"/>
<text x="398.4" y="394.5" class="sm" textLength="8.6" lengthAdjust="spacingAndGlyphs">0.5</text>
<rect x="397.9" y="419.4" width="9.6" height="5.8" fill="#fff"/>
<text x="398.4" y="424.4" class="sm" textLength="8.6" lengthAdjust="spacingAndGlyphs">1.0</text>
<rect x="398.9" y="448.5" width="9.6" height="5.8" fill="#fff"/>
<text x="399.4" y="453.5" class="sm" textLength="8.6" lengthAdjust="spacingAndGlyphs">1.5</text>
<rect x="398.3" y="470.0" width="9.6" height="5.8" fill="#fff"/>
<text x="398.8" y="475.0" class="sm" textLength="8.6" lengthAdjust="spacingAndGlyphs">2.0</text>
<rect x="398.9" y="490.0" width="9.6" height="5.8" fill="#fff"/>
<text x="399.4" y="495.0" class="sm" textLength="8.6" lengthAdjust="spacingAndGlyphs">2.5</text>
<rect x="398.9" y="504.0" width="9.6" height="5.8" fill="#fff"/>
<text x="399.4" y="509.0" class="sm" textLength="8.6" lengthAdjust="spacingAndGlyphs">3.0</text>
<text transform="translate(8.8,188.5) rotate(-90) scale(1.0,1)" class="lb" style="font-size:11px;word-spacing:3.58px">log q = log (1−M(r)/M<tspan font-size="6" dy="1.2">•</tspan><tspan dy="-1.2">)</tspan></text>
<text transform="translate(305.9,187.6) rotate(-90) scale(1.0,1)" class="lb" style="font-size:11px;word-spacing:3.77px">log q = log (1−M(r)/M<tspan font-size="6" dy="1.2">•</tspan><tspan dy="-1.2">)</tspan></text>
<text transform="translate(166.1,546.0) rotate(-90) scale(1.1,1)" class="lb" style="font-size:11px;word-spacing:2.72px">log q or (log τ<tspan font-size="6.5" dy="1.8">th</tspan><tspan dy="-1.8">−14) or (log P</tspan><tspan font-size="6.5" dy="1.8">crit</tspan><tspan dy="-1.8">−14)</tspan></text>
<text x="148.5" y="287.6" class="lb" style="font-size:10.5px">T</text>
<text x="154.6" y="289.9" class="lb" style="font-size:6.6px;font-style:italic;font-weight:bold;stroke-width:0.05px" textLength="7.9" lengthAdjust="spacingAndGlyphs">eff</text>
<text x="167.2" y="287.6" class="lb" style="font-size:10.5px" textLength="14.3" lengthAdjust="spacingAndGlyphs">(K)</text>
<text x="445.9" y="285.3" class="lb" style="font-size:10.5px">T</text>
<text x="452.2" y="287.6" class="lb" style="font-size:6.6px;font-style:italic;font-weight:bold;stroke-width:0.05px" textLength="7.9" lengthAdjust="spacingAndGlyphs">eff</text>
<text x="464.3" y="285.3" class="lb" style="font-size:10.5px" textLength="14.0" lengthAdjust="spacingAndGlyphs">(K)</text>
<text x="309.8" y="611.6" class="lb" style="font-size:10.5px">T</text>
<text x="315.6" y="613.9" class="lb" style="font-size:6.6px;font-style:italic;font-weight:bold;stroke-width:0.05px" textLength="7.9" lengthAdjust="spacingAndGlyphs">eff</text>
<text x="328.9" y="611.6" class="lb" style="font-size:10.5px" textLength="14.3" lengthAdjust="spacingAndGlyphs">(K)</text>
<text x="159.6" y="308.2" class="lb" style="font-size:12px" textLength="13.8" lengthAdjust="spacingAndGlyphs">(a)</text>
<text x="445.6" y="309.2" class="lb" style="font-size:12px" textLength="13.8" lengthAdjust="spacingAndGlyphs">(b)</text>
<text x="318.8" y="633.0" class="lb" style="font-size:11.5px" textLength="12.4" lengthAdjust="spacingAndGlyphs">(c)</text>
<text transform="scale(0.84,1)" x="206.55" y="220.8" class="ml" textLength="99.4" lengthAdjust="spacing">ML2/<tspan font-style="italic">α</tspan>=1.0, 0.2 M<tspan font-size="6" dy="1.8">⊙</tspan></text>
<text transform="scale(0.84,1)" x="560.24" y="219.2" class="ml" textLength="101.3" lengthAdjust="spacing">ML2/<tspan font-style="italic">α</tspan>=1.0, 0.2 M<tspan font-size="6" dy="1.8">⊙</tspan></text>
<text transform="scale(0.84,1)" x="399.52" y="543.7" class="ml" textLength="102.3" lengthAdjust="spacing">ML2/<tspan font-style="italic">α</tspan>=1.0, 0.2 M<tspan font-size="6" dy="1.8">⊙</tspan></text>
</svg></div></body></html>
